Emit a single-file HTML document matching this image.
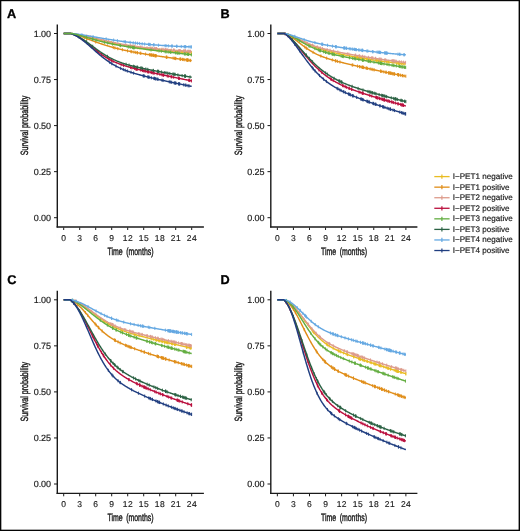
<!DOCTYPE html>
<html><head><meta charset="utf-8"><style>
html,body{margin:0;padding:0;background:#fff;}
body{width:520px;height:531px;overflow:hidden;}
svg{display:block;}
text{font-family:"Liberation Sans",sans-serif;fill:#1a1a1a;text-rendering:geometricPrecision;}
.tl{font-size:8.5px;letter-spacing:0.45px;stroke:#1a1a1a;stroke-width:0.15px;}
.at{font-size:10.5px;stroke:#1a1a1a;stroke-width:0.42px;}
.lg{font-size:8.1px;stroke:#1a1a1a;stroke-width:0.18px;}
.pl{font-size:12.7px;font-weight:bold;fill:#000;stroke:#000;stroke-width:0.3px;}
</style></head><body>
<svg width="520" height="531" viewBox="0 0 520 531" style="will-change:transform">
<rect x="0" y="0" width="520" height="531" fill="#fff"/>
<text x="7.1" y="17.65" class="pl">A</text>
<text x="220.5" y="17.75" class="pl">B</text>
<text x="7.2" y="283.85" class="pl">C</text>
<text x="220.5" y="283.85" class="pl">D</text>
<line x1="57.30" y1="24.40" x2="57.30" y2="227.60" stroke="#1a1a1a" stroke-width="1.4"/>
<line x1="56.60" y1="227.05" x2="203.90" y2="227.05" stroke="#1a1a1a" stroke-width="1.45"/>
<line x1="54.00" y1="33.50" x2="57.30" y2="33.50" stroke="#1a1a1a" stroke-width="1"/>
<text x="50.90" y="36.50" class="tl" style="font-size:9px;letter-spacing:-0.1px;stroke:#1a1a1a;stroke-width:0.17px" text-anchor="end">1.00</text>
<line x1="54.00" y1="79.55" x2="57.30" y2="79.55" stroke="#1a1a1a" stroke-width="1"/>
<text x="50.90" y="82.55" class="tl" style="font-size:9px;letter-spacing:-0.1px;stroke:#1a1a1a;stroke-width:0.17px" text-anchor="end">0.75</text>
<line x1="54.00" y1="125.60" x2="57.30" y2="125.60" stroke="#1a1a1a" stroke-width="1"/>
<text x="50.90" y="128.60" class="tl" style="font-size:9px;letter-spacing:-0.1px;stroke:#1a1a1a;stroke-width:0.17px" text-anchor="end">0.50</text>
<line x1="54.00" y1="171.65" x2="57.30" y2="171.65" stroke="#1a1a1a" stroke-width="1"/>
<text x="50.90" y="174.65" class="tl" style="font-size:9px;letter-spacing:-0.1px;stroke:#1a1a1a;stroke-width:0.17px" text-anchor="end">0.25</text>
<line x1="54.00" y1="217.70" x2="57.30" y2="217.70" stroke="#1a1a1a" stroke-width="1"/>
<text x="50.90" y="220.70" class="tl" style="font-size:9px;letter-spacing:-0.1px;stroke:#1a1a1a;stroke-width:0.17px" text-anchor="end">0.00</text>
<line x1="63.70" y1="227.50" x2="63.70" y2="230.00" stroke="#1a1a1a" stroke-width="1"/>
<text x="63.92" y="240.90" class="tl" text-anchor="middle">0</text>
<line x1="79.70" y1="227.50" x2="79.70" y2="230.00" stroke="#1a1a1a" stroke-width="1"/>
<text x="79.92" y="240.90" class="tl" text-anchor="middle">3</text>
<line x1="95.70" y1="227.50" x2="95.70" y2="230.00" stroke="#1a1a1a" stroke-width="1"/>
<text x="95.92" y="240.90" class="tl" text-anchor="middle">6</text>
<line x1="111.70" y1="227.50" x2="111.70" y2="230.00" stroke="#1a1a1a" stroke-width="1"/>
<text x="111.92" y="240.90" class="tl" text-anchor="middle">9</text>
<line x1="127.70" y1="227.50" x2="127.70" y2="230.00" stroke="#1a1a1a" stroke-width="1"/>
<text x="127.92" y="240.90" class="tl" text-anchor="middle">12</text>
<line x1="143.69" y1="227.50" x2="143.69" y2="230.00" stroke="#1a1a1a" stroke-width="1"/>
<text x="143.91" y="240.90" class="tl" text-anchor="middle">15</text>
<line x1="159.69" y1="227.50" x2="159.69" y2="230.00" stroke="#1a1a1a" stroke-width="1"/>
<text x="159.91" y="240.90" class="tl" text-anchor="middle">18</text>
<line x1="175.69" y1="227.50" x2="175.69" y2="230.00" stroke="#1a1a1a" stroke-width="1"/>
<text x="175.91" y="240.90" class="tl" text-anchor="middle">21</text>
<line x1="191.69" y1="227.50" x2="191.69" y2="230.00" stroke="#1a1a1a" stroke-width="1"/>
<text x="191.91" y="240.90" class="tl" text-anchor="middle">24</text>
<text transform="translate(130.50,255.10) scale(0.662,1)" class="at" style="word-spacing:2.4px" text-anchor="middle">Time (months)</text>
<text transform="translate(28.30,125.40) rotate(-90) scale(0.675,1)" class="at" text-anchor="middle">Survival probability</text>
<path d="M63.70,33.50L64.23,33.50L64.77,33.50L65.30,33.50L65.83,33.50L66.37,33.50L66.90,33.50L67.43,33.50L67.97,33.50L68.50,33.50L69.03,33.50L69.57,33.50L70.10,33.50L70.63,33.50L71.17,33.50L71.70,33.50L72.23,33.57L72.77,33.64L73.30,33.72L73.83,33.80L74.37,33.89L74.90,33.99L75.43,34.08L75.97,34.18L76.50,34.29L77.03,34.39L77.57,34.50L78.10,34.61L78.63,34.72L79.17,34.84L79.70,34.96L80.23,35.08L80.77,35.20L81.30,35.32L81.83,35.44L82.37,35.57L82.90,35.69L83.43,35.82L83.97,35.95L84.50,36.08L85.03,36.21L85.57,36.35L86.10,36.48L86.63,36.61L87.17,36.75L87.70,36.88L88.23,37.02L88.77,37.15L89.30,37.29L89.83,37.43L90.37,37.56L90.90,37.70L91.43,37.84L91.96,37.98L92.50,38.12L93.03,38.25L93.56,38.39L94.10,38.53L94.63,38.67L95.16,38.81L95.70,38.94L96.23,39.08L96.76,39.22L97.30,39.36L97.83,39.49L98.36,39.63L98.90,39.76L99.43,39.90L99.96,40.03L100.50,40.17L101.03,40.30L101.56,40.44L102.10,40.57L102.63,40.70L103.16,40.83L103.70,40.96L104.23,41.09L104.76,41.22L105.30,41.35L105.83,41.48L106.36,41.61L106.90,41.74L107.43,41.86L107.96,41.99L108.50,42.11L109.03,42.23L109.56,42.36L110.10,42.48L110.63,42.60L111.16,42.72L111.70,42.84L112.23,42.96L112.76,43.07L113.30,43.19L113.83,43.31L114.36,43.42L114.90,43.53L115.43,43.65L115.96,43.76L116.50,43.87L117.03,43.98L117.56,44.09L118.10,44.20L118.63,44.30L119.16,44.41L119.70,44.51L120.23,44.62L120.76,44.72L121.30,44.82L121.83,44.93L122.36,45.03L122.90,45.13L123.43,45.22L123.96,45.32L124.50,45.42L125.03,45.51L125.56,45.61L126.10,45.70L126.63,45.80L127.16,45.89L127.70,45.98L128.23,46.07L128.76,46.16L129.30,46.25L129.83,46.33L130.36,46.42L130.90,46.51L131.43,46.59L131.96,46.68L132.50,46.76L133.03,46.84L133.56,46.92L134.10,47.01L134.63,47.09L135.16,47.16L135.70,47.24L136.23,47.32L136.76,47.40L137.30,47.47L137.83,47.55L138.36,47.62L138.90,47.70L139.43,47.77L139.96,47.84L140.50,47.91L141.03,47.99L141.56,48.06L142.10,48.13L142.63,48.19L143.16,48.26L143.69,48.33L144.23,48.40L144.76,48.46L145.29,48.53L145.83,48.60L146.36,48.66L146.89,48.72L147.43,48.79L147.96,48.85L148.49,48.91L149.03,48.97L149.56,49.03L150.09,49.09L150.63,49.15L151.16,49.21L151.69,49.27L152.23,49.33L152.76,49.39L153.29,49.45L153.83,49.50L154.36,49.56L154.89,49.62L155.43,49.67L155.96,49.73L156.49,49.78L157.03,49.83L157.56,49.89L158.09,49.94L158.63,49.99L159.16,50.05L159.69,50.10L160.23,50.15L160.76,50.20L161.29,50.25L161.83,50.30L162.36,50.35L162.89,50.40L163.43,50.45L163.96,50.50L164.49,50.55L165.03,50.60L165.56,50.64L166.09,50.69L166.63,50.74L167.16,50.78L167.69,50.83L168.23,50.88L168.76,50.92L169.29,50.97L169.83,51.01L170.36,51.06L170.89,51.10L171.43,51.15L171.96,51.19L172.49,51.24L173.03,51.28L173.56,51.32L174.09,51.37L174.63,51.41L175.16,51.45L175.69,51.50L176.23,51.54L176.76,51.58L177.29,51.62L177.83,51.66L178.36,51.70L178.89,51.75L179.43,51.79L179.96,51.83L180.49,51.87L181.03,51.91L181.56,51.95L182.09,51.99L182.63,52.03L183.16,52.07L183.69,52.11L184.23,52.15L184.76,52.18L185.29,52.22L185.83,52.26L186.36,52.30L186.89,52.34L187.43,52.38L187.96,52.41L188.49,52.45L189.03,52.49L189.56,52.53L190.09,52.57L190.63,52.60L191.16,52.64L191.69,52.68" fill="none" stroke="#E9BC22" stroke-width="1.45"/>
<path d="M87.23,35.16v3.2M92.97,36.64v3.2M111.25,41.14v3.2M111.68,41.23v3.2M114.83,41.92v3.2M115.10,41.98v3.2M118.18,42.61v3.2M119.68,42.91v3.2M126.76,44.22v3.2M129.80,44.73v3.2M131.90,45.07v3.2M134.98,45.54v3.2M135.05,45.55v3.2M137.25,45.87v3.2M137.51,45.90v3.2M138.24,46.01v3.2M140.14,46.27v3.2M144.83,46.87v3.2M146.76,47.11v3.2M148.20,47.28v3.2M149.33,47.41v3.2M150.23,47.51v3.2M151.14,47.61v3.2M152.96,47.81v3.2M156.74,48.20v3.2M157.20,48.25v3.2M157.42,48.27v3.2M159.32,48.46v3.2M161.10,48.63v3.2M162.01,48.72v3.2M162.34,48.75v3.2M169.39,49.38v3.2M169.64,49.40v3.2M170.33,49.46v3.2M170.80,49.50v3.2M174.18,49.77v3.2M174.35,49.79v3.2M175.18,49.85v3.2M176.64,49.97v3.2M176.66,49.97v3.2M176.83,49.98v3.2M179.00,50.15v3.2M180.06,50.23v3.2M181.60,50.35v3.2M182.48,50.42v3.2M183.42,50.49v3.2M185.44,50.63v3.2M185.60,50.65v3.2M187.35,50.77v3.2M187.81,50.80v3.2M188.25,50.84v3.2M189.20,50.90v3.2M190.02,50.96v3.2M191.47,51.06v3.2" fill="none" stroke="#E9BC22" stroke-width="0.9"/>
<path d="M63.70,33.50L64.23,33.50L64.77,33.50L65.30,33.50L65.83,33.50L66.37,33.50L66.90,33.50L67.43,33.50L67.97,33.50L68.50,33.50L69.03,33.50L69.57,33.50L70.10,33.50L70.63,33.50L71.17,33.50L71.70,33.50L72.23,33.60L72.77,33.72L73.30,33.86L73.83,34.00L74.37,34.15L74.90,34.30L75.43,34.47L75.97,34.63L76.50,34.80L77.03,34.98L77.57,35.16L78.10,35.34L78.63,35.53L79.17,35.72L79.70,35.91L80.23,36.10L80.77,36.29L81.30,36.49L81.83,36.69L82.37,36.89L82.90,37.09L83.43,37.29L83.97,37.49L84.50,37.70L85.03,37.90L85.57,38.10L86.10,38.31L86.63,38.51L87.17,38.72L87.70,38.92L88.23,39.12L88.77,39.33L89.30,39.53L89.83,39.74L90.37,39.94L90.90,40.14L91.43,40.34L91.96,40.54L92.50,40.74L93.03,40.94L93.56,41.14L94.10,41.33L94.63,41.53L95.16,41.72L95.70,41.92L96.23,42.11L96.76,42.30L97.30,42.49L97.83,42.68L98.36,42.86L98.90,43.05L99.43,43.23L99.96,43.42L100.50,43.60L101.03,43.78L101.56,43.95L102.10,44.13L102.63,44.31L103.16,44.48L103.70,44.65L104.23,44.82L104.76,44.99L105.30,45.16L105.83,45.32L106.36,45.49L106.90,45.65L107.43,45.81L107.96,45.97L108.50,46.13L109.03,46.29L109.56,46.44L110.10,46.60L110.63,46.75L111.16,46.90L111.70,47.05L112.23,47.19L112.76,47.34L113.30,47.48L113.83,47.63L114.36,47.77L114.90,47.91L115.43,48.05L115.96,48.18L116.50,48.32L117.03,48.46L117.56,48.59L118.10,48.72L118.63,48.85L119.16,48.98L119.70,49.11L120.23,49.23L120.76,49.36L121.30,49.48L121.83,49.61L122.36,49.73L122.90,49.85L123.43,49.97L123.96,50.09L124.50,50.20L125.03,50.32L125.56,50.43L126.10,50.55L126.63,50.66L127.16,50.77L127.70,50.88L128.23,50.99L128.76,51.10L129.30,51.21L129.83,51.31L130.36,51.42L130.90,51.53L131.43,51.63L131.96,51.73L132.50,51.84L133.03,51.94L133.56,52.04L134.10,52.14L134.63,52.24L135.16,52.34L135.70,52.43L136.23,52.53L136.76,52.63L137.30,52.72L137.83,52.82L138.36,52.91L138.90,53.00L139.43,53.10L139.96,53.19L140.50,53.28L141.03,53.37L141.56,53.46L142.10,53.55L142.63,53.64L143.16,53.73L143.69,53.82L144.23,53.91L144.76,53.99L145.29,54.08L145.83,54.17L146.36,54.25L146.89,54.34L147.43,54.42L147.96,54.51L148.49,54.59L149.03,54.67L149.56,54.76L150.09,54.84L150.63,54.92L151.16,55.01L151.69,55.09L152.23,55.17L152.76,55.25L153.29,55.33L153.83,55.41L154.36,55.49L154.89,55.57L155.43,55.65L155.96,55.73L156.49,55.81L157.03,55.89L157.56,55.97L158.09,56.04L158.63,56.12L159.16,56.20L159.69,56.28L160.23,56.35L160.76,56.43L161.29,56.51L161.83,56.58L162.36,56.66L162.89,56.74L163.43,56.81L163.96,56.89L164.49,56.96L165.03,57.04L165.56,57.11L166.09,57.19L166.63,57.26L167.16,57.34L167.69,57.41L168.23,57.49L168.76,57.56L169.29,57.63L169.83,57.71L170.36,57.78L170.89,57.85L171.43,57.93L171.96,58.00L172.49,58.07L173.03,58.15L173.56,58.22L174.09,58.29L174.63,58.37L175.16,58.44L175.69,58.51L176.23,58.58L176.76,58.65L177.29,58.73L177.83,58.80L178.36,58.87L178.89,58.94L179.43,59.01L179.96,59.09L180.49,59.16L181.03,59.23L181.56,59.30L182.09,59.37L182.63,59.44L183.16,59.51L183.69,59.58L184.23,59.65L184.76,59.73L185.29,59.80L185.83,59.87L186.36,59.94L186.89,60.01L187.43,60.08L187.96,60.15L188.49,60.22L189.03,60.29L189.56,60.36L190.09,60.43L190.63,60.50L191.16,60.57L191.69,60.64" fill="none" stroke="#E08D18" stroke-width="1.45"/>
<path d="M80.11,34.45v3.2M84.42,36.07v3.2M86.72,36.95v3.2M87.08,37.08v3.2M95.72,40.32v3.2M113.28,45.88v3.2M114.87,46.30v3.2M117.80,47.05v3.2M122.41,48.14v3.2M127.49,49.24v3.2M130.91,49.93v3.2M131.75,50.09v3.2M133.96,50.51v3.2M135.70,50.83v3.2M137.27,51.12v3.2M137.35,51.13v3.2M140.21,51.63v3.2M140.83,51.74v3.2M145.57,52.52v3.2M149.53,53.15v3.2M150.36,53.28v3.2M151.30,53.43v3.2M151.42,53.44v3.2M152.38,53.59v3.2M153.41,53.75v3.2M153.43,53.75v3.2M153.88,53.82v3.2M155.03,53.99v3.2M155.15,54.01v3.2M155.36,54.04v3.2M155.55,54.07v3.2M156.40,54.19v3.2M166.23,55.61v3.2M166.73,55.68v3.2M166.78,55.68v3.2M173.17,56.57v3.2M174.62,56.76v3.2M175.44,56.88v3.2M175.86,56.93v3.2M179.88,57.47v3.2M180.65,57.58v3.2M180.69,57.58v3.2M182.54,57.83v3.2M183.27,57.93v3.2M184.78,58.13v3.2M186.36,58.34v3.2M186.86,58.40v3.2M187.57,58.50v3.2M187.70,58.51v3.2M187.84,58.53v3.2M188.10,58.57v3.2M189.92,58.81v3.2M190.59,58.90v3.2" fill="none" stroke="#E08D18" stroke-width="0.9"/>
<path d="M63.70,33.50L64.23,33.50L64.77,33.50L65.30,33.50L65.83,33.50L66.37,33.50L66.90,33.50L67.43,33.50L67.97,33.50L68.50,33.50L69.03,33.50L69.57,33.50L70.10,33.50L70.63,33.50L71.17,33.50L71.70,33.50L72.23,33.57L72.77,33.64L73.30,33.71L73.83,33.78L74.37,33.86L74.90,33.93L75.43,34.01L75.97,34.09L76.50,34.18L77.03,34.27L77.57,34.35L78.10,34.44L78.63,34.54L79.17,34.63L79.70,34.73L80.23,34.82L80.77,34.92L81.30,35.02L81.83,35.13L82.37,35.23L82.90,35.34L83.43,35.44L83.97,35.55L84.50,35.66L85.03,35.78L85.57,35.89L86.10,36.00L86.63,36.12L87.17,36.24L87.70,36.36L88.23,36.48L88.77,36.60L89.30,36.72L89.83,36.84L90.37,36.96L90.90,37.09L91.43,37.21L91.96,37.34L92.50,37.47L93.03,37.59L93.56,37.72L94.10,37.85L94.63,37.98L95.16,38.11L95.70,38.24L96.23,38.37L96.76,38.50L97.30,38.63L97.83,38.76L98.36,38.89L98.90,39.02L99.43,39.15L99.96,39.28L100.50,39.41L101.03,39.54L101.56,39.67L102.10,39.80L102.63,39.93L103.16,40.06L103.70,40.19L104.23,40.32L104.76,40.45L105.30,40.58L105.83,40.71L106.36,40.83L106.90,40.96L107.43,41.09L107.96,41.21L108.50,41.34L109.03,41.46L109.56,41.58L110.10,41.71L110.63,41.83L111.16,41.95L111.70,42.07L112.23,42.19L112.76,42.31L113.30,42.42L113.83,42.54L114.36,42.66L114.90,42.77L115.43,42.88L115.96,43.00L116.50,43.11L117.03,43.22L117.56,43.33L118.10,43.44L118.63,43.55L119.16,43.65L119.70,43.76L120.23,43.86L120.76,43.97L121.30,44.07L121.83,44.17L122.36,44.27L122.90,44.37L123.43,44.47L123.96,44.56L124.50,44.66L125.03,44.76L125.56,44.85L126.10,44.94L126.63,45.03L127.16,45.12L127.70,45.21L128.23,45.30L128.76,45.39L129.30,45.48L129.83,45.56L130.36,45.65L130.90,45.73L131.43,45.81L131.96,45.90L132.50,45.98L133.03,46.06L133.56,46.13L134.10,46.21L134.63,46.29L135.16,46.36L135.70,46.44L136.23,46.51L136.76,46.59L137.30,46.66L137.83,46.73L138.36,46.80L138.90,46.87L139.43,46.94L139.96,47.01L140.50,47.08L141.03,47.14L141.56,47.21L142.10,47.27L142.63,47.34L143.16,47.40L143.69,47.46L144.23,47.53L144.76,47.59L145.29,47.65L145.83,47.71L146.36,47.77L146.89,47.83L147.43,47.89L147.96,47.95L148.49,48.00L149.03,48.06L149.56,48.12L150.09,48.17L150.63,48.23L151.16,48.28L151.69,48.34L152.23,48.39L152.76,48.44L153.29,48.49L153.83,48.55L154.36,48.60L154.89,48.65L155.43,48.70L155.96,48.75L156.49,48.80L157.03,48.85L157.56,48.90L158.09,48.95L158.63,49.00L159.16,49.05L159.69,49.09L160.23,49.14L160.76,49.19L161.29,49.23L161.83,49.28L162.36,49.33L162.89,49.37L163.43,49.42L163.96,49.46L164.49,49.51L165.03,49.55L165.56,49.60L166.09,49.64L166.63,49.69L167.16,49.73L167.69,49.77L168.23,49.82L168.76,49.86L169.29,49.90L169.83,49.95L170.36,49.99L170.89,50.03L171.43,50.07L171.96,50.11L172.49,50.15L173.03,50.20L173.56,50.24L174.09,50.28L174.63,50.32L175.16,50.36L175.69,50.40L176.23,50.44L176.76,50.48L177.29,50.52L177.83,50.56L178.36,50.60L178.89,50.64L179.43,50.68L179.96,50.72L180.49,50.76L181.03,50.80L181.56,50.83L182.09,50.87L182.63,50.91L183.16,50.95L183.69,50.99L184.23,51.03L184.76,51.06L185.29,51.10L185.83,51.14L186.36,51.18L186.89,51.21L187.43,51.25L187.96,51.29L188.49,51.33L189.03,51.36L189.56,51.40L190.09,51.44L190.63,51.47L191.16,51.51L191.69,51.55" fill="none" stroke="#DD9B8B" stroke-width="1.45"/>
<path d="M86.91,34.58v3.2M90.66,35.43v3.2M103.62,38.57v3.2M108.56,39.75v3.2M125.78,43.29v3.2M130.42,44.06v3.2M132.10,44.32v3.2M133.79,44.57v3.2M134.54,44.68v3.2M140.32,45.45v3.2M141.85,45.64v3.2M147.01,46.24v3.2M150.09,46.57v3.2M151.01,46.67v3.2M152.24,46.79v3.2M152.69,46.84v3.2M154.53,47.01v3.2M155.77,47.13v3.2M155.95,47.15v3.2M156.29,47.18v3.2M156.35,47.19v3.2M156.81,47.23v3.2M161.92,47.69v3.2M163.29,47.81v3.2M165.15,47.96v3.2M165.66,48.01v3.2M166.12,48.04v3.2M167.78,48.18v3.2M171.35,48.47v3.2M173.50,48.63v3.2M174.00,48.67v3.2M174.10,48.68v3.2M178.79,49.03v3.2M179.15,49.06v3.2M179.65,49.10v3.2M180.58,49.16v3.2M183.45,49.37v3.2M184.08,49.42v3.2M184.58,49.45v3.2M185.43,49.51v3.2M185.56,49.52v3.2M185.60,49.52v3.2M187.74,49.67v3.2M188.55,49.73v3.2M189.75,49.81v3.2M189.97,49.83v3.2M190.55,49.87v3.2" fill="none" stroke="#DD9B8B" stroke-width="0.9"/>
<path d="M63.70,33.50L64.23,33.50L64.77,33.50L65.30,33.50L65.83,33.50L66.37,33.50L66.90,33.50L67.43,33.50L67.97,33.50L68.50,33.50L69.03,33.50L69.57,33.50L70.10,33.50L70.63,33.50L71.17,33.65L71.70,33.82L72.23,34.00L72.77,34.19L73.30,34.40L73.83,34.61L74.37,34.84L74.90,35.08L75.43,35.33L75.97,35.60L76.50,35.87L77.03,36.15L77.57,36.45L78.10,36.76L78.63,37.07L79.17,37.40L79.70,37.73L80.23,38.08L80.77,38.43L81.30,38.79L81.83,39.16L82.37,39.54L82.90,39.92L83.43,40.31L83.97,40.71L84.50,41.11L85.03,41.52L85.57,41.93L86.10,42.35L86.63,42.77L87.17,43.19L87.70,43.62L88.23,44.05L88.77,44.48L89.30,44.91L89.83,45.35L90.37,45.78L90.90,46.22L91.43,46.66L91.96,47.09L92.50,47.53L93.03,47.96L93.56,48.39L94.10,48.82L94.63,49.25L95.16,49.68L95.70,50.10L96.23,50.52L96.76,50.94L97.30,51.35L97.83,51.76L98.36,52.17L98.90,52.57L99.43,52.96L99.96,53.35L100.50,53.74L101.03,54.12L101.56,54.50L102.10,54.87L102.63,55.23L103.16,55.59L103.70,55.95L104.23,56.30L104.76,56.64L105.30,56.98L105.83,57.31L106.36,57.63L106.90,57.95L107.43,58.27L107.96,58.57L108.50,58.88L109.03,59.17L109.56,59.46L110.10,59.75L110.63,60.03L111.16,60.30L111.70,60.57L112.23,60.83L112.76,61.09L113.30,61.34L113.83,61.59L114.36,61.83L114.90,62.07L115.43,62.30L115.96,62.53L116.50,62.75L117.03,62.97L117.56,63.19L118.10,63.40L118.63,63.61L119.16,63.81L119.70,64.01L120.23,64.21L120.76,64.40L121.30,64.59L121.83,64.77L122.36,64.95L122.90,65.13L123.43,65.31L123.96,65.48L124.50,65.65L125.03,65.82L125.56,65.99L126.10,66.15L126.63,66.31L127.16,66.47L127.70,66.62L128.23,66.78L128.76,66.93L129.30,67.08L129.83,67.23L130.36,67.38L130.90,67.52L131.43,67.67L131.96,67.81L132.50,67.95L133.03,68.09L133.56,68.23L134.10,68.37L134.63,68.51L135.16,68.64L135.70,68.78L136.23,68.91L136.76,69.04L137.30,69.17L137.83,69.30L138.36,69.43L138.90,69.56L139.43,69.69L139.96,69.82L140.50,69.95L141.03,70.07L141.56,70.20L142.10,70.33L142.63,70.45L143.16,70.58L143.69,70.70L144.23,70.82L144.76,70.95L145.29,71.07L145.83,71.19L146.36,71.31L146.89,71.43L147.43,71.56L147.96,71.68L148.49,71.80L149.03,71.92L149.56,72.04L150.09,72.16L150.63,72.28L151.16,72.40L151.69,72.51L152.23,72.63L152.76,72.75L153.29,72.87L153.83,72.99L154.36,73.11L154.89,73.22L155.43,73.34L155.96,73.46L156.49,73.57L157.03,73.69L157.56,73.81L158.09,73.92L158.63,74.04L159.16,74.15L159.69,74.27L160.23,74.39L160.76,74.50L161.29,74.62L161.83,74.73L162.36,74.84L162.89,74.96L163.43,75.07L163.96,75.19L164.49,75.30L165.03,75.41L165.56,75.53L166.09,75.64L166.63,75.75L167.16,75.87L167.69,75.98L168.23,76.09L168.76,76.21L169.29,76.32L169.83,76.43L170.36,76.54L170.89,76.65L171.43,76.76L171.96,76.88L172.49,76.99L173.03,77.10L173.56,77.21L174.09,77.32L174.63,77.43L175.16,77.54L175.69,77.65L176.23,77.76L176.76,77.87L177.29,77.98L177.83,78.09L178.36,78.20L178.89,78.31L179.43,78.42L179.96,78.53L180.49,78.63L181.03,78.74L181.56,78.85L182.09,78.96L182.63,79.07L183.16,79.18L183.69,79.28L184.23,79.39L184.76,79.50L185.29,79.61L185.83,79.71L186.36,79.82L186.89,79.93L187.43,80.03L187.96,80.14L188.49,80.25L189.03,80.35L189.56,80.46L190.09,80.56L190.63,80.67L191.16,80.77L191.69,80.88" fill="none" stroke="#BA0F3D" stroke-width="1.45"/>
<path d="M97.82,50.15v3.2M98.05,50.33v3.2M101.54,52.88v3.2M108.95,57.53v3.2M108.99,57.55v3.2M111.58,58.91v3.2M113.13,59.67v3.2M121.15,62.93v3.2M123.47,63.72v3.2M130.58,65.84v3.2M131.86,66.18v3.2M134.41,66.85v3.2M135.87,67.22v3.2M136.06,67.27v3.2M136.44,67.36v3.2M136.93,67.48v3.2M137.28,67.57v3.2M140.77,68.41v3.2M142.38,68.79v3.2M142.90,68.91v3.2M143.93,69.15v3.2M144.23,69.22v3.2M145.67,69.56v3.2M147.25,69.92v3.2M147.89,70.06v3.2M148.30,70.15v3.2M148.30,70.15v3.2M150.17,70.58v3.2M151.52,70.88v3.2M152.65,71.13v3.2M153.92,71.41v3.2M154.01,71.43v3.2M157.18,72.12v3.2M159.91,72.72v3.2M161.86,73.14v3.2M162.76,73.33v3.2M163.63,73.52v3.2M163.67,73.53v3.2M167.27,74.29v3.2M168.29,74.51v3.2M171.04,75.08v3.2M171.54,75.19v3.2M173.35,75.57v3.2M178.71,76.67v3.2M178.88,76.71v3.2M179.28,76.79v3.2M188.83,78.71v3.2M189.13,78.77v3.2M189.67,78.88v3.2M191.46,79.23v3.2" fill="none" stroke="#BA0F3D" stroke-width="0.9"/>
<path d="M63.70,33.50L64.23,33.50L64.77,33.50L65.30,33.50L65.83,33.50L66.37,33.50L66.90,33.50L67.43,33.50L67.97,33.50L68.50,33.50L69.03,33.50L69.57,33.50L70.10,33.50L70.63,33.50L71.17,33.65L71.70,33.81L72.23,33.98L72.77,34.16L73.30,34.35L73.83,34.55L74.37,34.76L74.90,34.98L75.43,35.21L75.97,35.45L76.50,35.70L77.03,35.96L77.57,36.22L78.10,36.50L78.63,36.78L79.17,37.08L79.70,37.38L80.23,37.69L80.77,38.00L81.30,38.33L81.83,38.66L82.37,39.00L82.90,39.34L83.43,39.69L83.97,40.04L84.50,40.40L85.03,40.77L85.57,41.14L86.10,41.51L86.63,41.89L87.17,42.28L87.70,42.66L88.23,43.05L88.77,43.44L89.30,43.83L89.83,44.23L90.37,44.62L90.90,45.02L91.43,45.42L91.96,45.82L92.50,46.21L93.03,46.61L93.56,47.01L94.10,47.41L94.63,47.80L95.16,48.20L95.70,48.59L96.23,48.98L96.76,49.37L97.30,49.76L97.83,50.14L98.36,50.52L98.90,50.90L99.43,51.27L99.96,51.65L100.50,52.01L101.03,52.38L101.56,52.74L102.10,53.09L102.63,53.44L103.16,53.79L103.70,54.13L104.23,54.47L104.76,54.80L105.30,55.13L105.83,55.45L106.36,55.77L106.90,56.08L107.43,56.39L107.96,56.69L108.50,56.99L109.03,57.29L109.56,57.57L110.10,57.86L110.63,58.14L111.16,58.41L111.70,58.68L112.23,58.94L112.76,59.20L113.30,59.45L113.83,59.70L114.36,59.95L114.90,60.18L115.43,60.42L115.96,60.65L116.50,60.88L117.03,61.10L117.56,61.31L118.10,61.53L118.63,61.74L119.16,61.94L119.70,62.14L120.23,62.34L120.76,62.53L121.30,62.72L121.83,62.91L122.36,63.09L122.90,63.27L123.43,63.45L123.96,63.62L124.50,63.79L125.03,63.96L125.56,64.12L126.10,64.29L126.63,64.44L127.16,64.60L127.70,64.76L128.23,64.91L128.76,65.06L129.30,65.20L129.83,65.35L130.36,65.49L130.90,65.63L131.43,65.77L131.96,65.91L132.50,66.04L133.03,66.18L133.56,66.31L134.10,66.44L134.63,66.57L135.16,66.70L135.70,66.82L136.23,66.95L136.76,67.07L137.30,67.19L137.83,67.31L138.36,67.43L138.90,67.55L139.43,67.67L139.96,67.79L140.50,67.90L141.03,68.02L141.56,68.13L142.10,68.25L142.63,68.36L143.16,68.47L143.69,68.58L144.23,68.69L144.76,68.80L145.29,68.91L145.83,69.02L146.36,69.13L146.89,69.24L147.43,69.35L147.96,69.45L148.49,69.56L149.03,69.66L149.56,69.77L150.09,69.87L150.63,69.98L151.16,70.08L151.69,70.19L152.23,70.29L152.76,70.39L153.29,70.49L153.83,70.60L154.36,70.70L154.89,70.80L155.43,70.90L155.96,71.00L156.49,71.10L157.03,71.20L157.56,71.30L158.09,71.40L158.63,71.50L159.16,71.60L159.69,71.70L160.23,71.80L160.76,71.89L161.29,71.99L161.83,72.09L162.36,72.19L162.89,72.28L163.43,72.38L163.96,72.48L164.49,72.57L165.03,72.67L165.56,72.76L166.09,72.86L166.63,72.96L167.16,73.05L167.69,73.15L168.23,73.24L168.76,73.33L169.29,73.43L169.83,73.52L170.36,73.62L170.89,73.71L171.43,73.80L171.96,73.90L172.49,73.99L173.03,74.08L173.56,74.17L174.09,74.27L174.63,74.36L175.16,74.45L175.69,74.54L176.23,74.63L176.76,74.72L177.29,74.82L177.83,74.91L178.36,75.00L178.89,75.09L179.43,75.18L179.96,75.27L180.49,75.36L181.03,75.45L181.56,75.53L182.09,75.62L182.63,75.71L183.16,75.80L183.69,75.89L184.23,75.98L184.76,76.07L185.29,76.15L185.83,76.24L186.36,76.33L186.89,76.42L187.43,76.50L187.96,76.59L188.49,76.68L189.03,76.76L189.56,76.85L190.09,76.94L190.63,77.02L191.16,77.11L191.69,77.19" fill="none" stroke="#2A6143" stroke-width="1.45"/>
<path d="M78.79,35.27v3.2M86.33,40.08v3.2M92.68,44.75v3.2M107.48,54.82v3.2M126.09,62.68v3.2M129.08,63.54v3.2M133.56,64.71v3.2M134.76,65.00v3.2M136.94,65.51v3.2M137.58,65.66v3.2M140.88,66.39v3.2M141.19,66.45v3.2M142.44,66.72v3.2M145.80,67.42v3.2M147.74,67.81v3.2M153.20,68.88v3.2M153.38,68.91v3.2M157.49,69.69v3.2M157.97,69.78v3.2M158.61,69.90v3.2M158.68,69.91v3.2M161.43,70.42v3.2M164.78,71.02v3.2M166.06,71.25v3.2M167.75,71.56v3.2M169.81,71.92v3.2M172.87,72.46v3.2M173.72,72.60v3.2M174.82,72.79v3.2M174.94,72.81v3.2M177.90,73.32v3.2M182.15,74.03v3.2M184.49,74.42v3.2M184.99,74.50v3.2M185.32,74.56v3.2M185.47,74.58v3.2M190.02,75.32v3.2" fill="none" stroke="#2A6143" stroke-width="0.9"/>
<path d="M63.70,33.50L64.23,33.50L64.77,33.50L65.30,33.50L65.83,33.50L66.37,33.50L66.90,33.50L67.43,33.50L67.97,33.50L68.50,33.50L69.03,33.50L69.57,33.50L70.10,33.50L70.63,33.50L71.17,33.50L71.70,33.50L72.23,33.53L72.77,33.56L73.30,33.61L73.83,33.66L74.37,33.72L74.90,33.78L75.43,33.84L75.97,33.91L76.50,33.98L77.03,34.05L77.57,34.12L78.10,34.19L78.63,34.27L79.17,34.35L79.70,34.43L80.23,34.51L80.77,34.59L81.30,34.68L81.83,34.76L82.37,34.84L82.90,34.93L83.43,35.02L83.97,35.11L84.50,35.19L85.03,35.28L85.57,35.37L86.10,35.46L86.63,35.55L87.17,35.65L87.70,35.74L88.23,35.83L88.77,35.92L89.30,36.01L89.83,36.11L90.37,36.20L90.90,36.29L91.43,36.39L91.96,36.48L92.50,36.57L93.03,36.67L93.56,36.76L94.10,36.85L94.63,36.95L95.16,37.04L95.70,37.14L96.23,37.23L96.76,37.32L97.30,37.42L97.83,37.51L98.36,37.60L98.90,37.69L99.43,37.79L99.96,37.88L100.50,37.97L101.03,38.06L101.56,38.15L102.10,38.25L102.63,38.34L103.16,38.43L103.70,38.52L104.23,38.61L104.76,38.70L105.30,38.79L105.83,38.88L106.36,38.96L106.90,39.05L107.43,39.14L107.96,39.23L108.50,39.32L109.03,39.40L109.56,39.49L110.10,39.57L110.63,39.66L111.16,39.74L111.70,39.83L112.23,39.91L112.76,40.00L113.30,40.08L113.83,40.16L114.36,40.24L114.90,40.32L115.43,40.41L115.96,40.49L116.50,40.57L117.03,40.65L117.56,40.72L118.10,40.80L118.63,40.88L119.16,40.96L119.70,41.03L120.23,41.11L120.76,41.19L121.30,41.26L121.83,41.34L122.36,41.41L122.90,41.48L123.43,41.56L123.96,41.63L124.50,41.70L125.03,41.77L125.56,41.84L126.10,41.91L126.63,41.98L127.16,42.05L127.70,42.12L128.23,42.19L128.76,42.26L129.30,42.33L129.83,42.39L130.36,42.46L130.90,42.52L131.43,42.59L131.96,42.65L132.50,42.72L133.03,42.78L133.56,42.84L134.10,42.90L134.63,42.97L135.16,43.03L135.70,43.09L136.23,43.15L136.76,43.21L137.30,43.27L137.83,43.32L138.36,43.38L138.90,43.44L139.43,43.50L139.96,43.55L140.50,43.61L141.03,43.66L141.56,43.72L142.10,43.77L142.63,43.83L143.16,43.88L143.69,43.93L144.23,43.98L144.76,44.04L145.29,44.09L145.83,44.14L146.36,44.19L146.89,44.24L147.43,44.29L147.96,44.33L148.49,44.38L149.03,44.43L149.56,44.48L150.09,44.52L150.63,44.57L151.16,44.62L151.69,44.66L152.23,44.71L152.76,44.75L153.29,44.79L153.83,44.84L154.36,44.88L154.89,44.92L155.43,44.96L155.96,45.01L156.49,45.05L157.03,45.09L157.56,45.13L158.09,45.17L158.63,45.21L159.16,45.25L159.69,45.28L160.23,45.32L160.76,45.36L161.29,45.40L161.83,45.43L162.36,45.47L162.89,45.51L163.43,45.54L163.96,45.58L164.49,45.61L165.03,45.65L165.56,45.68L166.09,45.71L166.63,45.75L167.16,45.78L167.69,45.81L168.23,45.84L168.76,45.88L169.29,45.91L169.83,45.94L170.36,45.97L170.89,46.00L171.43,46.03L171.96,46.06L172.49,46.09L173.03,46.12L173.56,46.15L174.09,46.17L174.63,46.20L175.16,46.23L175.69,46.26L176.23,46.28L176.76,46.31L177.29,46.34L177.83,46.36L178.36,46.39L178.89,46.41L179.43,46.44L179.96,46.46L180.49,46.49L181.03,46.51L181.56,46.53L182.09,46.56L182.63,46.58L183.16,46.60L183.69,46.63L184.23,46.65L184.76,46.67L185.29,46.69L185.83,46.71L186.36,46.73L186.89,46.76L187.43,46.78L187.96,46.80L188.49,46.82L189.03,46.84L189.56,46.86L190.09,46.88L190.63,46.89L191.16,46.91L191.69,46.93" fill="none" stroke="#64A8E2" stroke-width="1.45"/>
<path d="M81.93,33.18v3.2M93.11,35.08v3.2M106.15,37.33v3.2M113.61,38.53v3.2M117.46,39.11v3.2M124.13,40.05v3.2M125.45,40.23v3.2M130.14,40.83v3.2M133.22,41.20v3.2M135.49,41.46v3.2M137.45,41.68v3.2M139.60,41.91v3.2M142.19,42.18v3.2M144.67,42.43v3.2M148.56,42.79v3.2M149.35,42.86v3.2M150.21,42.93v3.2M153.60,43.22v3.2M154.10,43.26v3.2M158.44,43.59v3.2M165.06,44.05v3.2M166.09,44.11v3.2M168.32,44.25v3.2M171.67,44.44v3.2M172.33,44.48v3.2M176.56,44.70v3.2M177.02,44.72v3.2M181.27,44.92v3.2M184.13,45.04v3.2M184.88,45.07v3.2M185.28,45.09v3.2M185.77,45.11v3.2M189.02,45.24v3.2M190.92,45.30v3.2M191.28,45.32v3.2" fill="none" stroke="#64A8E2" stroke-width="0.9"/>
<path d="M63.70,33.50L64.23,33.50L64.77,33.50L65.30,33.50L65.83,33.50L66.37,33.50L66.90,33.50L67.43,33.50L67.97,33.50L68.50,33.50L69.03,33.50L69.57,33.50L70.10,33.50L70.63,33.50L71.17,33.68L71.70,33.87L72.23,34.08L72.77,34.29L73.30,34.52L73.83,34.76L74.37,35.01L74.90,35.27L75.43,35.54L75.97,35.83L76.50,36.12L77.03,36.43L77.57,36.74L78.10,37.07L78.63,37.41L79.17,37.75L79.70,38.11L80.23,38.48L80.77,38.85L81.30,39.23L81.83,39.62L82.37,40.02L82.90,40.43L83.43,40.84L83.97,41.26L84.50,41.69L85.03,42.12L85.57,42.56L86.10,43.00L86.63,43.45L87.17,43.90L87.70,44.36L88.23,44.82L88.77,45.28L89.30,45.74L89.83,46.21L90.37,46.68L90.90,47.15L91.43,47.63L91.96,48.10L92.50,48.58L93.03,49.05L93.56,49.52L94.10,50.00L94.63,50.47L95.16,50.94L95.70,51.41L96.23,51.88L96.76,52.34L97.30,52.81L97.83,53.27L98.36,53.72L98.90,54.18L99.43,54.63L99.96,55.08L100.50,55.52L101.03,55.96L101.56,56.39L102.10,56.82L102.63,57.24L103.16,57.66L103.70,58.08L104.23,58.49L104.76,58.89L105.30,59.29L105.83,59.68L106.36,60.07L106.90,60.45L107.43,60.83L107.96,61.20L108.50,61.57L109.03,61.92L109.56,62.28L110.10,62.62L110.63,62.97L111.16,63.30L111.70,63.63L112.23,63.96L112.76,64.27L113.30,64.59L113.83,64.89L114.36,65.19L114.90,65.49L115.43,65.78L115.96,66.07L116.50,66.35L117.03,66.62L117.56,66.89L118.10,67.15L118.63,67.41L119.16,67.67L119.70,67.92L120.23,68.16L120.76,68.40L121.30,68.64L121.83,68.87L122.36,69.10L122.90,69.32L123.43,69.54L123.96,69.76L124.50,69.97L125.03,70.18L125.56,70.38L126.10,70.59L126.63,70.78L127.16,70.98L127.70,71.17L128.23,71.36L128.76,71.54L129.30,71.73L129.83,71.91L130.36,72.08L130.90,72.26L131.43,72.43L131.96,72.60L132.50,72.77L133.03,72.94L133.56,73.10L134.10,73.26L134.63,73.42L135.16,73.58L135.70,73.74L136.23,73.89L136.76,74.04L137.30,74.19L137.83,74.34L138.36,74.49L138.90,74.64L139.43,74.78L139.96,74.93L140.50,75.07L141.03,75.21L141.56,75.35L142.10,75.49L142.63,75.63L143.16,75.77L143.69,75.91L144.23,76.04L144.76,76.18L145.29,76.31L145.83,76.44L146.36,76.58L146.89,76.71L147.43,76.84L147.96,76.97L148.49,77.10L149.03,77.23L149.56,77.36L150.09,77.49L150.63,77.61L151.16,77.74L151.69,77.87L152.23,77.99L152.76,78.12L153.29,78.24L153.83,78.37L154.36,78.49L154.89,78.61L155.43,78.74L155.96,78.86L156.49,78.98L157.03,79.10L157.56,79.22L158.09,79.35L158.63,79.47L159.16,79.59L159.69,79.71L160.23,79.83L160.76,79.95L161.29,80.06L161.83,80.18L162.36,80.30L162.89,80.42L163.43,80.54L163.96,80.65L164.49,80.77L165.03,80.89L165.56,81.01L166.09,81.12L166.63,81.24L167.16,81.35L167.69,81.47L168.23,81.58L168.76,81.70L169.29,81.81L169.83,81.93L170.36,82.04L170.89,82.15L171.43,82.27L171.96,82.38L172.49,82.49L173.03,82.61L173.56,82.72L174.09,82.83L174.63,82.94L175.16,83.05L175.69,83.17L176.23,83.28L176.76,83.39L177.29,83.50L177.83,83.61L178.36,83.72L178.89,83.83L179.43,83.94L179.96,84.05L180.49,84.16L181.03,84.26L181.56,84.37L182.09,84.48L182.63,84.59L183.16,84.70L183.69,84.81L184.23,84.91L184.76,85.02L185.29,85.13L185.83,85.23L186.36,85.34L186.89,85.45L187.43,85.55L187.96,85.66L188.49,85.76L189.03,85.87L189.56,85.97L190.09,86.08L190.63,86.18L191.16,86.29L191.69,86.39" fill="none" stroke="#203E80" stroke-width="1.45"/>
<path d="M109.81,60.84v3.2M111.77,62.08v3.2M116.05,64.51v3.2M120.67,66.76v3.2M123.27,67.88v3.2M125.21,68.65v3.2M127.33,69.44v3.2M131.00,70.69v3.2M133.60,71.51v3.2M143.12,74.16v3.2M143.69,74.31v3.2M144.26,74.45v3.2M147.72,75.31v3.2M148.58,75.52v3.2M149.15,75.66v3.2M151.35,76.18v3.2M154.06,76.82v3.2M154.29,76.87v3.2M154.33,76.88v3.2M155.65,77.19v3.2M155.90,77.25v3.2M157.34,77.58v3.2M158.06,77.74v3.2M162.01,78.62v3.2M163.11,78.87v3.2M169.28,80.21v3.2M170.37,80.44v3.2M171.61,80.71v3.2M174.21,81.26v3.2M174.94,81.41v3.2M175.39,81.50v3.2M176.00,81.63v3.2M178.66,82.18v3.2M178.82,82.21v3.2M179.34,82.32v3.2M179.74,82.40v3.2M183.72,83.21v3.2M185.28,83.52v3.2M186.04,83.68v3.2M188.02,84.07v3.2M189.10,84.28v3.2" fill="none" stroke="#203E80" stroke-width="0.9"/>
<path d="M63.70,33.50L64.23,33.50L64.77,33.50L65.30,33.50L65.83,33.50L66.37,33.50L66.90,33.50L67.43,33.50L67.97,33.50L68.50,33.50L69.03,33.50L69.57,33.50L70.10,33.50L70.63,33.50L71.17,33.50L71.70,33.50L72.23,33.58L72.77,33.67L73.30,33.78L73.83,33.88L74.37,34.00L74.90,34.12L75.43,34.24L75.97,34.37L76.50,34.50L77.03,34.63L77.57,34.77L78.10,34.91L78.63,35.05L79.17,35.19L79.70,35.34L80.23,35.49L80.77,35.64L81.30,35.79L81.83,35.94L82.37,36.10L82.90,36.25L83.43,36.41L83.97,36.56L84.50,36.72L85.03,36.88L85.57,37.04L86.10,37.20L86.63,37.35L87.17,37.51L87.70,37.67L88.23,37.83L88.77,37.99L89.30,38.15L89.83,38.30L90.37,38.46L90.90,38.62L91.43,38.77L91.96,38.93L92.50,39.08L93.03,39.24L93.56,39.39L94.10,39.54L94.63,39.69L95.16,39.84L95.70,39.99L96.23,40.14L96.76,40.28L97.30,40.43L97.83,40.57L98.36,40.72L98.90,40.86L99.43,41.00L99.96,41.14L100.50,41.28L101.03,41.41L101.56,41.55L102.10,41.68L102.63,41.82L103.16,41.95L103.70,42.08L104.23,42.21L104.76,42.34L105.30,42.46L105.83,42.59L106.36,42.71L106.90,42.83L107.43,42.96L107.96,43.08L108.50,43.19L109.03,43.31L109.56,43.43L110.10,43.54L110.63,43.66L111.16,43.77L111.70,43.88L112.23,43.99L112.76,44.10L113.30,44.21L113.83,44.31L114.36,44.42L114.90,44.52L115.43,44.63L115.96,44.73L116.50,44.83L117.03,44.93L117.56,45.03L118.10,45.13L118.63,45.22L119.16,45.32L119.70,45.41L120.23,45.51L120.76,45.60L121.30,45.69L121.83,45.79L122.36,45.88L122.90,45.97L123.43,46.06L123.96,46.14L124.50,46.23L125.03,46.32L125.56,46.40L126.10,46.49L126.63,46.57L127.16,46.66L127.70,46.74L128.23,46.82L128.76,46.91L129.30,46.99L129.83,47.07L130.36,47.15L130.90,47.23L131.43,47.31L131.96,47.38L132.50,47.46L133.03,47.54L133.56,47.62L134.10,47.69L134.63,47.77L135.16,47.84L135.70,47.92L136.23,47.99L136.76,48.07L137.30,48.14L137.83,48.22L138.36,48.29L138.90,48.36L139.43,48.43L139.96,48.51L140.50,48.58L141.03,48.65L141.56,48.72L142.10,48.79L142.63,48.86L143.16,48.93L143.69,49.00L144.23,49.07L144.76,49.14L145.29,49.21L145.83,49.28L146.36,49.35L146.89,49.42L147.43,49.49L147.96,49.55L148.49,49.62L149.03,49.69L149.56,49.76L150.09,49.83L150.63,49.89L151.16,49.96L151.69,50.03L152.23,50.09L152.76,50.16L153.29,50.23L153.83,50.29L154.36,50.36L154.89,50.43L155.43,50.49L155.96,50.56L156.49,50.62L157.03,50.69L157.56,50.75L158.09,50.82L158.63,50.88L159.16,50.95L159.69,51.01L160.23,51.08L160.76,51.14L161.29,51.21L161.83,51.27L162.36,51.34L162.89,51.40L163.43,51.47L163.96,51.53L164.49,51.60L165.03,51.66L165.56,51.72L166.09,51.79L166.63,51.85L167.16,51.92L167.69,51.98L168.23,52.04L168.76,52.11L169.29,52.17L169.83,52.23L170.36,52.30L170.89,52.36L171.43,52.42L171.96,52.49L172.49,52.55L173.03,52.61L173.56,52.68L174.09,52.74L174.63,52.80L175.16,52.87L175.69,52.93L176.23,52.99L176.76,53.06L177.29,53.12L177.83,53.18L178.36,53.24L178.89,53.31L179.43,53.37L179.96,53.43L180.49,53.49L181.03,53.56L181.56,53.62L182.09,53.68L182.63,53.74L183.16,53.81L183.69,53.87L184.23,53.93L184.76,53.99L185.29,54.06L185.83,54.12L186.36,54.18L186.89,54.24L187.43,54.31L187.96,54.37L188.49,54.43L189.03,54.49L189.56,54.55L190.09,54.62L190.63,54.68L191.16,54.74L191.69,54.80" fill="none" stroke="#62AD40" stroke-width="1.45"/>
<path d="M86.35,35.67v3.2M92.53,37.49v3.2M92.98,37.62v3.2M96.08,38.49v3.2M104.45,40.66v3.2M107.68,41.41v3.2M112.60,42.47v3.2M120.19,43.90v3.2M120.36,43.93v3.2M128.09,45.20v3.2M128.93,45.33v3.2M130.75,45.60v3.2M132.47,45.86v3.2M133.31,45.98v3.2M133.36,45.99v3.2M133.53,46.01v3.2M134.45,46.14v3.2M151.02,48.34v3.2M158.95,49.32v3.2M161.32,49.61v3.2M165.18,50.08v3.2M166.16,50.20v3.2M168.20,50.44v3.2M170.18,50.68v3.2M170.77,50.75v3.2M175.45,51.30v3.2M177.09,51.49v3.2M177.87,51.59v3.2M179.15,51.74v3.2M184.40,52.35v3.2M185.30,52.46v3.2M187.16,52.67v3.2M187.86,52.76v3.2M188.52,52.83v3.2M191.42,53.17v3.2" fill="none" stroke="#62AD40" stroke-width="0.9"/>
<line x1="270.80" y1="24.40" x2="270.80" y2="227.60" stroke="#1a1a1a" stroke-width="1.4"/>
<line x1="270.10" y1="227.05" x2="417.40" y2="227.05" stroke="#1a1a1a" stroke-width="1.45"/>
<line x1="267.50" y1="33.50" x2="270.80" y2="33.50" stroke="#1a1a1a" stroke-width="1"/>
<text x="264.40" y="36.50" class="tl" style="font-size:9px;letter-spacing:-0.1px;stroke:#1a1a1a;stroke-width:0.17px" text-anchor="end">1.00</text>
<line x1="267.50" y1="79.55" x2="270.80" y2="79.55" stroke="#1a1a1a" stroke-width="1"/>
<text x="264.40" y="82.55" class="tl" style="font-size:9px;letter-spacing:-0.1px;stroke:#1a1a1a;stroke-width:0.17px" text-anchor="end">0.75</text>
<line x1="267.50" y1="125.60" x2="270.80" y2="125.60" stroke="#1a1a1a" stroke-width="1"/>
<text x="264.40" y="128.60" class="tl" style="font-size:9px;letter-spacing:-0.1px;stroke:#1a1a1a;stroke-width:0.17px" text-anchor="end">0.50</text>
<line x1="267.50" y1="171.65" x2="270.80" y2="171.65" stroke="#1a1a1a" stroke-width="1"/>
<text x="264.40" y="174.65" class="tl" style="font-size:9px;letter-spacing:-0.1px;stroke:#1a1a1a;stroke-width:0.17px" text-anchor="end">0.25</text>
<line x1="267.50" y1="217.70" x2="270.80" y2="217.70" stroke="#1a1a1a" stroke-width="1"/>
<text x="264.40" y="220.70" class="tl" style="font-size:9px;letter-spacing:-0.1px;stroke:#1a1a1a;stroke-width:0.17px" text-anchor="end">0.00</text>
<line x1="277.35" y1="227.50" x2="277.35" y2="230.00" stroke="#1a1a1a" stroke-width="1"/>
<text x="277.57" y="240.90" class="tl" text-anchor="middle">0</text>
<line x1="293.42" y1="227.50" x2="293.42" y2="230.00" stroke="#1a1a1a" stroke-width="1"/>
<text x="293.64" y="240.90" class="tl" text-anchor="middle">3</text>
<line x1="309.49" y1="227.50" x2="309.49" y2="230.00" stroke="#1a1a1a" stroke-width="1"/>
<text x="309.71" y="240.90" class="tl" text-anchor="middle">6</text>
<line x1="325.55" y1="227.50" x2="325.55" y2="230.00" stroke="#1a1a1a" stroke-width="1"/>
<text x="325.77" y="240.90" class="tl" text-anchor="middle">9</text>
<line x1="341.62" y1="227.50" x2="341.62" y2="230.00" stroke="#1a1a1a" stroke-width="1"/>
<text x="341.84" y="240.90" class="tl" text-anchor="middle">12</text>
<line x1="357.69" y1="227.50" x2="357.69" y2="230.00" stroke="#1a1a1a" stroke-width="1"/>
<text x="357.91" y="240.90" class="tl" text-anchor="middle">15</text>
<line x1="373.76" y1="227.50" x2="373.76" y2="230.00" stroke="#1a1a1a" stroke-width="1"/>
<text x="373.98" y="240.90" class="tl" text-anchor="middle">18</text>
<line x1="389.83" y1="227.50" x2="389.83" y2="230.00" stroke="#1a1a1a" stroke-width="1"/>
<text x="390.05" y="240.90" class="tl" text-anchor="middle">21</text>
<line x1="405.89" y1="227.50" x2="405.89" y2="230.00" stroke="#1a1a1a" stroke-width="1"/>
<text x="406.11" y="240.90" class="tl" text-anchor="middle">24</text>
<text transform="translate(344.00,255.10) scale(0.662,1)" class="at" style="word-spacing:2.4px" text-anchor="middle">Time (months)</text>
<text transform="translate(241.80,125.40) rotate(-90) scale(0.675,1)" class="at" text-anchor="middle">Survival probability</text>
<path d="M277.35,33.50L277.89,33.50L278.42,33.50L278.96,33.50L279.49,33.50L280.03,33.50L280.56,33.50L281.10,33.50L281.63,33.50L282.17,33.50L282.71,33.50L283.24,33.50L283.78,33.50L284.31,33.50L284.85,33.50L285.38,33.50L285.92,33.69L286.46,33.88L286.99,34.08L287.53,34.28L288.06,34.49L288.60,34.70L289.13,34.92L289.67,35.14L290.20,35.37L290.74,35.60L291.28,35.84L291.81,36.08L292.35,36.32L292.88,36.57L293.42,36.82L293.95,37.07L294.49,37.33L295.02,37.59L295.56,37.86L296.10,38.12L296.63,38.39L297.17,38.66L297.70,38.93L298.24,39.20L298.77,39.47L299.31,39.75L299.85,40.02L300.38,40.30L300.92,40.57L301.45,40.84L301.99,41.12L302.52,41.39L303.06,41.66L303.59,41.93L304.13,42.20L304.67,42.46L305.20,42.73L305.74,42.99L306.27,43.25L306.81,43.51L307.34,43.77L307.88,44.02L308.41,44.27L308.95,44.52L309.49,44.76L310.02,45.00L310.56,45.24L311.09,45.47L311.63,45.70L312.16,45.93L312.70,46.16L313.24,46.38L313.77,46.59L314.31,46.81L314.84,47.02L315.38,47.22L315.91,47.43L316.45,47.63L316.98,47.82L317.52,48.02L318.06,48.21L318.59,48.39L319.13,48.58L319.66,48.76L320.20,48.94L320.73,49.11L321.27,49.28L321.80,49.45L322.34,49.62L322.88,49.78L323.41,49.94L323.95,50.10L324.48,50.25L325.02,50.41L325.55,50.56L326.09,50.71L326.63,50.85L327.16,51.00L327.70,51.14L328.23,51.28L328.77,51.42L329.30,51.56L329.84,51.69L330.37,51.83L330.91,51.96L331.45,52.09L331.98,52.22L332.52,52.35L333.05,52.47L333.59,52.60L334.12,52.72L334.66,52.85L335.19,52.97L335.73,53.09L336.27,53.21L336.80,53.32L337.34,53.44L337.87,53.56L338.41,53.67L338.94,53.79L339.48,53.90L340.02,54.01L340.55,54.13L341.09,54.24L341.62,54.35L342.16,54.46L342.69,54.57L343.23,54.67L343.76,54.78L344.30,54.89L344.84,55.00L345.37,55.10L345.91,55.21L346.44,55.31L346.98,55.41L347.51,55.52L348.05,55.62L348.58,55.72L349.12,55.82L349.66,55.92L350.19,56.02L350.73,56.12L351.26,56.22L351.80,56.32L352.33,56.42L352.87,56.52L353.41,56.61L353.94,56.71L354.48,56.81L355.01,56.90L355.55,57.00L356.08,57.09L356.62,57.18L357.15,57.28L357.69,57.37L358.23,57.46L358.76,57.56L359.30,57.65L359.83,57.74L360.37,57.83L360.90,57.92L361.44,58.01L361.97,58.10L362.51,58.19L363.05,58.28L363.58,58.36L364.12,58.45L364.65,58.54L365.19,58.62L365.72,58.71L366.26,58.80L366.80,58.88L367.33,58.97L367.87,59.05L368.40,59.13L368.94,59.22L369.47,59.30L370.01,59.38L370.54,59.47L371.08,59.55L371.62,59.63L372.15,59.71L372.69,59.79L373.22,59.87L373.76,59.95L374.29,60.03L374.83,60.11L375.36,60.19L375.90,60.27L376.44,60.34L376.97,60.42L377.51,60.50L378.04,60.57L378.58,60.65L379.11,60.73L379.65,60.80L380.19,60.88L380.72,60.95L381.26,61.03L381.79,61.10L382.33,61.17L382.86,61.25L383.40,61.32L383.93,61.39L384.47,61.46L385.01,61.53L385.54,61.61L386.08,61.68L386.61,61.75L387.15,61.82L387.68,61.89L388.22,61.96L388.75,62.03L389.29,62.09L389.83,62.16L390.36,62.23L390.90,62.30L391.43,62.37L391.97,62.43L392.50,62.50L393.04,62.57L393.58,62.63L394.11,62.70L394.65,62.76L395.18,62.83L395.72,62.89L396.25,62.96L396.79,63.02L397.32,63.09L397.86,63.15L398.40,63.21L398.93,63.28L399.47,63.34L400.00,63.40L400.54,63.46L401.07,63.52L401.61,63.58L402.14,63.64L402.68,63.71L403.22,63.77L403.75,63.83L404.29,63.89L404.82,63.94L405.36,64.00L405.89,64.06" fill="none" stroke="#E9BC22" stroke-width="1.45"/>
<path d="M294.55,35.76v3.2M301.86,39.45v3.2M304.72,40.89v3.2M305.83,41.44v3.2M306.46,41.74v3.2M307.37,42.18v3.2M316.18,45.93v3.2M318.54,46.78v3.2M323.19,48.27v3.2M324.34,48.61v3.2M331.25,50.44v3.2M331.33,50.46v3.2M332.73,50.80v3.2M339.11,52.22v3.2M340.10,52.43v3.2M343.84,53.20v3.2M349.67,54.33v3.2M354.62,55.23v3.2M354.75,55.25v3.2M354.77,55.26v3.2M355.21,55.34v3.2M356.79,55.61v3.2M357.03,55.66v3.2M357.53,55.74v3.2M357.62,55.76v3.2M359.15,56.02v3.2M359.32,56.05v3.2M360.63,56.27v3.2M361.88,56.48v3.2M362.07,56.51v3.2M363.12,56.69v3.2M364.27,56.88v3.2M364.69,56.94v3.2M366.52,57.24v3.2M367.69,57.42v3.2M369.29,57.67v3.2M371.25,57.97v3.2M372.83,58.21v3.2M375.90,58.66v3.2M376.41,58.74v3.2M377.04,58.83v3.2M377.17,58.85v3.2M378.71,59.07v3.2M379.24,59.14v3.2M379.58,59.19v3.2M381.08,59.40v3.2M381.59,59.47v3.2M384.85,59.91v3.2M386.71,60.16v3.2M388.06,60.34v3.2M388.71,60.42v3.2M393.04,60.97v3.2M396.43,61.38v3.2M397.13,61.46v3.2M398.38,61.61v3.2M398.40,61.61v3.2M399.00,61.68v3.2M399.69,61.76v3.2M399.71,61.77v3.2M401.45,61.97v3.2M403.00,62.14v3.2M403.97,62.25v3.2" fill="none" stroke="#E9BC22" stroke-width="0.9"/>
<path d="M277.35,33.50L277.89,33.50L278.42,33.50L278.96,33.50L279.49,33.50L280.03,33.50L280.56,33.50L281.10,33.50L281.63,33.50L282.17,33.50L282.71,33.50L283.24,33.50L283.78,33.50L284.31,33.50L284.85,33.50L285.38,33.67L285.92,33.87L286.46,34.09L286.99,34.34L287.53,34.59L288.06,34.87L288.60,35.16L289.13,35.47L289.67,35.78L290.20,36.11L290.74,36.46L291.28,36.81L291.81,37.17L292.35,37.54L292.88,37.92L293.42,38.31L293.95,38.70L294.49,39.10L295.02,39.50L295.56,39.91L296.10,40.32L296.63,40.74L297.17,41.15L297.70,41.57L298.24,41.99L298.77,42.41L299.31,42.83L299.85,43.25L300.38,43.66L300.92,44.08L301.45,44.49L301.99,44.90L302.52,45.31L303.06,45.71L303.59,46.11L304.13,46.51L304.67,46.90L305.20,47.29L305.74,47.67L306.27,48.04L306.81,48.41L307.34,48.78L307.88,49.14L308.41,49.49L308.95,49.84L309.49,50.18L310.02,50.52L310.56,50.85L311.09,51.17L311.63,51.49L312.16,51.80L312.70,52.10L313.24,52.40L313.77,52.69L314.31,52.98L314.84,53.26L315.38,53.54L315.91,53.80L316.45,54.07L316.98,54.33L317.52,54.58L318.06,54.83L318.59,55.07L319.13,55.31L319.66,55.54L320.20,55.77L320.73,55.99L321.27,56.21L321.80,56.42L322.34,56.63L322.88,56.84L323.41,57.04L323.95,57.24L324.48,57.43L325.02,57.62L325.55,57.81L326.09,57.99L326.63,58.17L327.16,58.35L327.70,58.53L328.23,58.70L328.77,58.87L329.30,59.04L329.84,59.20L330.37,59.36L330.91,59.53L331.45,59.68L331.98,59.84L332.52,60.00L333.05,60.15L333.59,60.30L334.12,60.45L334.66,60.60L335.19,60.74L335.73,60.89L336.27,61.03L336.80,61.18L337.34,61.32L337.87,61.46L338.41,61.60L338.94,61.74L339.48,61.87L340.02,62.01L340.55,62.15L341.09,62.28L341.62,62.42L342.16,62.55L342.69,62.68L343.23,62.81L343.76,62.94L344.30,63.08L344.84,63.21L345.37,63.34L345.91,63.46L346.44,63.59L346.98,63.72L347.51,63.85L348.05,63.98L348.58,64.10L349.12,64.23L349.66,64.36L350.19,64.48L350.73,64.61L351.26,64.73L351.80,64.86L352.33,64.98L352.87,65.10L353.41,65.23L353.94,65.35L354.48,65.47L355.01,65.60L355.55,65.72L356.08,65.84L356.62,65.96L357.15,66.09L357.69,66.21L358.23,66.33L358.76,66.45L359.30,66.57L359.83,66.69L360.37,66.81L360.90,66.93L361.44,67.05L361.97,67.17L362.51,67.29L363.05,67.41L363.58,67.53L364.12,67.64L364.65,67.76L365.19,67.88L365.72,68.00L366.26,68.12L366.80,68.23L367.33,68.35L367.87,68.47L368.40,68.58L368.94,68.70L369.47,68.82L370.01,68.93L370.54,69.05L371.08,69.16L371.62,69.28L372.15,69.39L372.69,69.51L373.22,69.62L373.76,69.74L374.29,69.85L374.83,69.97L375.36,70.08L375.90,70.19L376.44,70.31L376.97,70.42L377.51,70.53L378.04,70.65L378.58,70.76L379.11,70.87L379.65,70.99L380.19,71.10L380.72,71.21L381.26,71.32L381.79,71.43L382.33,71.54L382.86,71.65L383.40,71.77L383.93,71.88L384.47,71.99L385.01,72.10L385.54,72.21L386.08,72.32L386.61,72.43L387.15,72.54L387.68,72.65L388.22,72.75L388.75,72.86L389.29,72.97L389.83,73.08L390.36,73.19L390.90,73.30L391.43,73.41L391.97,73.51L392.50,73.62L393.04,73.73L393.58,73.84L394.11,73.94L394.65,74.05L395.18,74.16L395.72,74.26L396.25,74.37L396.79,74.47L397.32,74.58L397.86,74.69L398.40,74.79L398.93,74.90L399.47,75.00L400.00,75.11L400.54,75.21L401.07,75.32L401.61,75.42L402.14,75.52L402.68,75.63L403.22,75.73L403.75,75.83L404.29,75.94L404.82,76.04L405.36,76.14L405.89,76.25" fill="none" stroke="#E08D18" stroke-width="1.45"/>
<path d="M288.36,33.43v3.2M304.71,45.33v3.2M306.18,46.38v3.2M306.87,46.86v3.2M313.06,50.70v3.2M320.88,54.45v3.2M326.67,56.59v3.2M332.30,58.33v3.2M335.42,59.20v3.2M335.74,59.29v3.2M337.42,59.74v3.2M339.97,60.40v3.2M352.16,63.34v3.2M352.80,63.49v3.2M357.51,64.57v3.2M359.57,65.03v3.2M359.87,65.10v3.2M361.84,65.54v3.2M362.48,65.68v3.2M362.78,65.75v3.2M362.93,65.78v3.2M363.14,65.83v3.2M363.78,65.97v3.2M366.28,66.52v3.2M366.31,66.53v3.2M367.52,66.79v3.2M370.16,67.37v3.2M371.88,67.74v3.2M372.93,67.96v3.2M374.22,68.24v3.2M380.59,69.58v3.2M380.68,69.60v3.2M381.79,69.83v3.2M383.84,70.26v3.2M385.95,70.69v3.2M386.09,70.72v3.2M388.73,71.26v3.2M388.90,71.29v3.2M389.04,71.32v3.2M390.08,71.53v3.2M390.42,71.60v3.2M390.93,71.70v3.2M391.67,71.85v3.2M392.78,72.08v3.2M392.94,72.11v3.2M393.93,72.31v3.2M394.40,72.40v3.2M394.64,72.45v3.2M397.51,73.02v3.2M398.51,73.21v3.2M398.63,73.24v3.2M398.69,73.25v3.2M400.47,73.60v3.2M402.31,73.96v3.2M402.47,73.99v3.2M404.00,74.28v3.2M405.82,74.63v3.2" fill="none" stroke="#E08D18" stroke-width="0.9"/>
<path d="M277.35,33.50L277.89,33.50L278.42,33.50L278.96,33.50L279.49,33.50L280.03,33.50L280.56,33.50L281.10,33.50L281.63,33.50L282.17,33.50L282.71,33.50L283.24,33.50L283.78,33.50L284.31,33.50L284.85,33.50L285.38,33.50L285.92,33.66L286.46,33.83L286.99,34.00L287.53,34.19L288.06,34.37L288.60,34.57L289.13,34.77L289.67,34.97L290.20,35.18L290.74,35.40L291.28,35.62L291.81,35.85L292.35,36.08L292.88,36.32L293.42,36.56L293.95,36.81L294.49,37.06L295.02,37.31L295.56,37.56L296.10,37.82L296.63,38.08L297.17,38.34L297.70,38.60L298.24,38.87L298.77,39.13L299.31,39.40L299.85,39.66L300.38,39.93L300.92,40.19L301.45,40.46L301.99,40.72L302.52,40.98L303.06,41.24L303.59,41.50L304.13,41.75L304.67,42.00L305.20,42.25L305.74,42.50L306.27,42.74L306.81,42.99L307.34,43.22L307.88,43.46L308.41,43.69L308.95,43.92L309.49,44.14L310.02,44.36L310.56,44.58L311.09,44.79L311.63,45.00L312.16,45.20L312.70,45.40L313.24,45.60L313.77,45.79L314.31,45.98L314.84,46.17L315.38,46.35L315.91,46.53L316.45,46.71L316.98,46.88L317.52,47.05L318.06,47.22L318.59,47.38L319.13,47.54L319.66,47.70L320.20,47.85L320.73,48.01L321.27,48.15L321.80,48.30L322.34,48.45L322.88,48.59L323.41,48.73L323.95,48.87L324.48,49.00L325.02,49.14L325.55,49.27L326.09,49.40L326.63,49.53L327.16,49.66L327.70,49.78L328.23,49.91L328.77,50.03L329.30,50.15L329.84,50.27L330.37,50.39L330.91,50.51L331.45,50.63L331.98,50.75L332.52,50.86L333.05,50.98L333.59,51.09L334.12,51.20L334.66,51.32L335.19,51.43L335.73,51.54L336.27,51.65L336.80,51.76L337.34,51.86L337.87,51.97L338.41,52.08L338.94,52.19L339.48,52.29L340.02,52.40L340.55,52.50L341.09,52.61L341.62,52.71L342.16,52.82L342.69,52.92L343.23,53.02L343.76,53.12L344.30,53.22L344.84,53.33L345.37,53.43L345.91,53.53L346.44,53.63L346.98,53.73L347.51,53.82L348.05,53.92L348.58,54.02L349.12,54.12L349.66,54.22L350.19,54.31L350.73,54.41L351.26,54.50L351.80,54.60L352.33,54.70L352.87,54.79L353.41,54.88L353.94,54.98L354.48,55.07L355.01,55.17L355.55,55.26L356.08,55.35L356.62,55.44L357.15,55.53L357.69,55.63L358.23,55.72L358.76,55.81L359.30,55.90L359.83,55.99L360.37,56.08L360.90,56.17L361.44,56.25L361.97,56.34L362.51,56.43L363.05,56.52L363.58,56.61L364.12,56.69L364.65,56.78L365.19,56.87L365.72,56.95L366.26,57.04L366.80,57.12L367.33,57.21L367.87,57.29L368.40,57.38L368.94,57.46L369.47,57.54L370.01,57.63L370.54,57.71L371.08,57.79L371.62,57.87L372.15,57.96L372.69,58.04L373.22,58.12L373.76,58.20L374.29,58.28L374.83,58.36L375.36,58.44L375.90,58.52L376.44,58.60L376.97,58.68L377.51,58.76L378.04,58.83L378.58,58.91L379.11,58.99L379.65,59.07L380.19,59.14L380.72,59.22L381.26,59.30L381.79,59.37L382.33,59.45L382.86,59.52L383.40,59.60L383.93,59.67L384.47,59.75L385.01,59.82L385.54,59.90L386.08,59.97L386.61,60.04L387.15,60.12L387.68,60.19L388.22,60.26L388.75,60.33L389.29,60.41L389.83,60.48L390.36,60.55L390.90,60.62L391.43,60.69L391.97,60.76L392.50,60.83L393.04,60.90L393.58,60.97L394.11,61.04L394.65,61.11L395.18,61.18L395.72,61.25L396.25,61.31L396.79,61.38L397.32,61.45L397.86,61.52L398.40,61.58L398.93,61.65L399.47,61.72L400.00,61.78L400.54,61.85L401.07,61.91L401.61,61.98L402.14,62.04L402.68,62.11L403.22,62.17L403.75,62.24L404.29,62.30L404.82,62.37L405.36,62.43L405.89,62.49" fill="none" stroke="#DD9B8B" stroke-width="1.45"/>
<path d="M295.12,35.76v3.2M307.68,41.77v3.2M309.83,42.68v3.2M312.63,43.78v3.2M312.65,43.78v3.2M312.76,43.83v3.2M317.33,45.39v3.2M320.27,46.27v3.2M322.55,46.90v3.2M327.17,48.06v3.2M330.05,48.72v3.2M333.51,49.47v3.2M337.80,50.36v3.2M347.31,52.19v3.2M348.86,52.47v3.2M355.30,53.62v3.2M355.70,53.68v3.2M359.05,54.26v3.2M359.63,54.35v3.2M362.40,54.81v3.2M362.79,54.88v3.2M364.80,55.20v3.2M368.52,55.80v3.2M371.35,56.23v3.2M372.38,56.39v3.2M372.95,56.48v3.2M375.46,56.85v3.2M375.74,56.90v3.2M379.21,57.40v3.2M380.24,57.55v3.2M381.28,57.70v3.2M384.80,58.19v3.2M385.72,58.32v3.2M392.04,59.17v3.2M392.26,59.20v3.2M393.32,59.34v3.2M393.93,59.42v3.2M393.97,59.42v3.2M395.08,59.56v3.2M396.24,59.71v3.2M399.30,60.10v3.2M401.33,60.35v3.2M403.54,60.61v3.2M405.58,60.86v3.2" fill="none" stroke="#DD9B8B" stroke-width="0.9"/>
<path d="M277.35,33.50L277.89,33.50L278.42,33.50L278.96,33.50L279.49,33.50L280.03,33.50L280.56,33.50L281.10,33.50L281.63,33.50L282.17,33.50L282.71,33.50L283.24,33.50L283.78,33.50L284.31,33.50L284.85,33.73L285.38,34.02L285.92,34.34L286.46,34.69L286.99,35.07L287.53,35.48L288.06,35.91L288.60,36.36L289.13,36.83L289.67,37.32L290.20,37.83L290.74,38.35L291.28,38.89L291.81,39.44L292.35,40.00L292.88,40.57L293.42,41.16L293.95,41.75L294.49,42.36L295.02,42.97L295.56,43.58L296.10,44.21L296.63,44.84L297.17,45.48L297.70,46.12L298.24,46.76L298.77,47.41L299.31,48.05L299.85,48.71L300.38,49.36L300.92,50.01L301.45,50.66L301.99,51.32L302.52,51.97L303.06,52.62L303.59,53.27L304.13,53.92L304.67,54.56L305.20,55.20L305.74,55.84L306.27,56.48L306.81,57.11L307.34,57.74L307.88,58.36L308.41,58.98L308.95,59.59L309.49,60.20L310.02,60.80L310.56,61.40L311.09,61.99L311.63,62.57L312.16,63.15L312.70,63.73L313.24,64.29L313.77,64.85L314.31,65.40L314.84,65.95L315.38,66.49L315.91,67.02L316.45,67.55L316.98,68.07L317.52,68.58L318.06,69.08L318.59,69.58L319.13,70.07L319.66,70.55L320.20,71.03L320.73,71.50L321.27,71.96L321.80,72.41L322.34,72.86L322.88,73.30L323.41,73.74L323.95,74.17L324.48,74.59L325.02,75.00L325.55,75.41L326.09,75.81L326.63,76.20L327.16,76.59L327.70,76.97L328.23,77.35L328.77,77.72L329.30,78.08L329.84,78.44L330.37,78.80L330.91,79.14L331.45,79.48L331.98,79.82L332.52,80.15L333.05,80.47L333.59,80.79L334.12,81.11L334.66,81.42L335.19,81.72L335.73,82.02L336.27,82.32L336.80,82.61L337.34,82.90L337.87,83.18L338.41,83.46L338.94,83.73L339.48,84.00L340.02,84.27L340.55,84.53L341.09,84.79L341.62,85.05L342.16,85.30L342.69,85.55L343.23,85.80L343.76,86.04L344.30,86.28L344.84,86.52L345.37,86.75L345.91,86.98L346.44,87.21L346.98,87.43L347.51,87.66L348.05,87.88L348.58,88.10L349.12,88.31L349.66,88.52L350.19,88.74L350.73,88.95L351.26,89.15L351.80,89.36L352.33,89.56L352.87,89.76L353.41,89.96L353.94,90.16L354.48,90.36L355.01,90.55L355.55,90.75L356.08,90.94L356.62,91.13L357.15,91.32L357.69,91.50L358.23,91.69L358.76,91.88L359.30,92.06L359.83,92.24L360.37,92.42L360.90,92.61L361.44,92.79L361.97,92.96L362.51,93.14L363.05,93.32L363.58,93.49L364.12,93.67L364.65,93.84L365.19,94.02L365.72,94.19L366.26,94.36L366.80,94.53L367.33,94.70L367.87,94.87L368.40,95.04L368.94,95.21L369.47,95.38L370.01,95.55L370.54,95.71L371.08,95.88L371.62,96.04L372.15,96.21L372.69,96.37L373.22,96.54L373.76,96.70L374.29,96.87L374.83,97.03L375.36,97.19L375.90,97.35L376.44,97.51L376.97,97.68L377.51,97.84L378.04,98.00L378.58,98.16L379.11,98.32L379.65,98.48L380.19,98.64L380.72,98.80L381.26,98.95L381.79,99.11L382.33,99.27L382.86,99.43L383.40,99.59L383.93,99.74L384.47,99.90L385.01,100.06L385.54,100.21L386.08,100.37L386.61,100.53L387.15,100.68L387.68,100.84L388.22,100.99L388.75,101.15L389.29,101.30L389.83,101.46L390.36,101.61L390.90,101.77L391.43,101.92L391.97,102.07L392.50,102.23L393.04,102.38L393.58,102.53L394.11,102.69L394.65,102.84L395.18,102.99L395.72,103.15L396.25,103.30L396.79,103.45L397.32,103.60L397.86,103.75L398.40,103.91L398.93,104.06L399.47,104.21L400.00,104.36L400.54,104.51L401.07,104.66L401.61,104.81L402.14,104.96L402.68,105.11L403.22,105.26L403.75,105.41L404.29,105.56L404.82,105.71L405.36,105.86L405.89,106.01" fill="none" stroke="#BA0F3D" stroke-width="1.45"/>
<path d="M285.05,32.24v3.2M287.78,34.08v3.2M318.93,68.29v3.2M321.84,70.84v3.2M330.62,77.36v3.2M331.42,77.86v3.2M333.16,78.94v3.2M342.57,83.89v3.2M343.24,84.20v3.2M345.19,85.07v3.2M346.65,85.70v3.2M349.03,86.67v3.2M349.28,86.78v3.2M351.57,87.67v3.2M351.84,87.77v3.2M358.92,90.33v3.2M360.08,90.73v3.2M362.09,91.40v3.2M362.83,91.65v3.2M362.90,91.67v3.2M362.95,91.69v3.2M369.76,93.87v3.2M371.79,94.50v3.2M376.16,95.83v3.2M376.22,95.85v3.2M376.31,95.88v3.2M376.89,96.05v3.2M377.80,96.32v3.2M377.85,96.34v3.2M379.70,96.89v3.2M379.73,96.90v3.2M381.32,97.37v3.2M382.62,97.76v3.2M382.94,97.85v3.2M383.99,98.16v3.2M384.27,98.24v3.2M384.30,98.25v3.2M384.31,98.25v3.2M386.19,98.80v3.2M387.96,99.32v3.2M388.10,99.36v3.2M389.58,99.78v3.2M391.39,100.31v3.2M392.22,100.55v3.2M393.58,100.93v3.2M395.39,101.45v3.2M397.90,102.17v3.2M398.19,102.25v3.2M400.62,102.93v3.2M401.80,103.26v3.2M402.17,103.37v3.2M402.22,103.38v3.2M403.40,103.71v3.2M403.48,103.74v3.2" fill="none" stroke="#BA0F3D" stroke-width="0.9"/>
<path d="M277.35,33.50L277.89,33.50L278.42,33.50L278.96,33.50L279.49,33.50L280.03,33.50L280.56,33.50L281.10,33.50L281.63,33.50L282.17,33.50L282.71,33.50L283.24,33.50L283.78,33.50L284.31,33.50L284.85,33.50L285.38,33.50L285.92,33.64L286.46,33.81L286.99,33.99L287.53,34.20L288.06,34.41L288.60,34.64L289.13,34.88L289.67,35.13L290.20,35.39L290.74,35.66L291.28,35.94L291.81,36.22L292.35,36.51L292.88,36.80L293.42,37.10L293.95,37.40L294.49,37.71L295.02,38.02L295.56,38.33L296.10,38.65L296.63,38.97L297.17,39.28L297.70,39.60L298.24,39.92L298.77,40.24L299.31,40.56L299.85,40.88L300.38,41.19L300.92,41.51L301.45,41.82L301.99,42.13L302.52,42.44L303.06,42.75L303.59,43.05L304.13,43.36L304.67,43.65L305.20,43.95L305.74,44.24L306.27,44.53L306.81,44.81L307.34,45.10L307.88,45.37L308.41,45.65L308.95,45.92L309.49,46.18L310.02,46.44L310.56,46.70L311.09,46.95L311.63,47.20L312.16,47.45L312.70,47.69L313.24,47.92L313.77,48.15L314.31,48.38L314.84,48.61L315.38,48.83L315.91,49.04L316.45,49.26L316.98,49.47L317.52,49.67L318.06,49.87L318.59,50.07L319.13,50.26L319.66,50.45L320.20,50.64L320.73,50.82L321.27,51.00L321.80,51.18L322.34,51.35L322.88,51.53L323.41,51.69L323.95,51.86L324.48,52.02L325.02,52.18L325.55,52.34L326.09,52.49L326.63,52.65L327.16,52.80L327.70,52.94L328.23,53.09L328.77,53.23L329.30,53.37L329.84,53.51L330.37,53.65L330.91,53.79L331.45,53.92L331.98,54.05L332.52,54.18L333.05,54.31L333.59,54.44L334.12,54.56L334.66,54.69L335.19,54.81L335.73,54.93L336.27,55.05L336.80,55.17L337.34,55.29L337.87,55.41L338.41,55.53L338.94,55.64L339.48,55.76L340.02,55.87L340.55,55.98L341.09,56.09L341.62,56.21L342.16,56.32L342.69,56.43L343.23,56.53L343.76,56.64L344.30,56.75L344.84,56.86L345.37,56.96L345.91,57.07L346.44,57.18L346.98,57.28L347.51,57.39L348.05,57.49L348.58,57.59L349.12,57.70L349.66,57.80L350.19,57.90L350.73,58.00L351.26,58.10L351.80,58.21L352.33,58.31L352.87,58.41L353.41,58.51L353.94,58.61L354.48,58.71L355.01,58.81L355.55,58.91L356.08,59.01L356.62,59.10L357.15,59.20L357.69,59.30L358.23,59.40L358.76,59.50L359.30,59.59L359.83,59.69L360.37,59.79L360.90,59.88L361.44,59.98L361.97,60.08L362.51,60.17L363.05,60.27L363.58,60.37L364.12,60.46L364.65,60.56L365.19,60.65L365.72,60.75L366.26,60.84L366.80,60.94L367.33,61.03L367.87,61.13L368.40,61.22L368.94,61.32L369.47,61.41L370.01,61.50L370.54,61.60L371.08,61.69L371.62,61.78L372.15,61.88L372.69,61.97L373.22,62.06L373.76,62.16L374.29,62.25L374.83,62.34L375.36,62.43L375.90,62.53L376.44,62.62L376.97,62.71L377.51,62.80L378.04,62.89L378.58,62.99L379.11,63.08L379.65,63.17L380.19,63.26L380.72,63.35L381.26,63.44L381.79,63.53L382.33,63.62L382.86,63.71L383.40,63.80L383.93,63.89L384.47,63.98L385.01,64.07L385.54,64.16L386.08,64.25L386.61,64.34L387.15,64.43L387.68,64.52L388.22,64.61L388.75,64.70L389.29,64.79L389.83,64.87L390.36,64.96L390.90,65.05L391.43,65.14L391.97,65.23L392.50,65.32L393.04,65.40L393.58,65.49L394.11,65.58L394.65,65.67L395.18,65.75L395.72,65.84L396.25,65.93L396.79,66.01L397.32,66.10L397.86,66.19L398.40,66.27L398.93,66.36L399.47,66.45L400.00,66.53L400.54,66.62L401.07,66.70L401.61,66.79L402.14,66.88L402.68,66.96L403.22,67.05L403.75,67.13L404.29,67.22L404.82,67.30L405.36,67.39L405.89,67.47" fill="none" stroke="#62AD40" stroke-width="1.45"/>
<path d="M297.90,38.12v3.2M299.66,39.17v3.2M308.80,44.24v3.2M309.92,44.79v3.2M314.88,47.03v3.2M318.35,48.38v3.2M319.88,48.93v3.2M319.96,48.96v3.2M320.42,49.12v3.2M323.66,50.17v3.2M325.59,50.75v3.2M325.89,50.84v3.2M328.29,51.50v3.2M329.25,51.76v3.2M332.09,52.48v3.2M332.76,52.64v3.2M333.23,52.75v3.2M334.41,53.03v3.2M341.23,54.52v3.2M342.54,54.79v3.2M343.39,54.97v3.2M349.44,56.16v3.2M352.71,56.78v3.2M354.24,57.06v3.2M355.60,57.32v3.2M358.83,57.91v3.2M362.38,58.55v3.2M362.78,58.62v3.2M363.29,58.71v3.2M368.05,59.56v3.2M368.59,59.65v3.2M369.84,59.87v3.2M370.41,59.97v3.2M374.00,60.60v3.2M378.40,61.35v3.2M380.16,61.66v3.2M380.29,61.68v3.2M380.57,61.72v3.2M381.18,61.83v3.2M381.61,61.90v3.2M382.02,61.97v3.2M383.97,62.30v3.2M387.06,62.81v3.2M389.09,63.15v3.2M392.00,63.63v3.2M393.14,63.82v3.2M393.99,63.96v3.2M396.30,64.33v3.2M399.06,64.78v3.2M399.51,64.85v3.2M400.36,64.99v3.2M401.97,65.25v3.2M402.06,65.26v3.2M403.14,65.43v3.2M404.59,65.67v3.2M404.87,65.71v3.2M405.69,65.84v3.2" fill="none" stroke="#62AD40" stroke-width="0.9"/>
<path d="M277.35,33.50L277.89,33.50L278.42,33.50L278.96,33.50L279.49,33.50L280.03,33.50L280.56,33.50L281.10,33.50L281.63,33.50L282.17,33.50L282.71,33.50L283.24,33.50L283.78,33.50L284.31,33.50L284.85,33.72L285.38,33.99L285.92,34.31L286.46,34.65L286.99,35.02L287.53,35.41L288.06,35.83L288.60,36.26L289.13,36.72L289.67,37.19L290.20,37.67L290.74,38.17L291.28,38.68L291.81,39.21L292.35,39.74L292.88,40.29L293.42,40.85L293.95,41.41L294.49,41.98L295.02,42.56L295.56,43.14L296.10,43.73L296.63,44.32L297.17,44.92L297.70,45.52L298.24,46.12L298.77,46.73L299.31,47.34L299.85,47.94L300.38,48.55L300.92,49.16L301.45,49.77L301.99,50.38L302.52,50.99L303.06,51.60L303.59,52.20L304.13,52.80L304.67,53.40L305.20,54.00L305.74,54.60L306.27,55.19L306.81,55.77L307.34,56.36L307.88,56.94L308.41,57.51L308.95,58.08L309.49,58.65L310.02,59.21L310.56,59.76L311.09,60.31L311.63,60.86L312.16,61.40L312.70,61.93L313.24,62.46L313.77,62.98L314.31,63.50L314.84,64.01L315.38,64.51L315.91,65.01L316.45,65.50L316.98,65.99L317.52,66.47L318.06,66.94L318.59,67.41L319.13,67.87L319.66,68.32L320.20,68.77L320.73,69.21L321.27,69.64L321.80,70.07L322.34,70.49L322.88,70.91L323.41,71.32L323.95,71.73L324.48,72.12L325.02,72.52L325.55,72.90L326.09,73.28L326.63,73.66L327.16,74.03L327.70,74.39L328.23,74.75L328.77,75.10L329.30,75.44L329.84,75.79L330.37,76.12L330.91,76.45L331.45,76.78L331.98,77.10L332.52,77.42L333.05,77.73L333.59,78.03L334.12,78.33L334.66,78.63L335.19,78.92L335.73,79.21L336.27,79.50L336.80,79.77L337.34,80.05L337.87,80.32L338.41,80.59L338.94,80.85L339.48,81.11L340.02,81.37L340.55,81.62L341.09,81.87L341.62,82.12L342.16,82.36L342.69,82.60L343.23,82.83L343.76,83.07L344.30,83.30L344.84,83.52L345.37,83.75L345.91,83.97L346.44,84.19L346.98,84.40L347.51,84.62L348.05,84.83L348.58,85.04L349.12,85.24L349.66,85.45L350.19,85.65L350.73,85.85L351.26,86.05L351.80,86.24L352.33,86.44L352.87,86.63L353.41,86.82L353.94,87.01L354.48,87.19L355.01,87.38L355.55,87.56L356.08,87.74L356.62,87.92L357.15,88.10L357.69,88.28L358.23,88.46L358.76,88.63L359.30,88.80L359.83,88.97L360.37,89.15L360.90,89.32L361.44,89.48L361.97,89.65L362.51,89.82L363.05,89.98L363.58,90.15L364.12,90.31L364.65,90.47L365.19,90.64L365.72,90.80L366.26,90.96L366.80,91.12L367.33,91.27L367.87,91.43L368.40,91.59L368.94,91.74L369.47,91.90L370.01,92.05L370.54,92.21L371.08,92.36L371.62,92.52L372.15,92.67L372.69,92.82L373.22,92.97L373.76,93.12L374.29,93.27L374.83,93.42L375.36,93.57L375.90,93.72L376.44,93.87L376.97,94.02L377.51,94.17L378.04,94.31L378.58,94.46L379.11,94.61L379.65,94.75L380.19,94.90L380.72,95.04L381.26,95.19L381.79,95.33L382.33,95.48L382.86,95.62L383.40,95.77L383.93,95.91L384.47,96.05L385.01,96.20L385.54,96.34L386.08,96.48L386.61,96.62L387.15,96.77L387.68,96.91L388.22,97.05L388.75,97.19L389.29,97.33L389.83,97.47L390.36,97.61L390.90,97.75L391.43,97.89L391.97,98.03L392.50,98.17L393.04,98.31L393.58,98.45L394.11,98.59L394.65,98.73L395.18,98.87L395.72,99.01L396.25,99.15L396.79,99.29L397.32,99.42L397.86,99.56L398.40,99.70L398.93,99.84L399.47,99.98L400.00,100.11L400.54,100.25L401.07,100.39L401.61,100.52L402.14,100.66L402.68,100.80L403.22,100.93L403.75,101.07L404.29,101.21L404.82,101.34L405.36,101.48L405.89,101.61" fill="none" stroke="#2A6143" stroke-width="1.45"/>
<path d="M292.30,38.09v3.2M306.13,53.43v3.2M306.40,53.73v3.2M309.23,56.77v3.2M312.60,60.23v3.2M325.59,71.33v3.2M327.35,72.56v3.2M334.14,76.74v3.2M338.88,79.22v3.2M339.43,79.49v3.2M340.01,79.77v3.2M341.13,80.29v3.2M341.55,80.48v3.2M342.04,80.71v3.2M352.16,84.78v3.2M358.11,86.82v3.2M362.94,88.35v3.2M367.98,89.87v3.2M369.23,90.23v3.2M370.10,90.48v3.2M370.96,90.73v3.2M371.98,91.02v3.2M372.54,91.18v3.2M374.08,91.61v3.2M374.99,91.87v3.2M376.01,92.15v3.2M379.16,93.02v3.2M381.66,93.70v3.2M382.66,93.97v3.2M382.83,94.01v3.2M383.92,94.31v3.2M384.70,94.51v3.2M385.93,94.84v3.2M386.70,95.05v3.2M391.27,96.25v3.2M393.71,96.89v3.2M395.15,97.26v3.2M395.22,97.28v3.2M395.28,97.29v3.2M396.24,97.54v3.2M397.40,97.84v3.2M401.06,98.78v3.2M401.11,98.80v3.2M402.30,99.10v3.2M404.68,99.71v3.2M404.81,99.74v3.2M405.89,100.01v3.2" fill="none" stroke="#2A6143" stroke-width="0.9"/>
<path d="M277.35,33.50L277.89,33.50L278.42,33.50L278.96,33.50L279.49,33.50L280.03,33.50L280.56,33.50L281.10,33.50L281.63,33.50L282.17,33.50L282.71,33.50L283.24,33.50L283.78,33.50L284.31,33.50L284.85,33.50L285.38,33.50L285.92,33.64L286.46,33.78L286.99,33.92L287.53,34.07L288.06,34.23L288.60,34.38L289.13,34.54L289.67,34.70L290.20,34.87L290.74,35.04L291.28,35.21L291.81,35.38L292.35,35.56L292.88,35.73L293.42,35.91L293.95,36.10L294.49,36.28L295.02,36.46L295.56,36.65L296.10,36.84L296.63,37.02L297.17,37.21L297.70,37.40L298.24,37.59L298.77,37.78L299.31,37.97L299.85,38.15L300.38,38.34L300.92,38.53L301.45,38.71L301.99,38.89L302.52,39.08L303.06,39.26L303.59,39.44L304.13,39.61L304.67,39.79L305.20,39.96L305.74,40.13L306.27,40.30L306.81,40.47L307.34,40.63L307.88,40.79L308.41,40.95L308.95,41.11L309.49,41.26L310.02,41.41L310.56,41.56L311.09,41.71L311.63,41.86L312.16,42.00L312.70,42.14L313.24,42.28L313.77,42.41L314.31,42.54L314.84,42.67L315.38,42.80L315.91,42.93L316.45,43.06L316.98,43.18L317.52,43.30L318.06,43.42L318.59,43.53L319.13,43.65L319.66,43.76L320.20,43.88L320.73,43.99L321.27,44.10L321.80,44.20L322.34,44.31L322.88,44.42L323.41,44.52L323.95,44.62L324.48,44.73L325.02,44.83L325.55,44.93L326.09,45.02L326.63,45.12L327.16,45.22L327.70,45.32L328.23,45.41L328.77,45.50L329.30,45.60L329.84,45.69L330.37,45.78L330.91,45.87L331.45,45.97L331.98,46.06L332.52,46.15L333.05,46.23L333.59,46.32L334.12,46.41L334.66,46.50L335.19,46.58L335.73,46.67L336.27,46.76L336.80,46.84L337.34,46.93L337.87,47.01L338.41,47.09L338.94,47.18L339.48,47.26L340.02,47.34L340.55,47.42L341.09,47.51L341.62,47.59L342.16,47.67L342.69,47.75L343.23,47.83L343.76,47.91L344.30,47.99L344.84,48.06L345.37,48.14L345.91,48.22L346.44,48.30L346.98,48.38L347.51,48.45L348.05,48.53L348.58,48.60L349.12,48.68L349.66,48.75L350.19,48.83L350.73,48.90L351.26,48.98L351.80,49.05L352.33,49.12L352.87,49.20L353.41,49.27L353.94,49.34L354.48,49.41L355.01,49.49L355.55,49.56L356.08,49.63L356.62,49.70L357.15,49.77L357.69,49.84L358.23,49.91L358.76,49.98L359.30,50.04L359.83,50.11L360.37,50.18L360.90,50.25L361.44,50.32L361.97,50.38L362.51,50.45L363.05,50.52L363.58,50.58L364.12,50.65L364.65,50.71L365.19,50.78L365.72,50.84L366.26,50.91L366.80,50.97L367.33,51.03L367.87,51.10L368.40,51.16L368.94,51.22L369.47,51.29L370.01,51.35L370.54,51.41L371.08,51.47L371.62,51.53L372.15,51.59L372.69,51.65L373.22,51.71L373.76,51.77L374.29,51.83L374.83,51.89L375.36,51.95L375.90,52.01L376.44,52.07L376.97,52.13L377.51,52.19L378.04,52.24L378.58,52.30L379.11,52.36L379.65,52.41L380.19,52.47L380.72,52.53L381.26,52.58L381.79,52.64L382.33,52.69L382.86,52.75L383.40,52.80L383.93,52.86L384.47,52.91L385.01,52.97L385.54,53.02L386.08,53.07L386.61,53.13L387.15,53.18L387.68,53.23L388.22,53.29L388.75,53.34L389.29,53.39L389.83,53.44L390.36,53.49L390.90,53.54L391.43,53.60L391.97,53.65L392.50,53.70L393.04,53.75L393.58,53.80L394.11,53.85L394.65,53.90L395.18,53.94L395.72,53.99L396.25,54.04L396.79,54.09L397.32,54.14L397.86,54.19L398.40,54.23L398.93,54.28L399.47,54.33L400.00,54.38L400.54,54.42L401.07,54.47L401.61,54.52L402.14,54.56L402.68,54.61L403.22,54.65L403.75,54.70L404.29,54.74L404.82,54.79L405.36,54.83L405.89,54.88" fill="none" stroke="#64A8E2" stroke-width="1.45"/>
<path d="M294.77,34.78v3.2M304.14,38.02v3.2M314.91,41.09v3.2M321.64,42.57v3.2M322.37,42.72v3.2M322.73,42.79v3.2M327.50,43.68v3.2M332.53,44.55v3.2M335.52,45.04v3.2M336.14,45.14v3.2M336.18,45.14v3.2M343.99,46.34v3.2M344.06,46.35v3.2M344.33,46.39v3.2M345.14,46.51v3.2M346.38,46.69v3.2M346.62,46.72v3.2M349.24,47.10v3.2M350.74,47.31v3.2M352.41,47.53v3.2M354.04,47.76v3.2M354.48,47.81v3.2M355.50,47.95v3.2M356.47,48.08v3.2M358.65,48.36v3.2M359.86,48.52v3.2M361.95,48.78v3.2M362.06,48.79v3.2M362.37,48.83v3.2M362.61,48.86v3.2M362.78,48.88v3.2M366.90,49.38v3.2M367.83,49.49v3.2M372.63,50.05v3.2M372.97,50.09v3.2M377.10,50.54v3.2M378.31,50.67v3.2M379.18,50.76v3.2M379.55,50.80v3.2M379.86,50.84v3.2M380.58,50.91v3.2M384.50,51.32v3.2M385.24,51.39v3.2M385.90,51.46v3.2M386.17,51.48v3.2M386.40,51.51v3.2M387.32,51.60v3.2M398.00,52.60v3.2M399.60,52.74v3.2M400.01,52.78v3.2M403.87,53.11v3.2M404.29,53.14v3.2" fill="none" stroke="#64A8E2" stroke-width="0.9"/>
<path d="M277.35,33.50L277.89,33.50L278.42,33.50L278.96,33.50L279.49,33.50L280.03,33.50L280.56,33.50L281.10,33.50L281.63,33.50L282.17,33.50L282.71,33.50L283.24,33.50L283.78,33.50L284.31,33.50L284.85,33.82L285.38,34.18L285.92,34.58L286.46,35.01L286.99,35.46L287.53,35.94L288.06,36.45L288.60,36.97L289.13,37.52L289.67,38.09L290.20,38.67L290.74,39.27L291.28,39.89L291.81,40.53L292.35,41.18L292.88,41.84L293.42,42.51L293.95,43.20L294.49,43.89L295.02,44.60L295.56,45.31L296.10,46.03L296.63,46.76L297.17,47.49L297.70,48.23L298.24,48.97L298.77,49.72L299.31,50.46L299.85,51.21L300.38,51.96L300.92,52.71L301.45,53.46L301.99,54.21L302.52,54.96L303.06,55.71L303.59,56.45L304.13,57.19L304.67,57.93L305.20,58.66L305.74,59.38L306.27,60.11L306.81,60.82L307.34,61.53L307.88,62.24L308.41,62.93L308.95,63.62L309.49,64.31L310.02,64.98L310.56,65.65L311.09,66.31L311.63,66.96L312.16,67.60L312.70,68.24L313.24,68.86L313.77,69.48L314.31,70.09L314.84,70.69L315.38,71.28L315.91,71.86L316.45,72.43L316.98,72.99L317.52,73.54L318.06,74.09L318.59,74.62L319.13,75.15L319.66,75.67L320.20,76.18L320.73,76.68L321.27,77.17L321.80,77.65L322.34,78.13L322.88,78.59L323.41,79.05L323.95,79.50L324.48,79.94L325.02,80.37L325.55,80.80L326.09,81.22L326.63,81.63L327.16,82.03L327.70,82.43L328.23,82.82L328.77,83.20L329.30,83.58L329.84,83.95L330.37,84.31L330.91,84.67L331.45,85.02L331.98,85.37L332.52,85.71L333.05,86.04L333.59,86.37L334.12,86.70L334.66,87.01L335.19,87.33L335.73,87.64L336.27,87.94L336.80,88.24L337.34,88.54L337.87,88.83L338.41,89.12L338.94,89.41L339.48,89.69L340.02,89.96L340.55,90.24L341.09,90.51L341.62,90.78L342.16,91.04L342.69,91.30L343.23,91.56L343.76,91.82L344.30,92.07L344.84,92.32L345.37,92.57L345.91,92.81L346.44,93.05L346.98,93.30L347.51,93.53L348.05,93.77L348.58,94.00L349.12,94.24L349.66,94.47L350.19,94.70L350.73,94.92L351.26,95.15L351.80,95.37L352.33,95.60L352.87,95.82L353.41,96.04L353.94,96.26L354.48,96.47L355.01,96.69L355.55,96.90L356.08,97.12L356.62,97.33L357.15,97.54L357.69,97.75L358.23,97.96L358.76,98.17L359.30,98.37L359.83,98.58L360.37,98.78L360.90,98.99L361.44,99.19L361.97,99.39L362.51,99.59L363.05,99.79L363.58,99.99L364.12,100.19L364.65,100.39L365.19,100.59L365.72,100.79L366.26,100.98L366.80,101.18L367.33,101.37L367.87,101.57L368.40,101.76L368.94,101.95L369.47,102.14L370.01,102.33L370.54,102.53L371.08,102.72L371.62,102.90L372.15,103.09L372.69,103.28L373.22,103.47L373.76,103.66L374.29,103.84L374.83,104.03L375.36,104.22L375.90,104.40L376.44,104.58L376.97,104.77L377.51,104.95L378.04,105.13L378.58,105.32L379.11,105.50L379.65,105.68L380.19,105.86L380.72,106.04L381.26,106.22L381.79,106.40L382.33,106.58L382.86,106.76L383.40,106.93L383.93,107.11L384.47,107.29L385.01,107.46L385.54,107.64L386.08,107.82L386.61,107.99L387.15,108.17L387.68,108.34L388.22,108.51L388.75,108.69L389.29,108.86L389.83,109.03L390.36,109.20L390.90,109.37L391.43,109.54L391.97,109.71L392.50,109.88L393.04,110.05L393.58,110.22L394.11,110.39L394.65,110.56L395.18,110.72L395.72,110.89L396.25,111.06L396.79,111.22L397.32,111.39L397.86,111.55L398.40,111.72L398.93,111.88L399.47,112.05L400.00,112.21L400.54,112.37L401.07,112.54L401.61,112.70L402.14,112.86L402.68,113.02L403.22,113.18L403.75,113.34L404.29,113.50L404.82,113.66L405.36,113.82L405.89,113.98" fill="none" stroke="#203E80" stroke-width="1.45"/>
<path d="M294.67,42.53v3.2M299.51,49.14v3.2M312.33,66.20v3.2M313.32,67.36v3.2M315.08,69.35v3.2M319.52,73.93v3.2M323.56,77.57v3.2M326.40,79.85v3.2M337.14,86.83v3.2M338.04,87.33v3.2M339.82,88.26v3.2M341.14,88.93v3.2M343.26,89.97v3.2M343.92,90.29v3.2M345.39,90.98v3.2M348.54,92.39v3.2M349.13,92.64v3.2M349.73,92.90v3.2M350.57,93.26v3.2M352.32,93.99v3.2M352.95,94.25v3.2M353.10,94.31v3.2M356.57,95.71v3.2M360.96,97.41v3.2M361.05,97.44v3.2M361.92,97.77v3.2M362.59,98.02v3.2M363.26,98.27v3.2M366.85,99.60v3.2M367.62,99.88v3.2M367.89,99.97v3.2M369.08,100.40v3.2M369.34,100.50v3.2M373.04,101.81v3.2M373.28,101.89v3.2M373.62,102.01v3.2M375.05,102.51v3.2M375.82,102.77v3.2M375.88,102.79v3.2M379.89,104.16v3.2M379.99,104.19v3.2M382.58,105.06v3.2M383.21,105.27v3.2M383.62,105.41v3.2M384.94,105.84v3.2M387.20,106.58v3.2M388.78,107.09v3.2M390.17,107.54v3.2M390.35,107.60v3.2M390.46,107.63v3.2M393.01,108.44v3.2M394.51,108.91v3.2M399.80,110.55v3.2M401.53,111.07v3.2M402.64,111.41v3.2M403.73,111.73v3.2M405.10,112.14v3.2M405.19,112.17v3.2M405.68,112.32v3.2" fill="none" stroke="#203E80" stroke-width="0.9"/>
<line x1="57.30" y1="290.70" x2="57.30" y2="493.90" stroke="#1a1a1a" stroke-width="1.4"/>
<line x1="56.60" y1="493.35" x2="203.90" y2="493.35" stroke="#1a1a1a" stroke-width="1.45"/>
<line x1="54.00" y1="299.80" x2="57.30" y2="299.80" stroke="#1a1a1a" stroke-width="1"/>
<text x="50.90" y="302.80" class="tl" style="font-size:9px;letter-spacing:-0.1px;stroke:#1a1a1a;stroke-width:0.17px" text-anchor="end">1.00</text>
<line x1="54.00" y1="345.85" x2="57.30" y2="345.85" stroke="#1a1a1a" stroke-width="1"/>
<text x="50.90" y="348.85" class="tl" style="font-size:9px;letter-spacing:-0.1px;stroke:#1a1a1a;stroke-width:0.17px" text-anchor="end">0.75</text>
<line x1="54.00" y1="391.90" x2="57.30" y2="391.90" stroke="#1a1a1a" stroke-width="1"/>
<text x="50.90" y="394.90" class="tl" style="font-size:9px;letter-spacing:-0.1px;stroke:#1a1a1a;stroke-width:0.17px" text-anchor="end">0.50</text>
<line x1="54.00" y1="437.95" x2="57.30" y2="437.95" stroke="#1a1a1a" stroke-width="1"/>
<text x="50.90" y="440.95" class="tl" style="font-size:9px;letter-spacing:-0.1px;stroke:#1a1a1a;stroke-width:0.17px" text-anchor="end">0.25</text>
<line x1="54.00" y1="484.00" x2="57.30" y2="484.00" stroke="#1a1a1a" stroke-width="1"/>
<text x="50.90" y="487.00" class="tl" style="font-size:9px;letter-spacing:-0.1px;stroke:#1a1a1a;stroke-width:0.17px" text-anchor="end">0.00</text>
<line x1="63.70" y1="493.80" x2="63.70" y2="496.30" stroke="#1a1a1a" stroke-width="1"/>
<text x="63.92" y="507.20" class="tl" text-anchor="middle">0</text>
<line x1="79.70" y1="493.80" x2="79.70" y2="496.30" stroke="#1a1a1a" stroke-width="1"/>
<text x="79.92" y="507.20" class="tl" text-anchor="middle">3</text>
<line x1="95.70" y1="493.80" x2="95.70" y2="496.30" stroke="#1a1a1a" stroke-width="1"/>
<text x="95.92" y="507.20" class="tl" text-anchor="middle">6</text>
<line x1="111.70" y1="493.80" x2="111.70" y2="496.30" stroke="#1a1a1a" stroke-width="1"/>
<text x="111.92" y="507.20" class="tl" text-anchor="middle">9</text>
<line x1="127.70" y1="493.80" x2="127.70" y2="496.30" stroke="#1a1a1a" stroke-width="1"/>
<text x="127.92" y="507.20" class="tl" text-anchor="middle">12</text>
<line x1="143.69" y1="493.80" x2="143.69" y2="496.30" stroke="#1a1a1a" stroke-width="1"/>
<text x="143.91" y="507.20" class="tl" text-anchor="middle">15</text>
<line x1="159.69" y1="493.80" x2="159.69" y2="496.30" stroke="#1a1a1a" stroke-width="1"/>
<text x="159.91" y="507.20" class="tl" text-anchor="middle">18</text>
<line x1="175.69" y1="493.80" x2="175.69" y2="496.30" stroke="#1a1a1a" stroke-width="1"/>
<text x="175.91" y="507.20" class="tl" text-anchor="middle">21</text>
<line x1="191.69" y1="493.80" x2="191.69" y2="496.30" stroke="#1a1a1a" stroke-width="1"/>
<text x="191.91" y="507.20" class="tl" text-anchor="middle">24</text>
<text transform="translate(130.50,521.40) scale(0.662,1)" class="at" style="word-spacing:2.4px" text-anchor="middle">Time (months)</text>
<text transform="translate(28.30,391.70) rotate(-90) scale(0.675,1)" class="at" text-anchor="middle">Survival probability</text>
<path d="M63.70,299.80L64.23,299.80L64.77,299.80L65.30,299.80L65.83,299.80L66.37,299.80L66.90,299.80L67.43,299.80L67.97,299.80L68.50,299.80L69.03,299.80L69.57,299.80L70.10,299.80L70.63,299.80L71.17,299.80L71.70,299.95L72.23,300.11L72.77,300.28L73.30,300.46L73.83,300.65L74.37,300.86L74.90,301.07L75.43,301.29L75.97,301.53L76.50,301.77L77.03,302.03L77.57,302.29L78.10,302.56L78.63,302.85L79.17,303.14L79.70,303.44L80.23,303.75L80.77,304.06L81.30,304.39L81.83,304.72L82.37,305.06L82.90,305.41L83.43,305.76L83.97,306.12L84.50,306.49L85.03,306.86L85.57,307.24L86.10,307.62L86.63,308.01L87.17,308.40L87.70,308.79L88.23,309.19L88.77,309.59L89.30,310.00L89.83,310.40L90.37,310.81L90.90,311.22L91.43,311.63L91.96,312.04L92.50,312.46L93.03,312.87L93.56,313.28L94.10,313.70L94.63,314.11L95.16,314.52L95.70,314.93L96.23,315.34L96.76,315.74L97.30,316.15L97.83,316.55L98.36,316.95L98.90,317.35L99.43,317.74L99.96,318.13L100.50,318.52L101.03,318.90L101.56,319.28L102.10,319.66L102.63,320.03L103.16,320.40L103.70,320.76L104.23,321.12L104.76,321.47L105.30,321.82L105.83,322.16L106.36,322.50L106.90,322.84L107.43,323.17L107.96,323.49L108.50,323.81L109.03,324.13L109.56,324.44L110.10,324.74L110.63,325.04L111.16,325.34L111.70,325.63L112.23,325.91L112.76,326.19L113.30,326.47L113.83,326.74L114.36,327.01L114.90,327.27L115.43,327.52L115.96,327.78L116.50,328.02L117.03,328.27L117.56,328.51L118.10,328.74L118.63,328.97L119.16,329.20L119.70,329.42L120.23,329.64L120.76,329.86L121.30,330.07L121.83,330.28L122.36,330.48L122.90,330.68L123.43,330.88L123.96,331.08L124.50,331.27L125.03,331.46L125.56,331.64L126.10,331.83L126.63,332.01L127.16,332.19L127.70,332.36L128.23,332.54L128.76,332.71L129.30,332.88L129.83,333.04L130.36,333.21L130.90,333.37L131.43,333.53L131.96,333.69L132.50,333.85L133.03,334.01L133.56,334.16L134.10,334.32L134.63,334.47L135.16,334.62L135.70,334.77L136.23,334.92L136.76,335.06L137.30,335.21L137.83,335.35L138.36,335.50L138.90,335.64L139.43,335.78L139.96,335.92L140.50,336.06L141.03,336.20L141.56,336.34L142.10,336.48L142.63,336.61L143.16,336.75L143.69,336.89L144.23,337.02L144.76,337.16L145.29,337.29L145.83,337.43L146.36,337.56L146.89,337.69L147.43,337.82L147.96,337.96L148.49,338.09L149.03,338.22L149.56,338.35L150.09,338.48L150.63,338.61L151.16,338.74L151.69,338.87L152.23,339.00L152.76,339.13L153.29,339.26L153.83,339.39L154.36,339.52L154.89,339.65L155.43,339.77L155.96,339.90L156.49,340.03L157.03,340.16L157.56,340.29L158.09,340.41L158.63,340.54L159.16,340.67L159.69,340.79L160.23,340.92L160.76,341.05L161.29,341.17L161.83,341.30L162.36,341.43L162.89,341.55L163.43,341.68L163.96,341.80L164.49,341.93L165.03,342.06L165.56,342.18L166.09,342.31L166.63,342.43L167.16,342.56L167.69,342.68L168.23,342.81L168.76,342.93L169.29,343.06L169.83,343.18L170.36,343.30L170.89,343.43L171.43,343.55L171.96,343.68L172.49,343.80L173.03,343.93L173.56,344.05L174.09,344.17L174.63,344.30L175.16,344.42L175.69,344.54L176.23,344.67L176.76,344.79L177.29,344.91L177.83,345.04L178.36,345.16L178.89,345.28L179.43,345.40L179.96,345.53L180.49,345.65L181.03,345.77L181.56,345.89L182.09,346.02L182.63,346.14L183.16,346.26L183.69,346.38L184.23,346.50L184.76,346.63L185.29,346.75L185.83,346.87L186.36,346.99L186.89,347.11L187.43,347.23L187.96,347.36L188.49,347.48L189.03,347.60L189.56,347.72L190.09,347.84L190.63,347.96L191.16,348.08L191.69,348.20" fill="none" stroke="#E9BC22" stroke-width="1.45"/>
<path d="M75.69,299.80v3.2M96.13,313.66v3.2M103.44,318.98v3.2M104.66,319.80v3.2M108.59,322.27v3.2M110.29,323.25v3.2M113.23,324.83v3.2M121.22,328.44v3.2M122.23,328.83v3.2M134.33,332.78v3.2M135.81,333.20v3.2M139.11,334.10v3.2M151.34,337.19v3.2M153.33,337.67v3.2M155.33,338.15v3.2M156.43,338.41v3.2M156.93,338.53v3.2M158.65,338.95v3.2M159.24,339.09v3.2M159.99,339.26v3.2M161.78,339.69v3.2M162.56,339.87v3.2M164.52,340.34v3.2M164.85,340.41v3.2M165.13,340.48v3.2M166.93,340.90v3.2M166.93,340.90v3.2M167.65,341.07v3.2M169.03,341.39v3.2M171.53,341.98v3.2M172.53,342.21v3.2M174.61,342.69v3.2M174.70,342.71v3.2M175.31,342.86v3.2M186.36,345.39v3.2M186.56,345.44v3.2M186.73,345.48v3.2M187.07,345.55v3.2M189.19,346.04v3.2M190.20,346.26v3.2M190.42,346.31v3.2M191.05,346.45v3.2" fill="none" stroke="#E9BC22" stroke-width="0.9"/>
<path d="M63.70,299.80L64.23,299.80L64.77,299.80L65.30,299.80L65.83,299.80L66.37,299.80L66.90,299.80L67.43,299.80L67.97,299.80L68.50,299.80L69.03,299.80L69.57,299.80L70.10,299.80L70.63,299.80L71.17,300.05L71.70,300.32L72.23,300.61L72.77,300.91L73.30,301.24L73.83,301.58L74.37,301.94L74.90,302.32L75.43,302.71L75.97,303.12L76.50,303.55L77.03,303.99L77.57,304.45L78.10,304.93L78.63,305.42L79.17,305.92L79.70,306.43L80.23,306.96L80.77,307.50L81.30,308.05L81.83,308.61L82.37,309.18L82.90,309.76L83.43,310.35L83.97,310.95L84.50,311.55L85.03,312.16L85.57,312.78L86.10,313.39L86.63,314.02L87.17,314.64L87.70,315.27L88.23,315.90L88.77,316.53L89.30,317.16L89.83,317.79L90.37,318.42L90.90,319.05L91.43,319.68L91.96,320.30L92.50,320.92L93.03,321.53L93.56,322.14L94.10,322.75L94.63,323.35L95.16,323.94L95.70,324.53L96.23,325.11L96.76,325.68L97.30,326.25L97.83,326.81L98.36,327.36L98.90,327.90L99.43,328.44L99.96,328.97L100.50,329.48L101.03,329.99L101.56,330.49L102.10,330.98L102.63,331.47L103.16,331.94L103.70,332.40L104.23,332.86L104.76,333.30L105.30,333.74L105.83,334.17L106.36,334.59L106.90,335.00L107.43,335.40L107.96,335.80L108.50,336.18L109.03,336.56L109.56,336.93L110.10,337.29L110.63,337.65L111.16,337.99L111.70,338.33L112.23,338.67L112.76,338.99L113.30,339.31L113.83,339.63L114.36,339.93L114.90,340.23L115.43,340.53L115.96,340.82L116.50,341.10L117.03,341.38L117.56,341.65L118.10,341.92L118.63,342.19L119.16,342.45L119.70,342.70L120.23,342.95L120.76,343.20L121.30,343.45L121.83,343.69L122.36,343.92L122.90,344.16L123.43,344.39L123.96,344.62L124.50,344.84L125.03,345.06L125.56,345.28L126.10,345.50L126.63,345.72L127.16,345.93L127.70,346.14L128.23,346.35L128.76,346.56L129.30,346.76L129.83,346.97L130.36,347.17L130.90,347.37L131.43,347.57L131.96,347.77L132.50,347.97L133.03,348.16L133.56,348.36L134.10,348.55L134.63,348.74L135.16,348.93L135.70,349.13L136.23,349.32L136.76,349.50L137.30,349.69L137.83,349.88L138.36,350.07L138.90,350.25L139.43,350.44L139.96,350.62L140.50,350.80L141.03,350.99L141.56,351.17L142.10,351.35L142.63,351.53L143.16,351.71L143.69,351.89L144.23,352.07L144.76,352.25L145.29,352.43L145.83,352.61L146.36,352.79L146.89,352.96L147.43,353.14L147.96,353.32L148.49,353.49L149.03,353.67L149.56,353.84L150.09,354.02L150.63,354.19L151.16,354.36L151.69,354.54L152.23,354.71L152.76,354.88L153.29,355.05L153.83,355.23L154.36,355.40L154.89,355.57L155.43,355.74L155.96,355.91L156.49,356.08L157.03,356.25L157.56,356.42L158.09,356.58L158.63,356.75L159.16,356.92L159.69,357.09L160.23,357.25L160.76,357.42L161.29,357.59L161.83,357.75L162.36,357.92L162.89,358.08L163.43,358.25L163.96,358.41L164.49,358.58L165.03,358.74L165.56,358.91L166.09,359.07L166.63,359.23L167.16,359.39L167.69,359.56L168.23,359.72L168.76,359.88L169.29,360.04L169.83,360.20L170.36,360.36L170.89,360.52L171.43,360.68L171.96,360.84L172.49,361.00L173.03,361.16L173.56,361.31L174.09,361.47L174.63,361.63L175.16,361.79L175.69,361.94L176.23,362.10L176.76,362.26L177.29,362.41L177.83,362.57L178.36,362.72L178.89,362.88L179.43,363.03L179.96,363.18L180.49,363.34L181.03,363.49L181.56,363.64L182.09,363.80L182.63,363.95L183.16,364.10L183.69,364.25L184.23,364.41L184.76,364.56L185.29,364.71L185.83,364.86L186.36,365.01L186.89,365.16L187.43,365.31L187.96,365.46L188.49,365.60L189.03,365.75L189.56,365.90L190.09,366.05L190.63,366.20L191.16,366.34L191.69,366.49" fill="none" stroke="#E08D18" stroke-width="1.45"/>
<path d="M77.62,302.90v3.2M85.41,311.00v3.2M87.75,313.73v3.2M95.13,322.30v3.2M96.18,323.45v3.2M98.33,325.73v3.2M98.81,326.21v3.2M102.14,329.42v3.2M114.48,338.40v3.2M114.96,338.67v3.2M115.47,338.95v3.2M118.06,340.30v3.2M120.18,341.33v3.2M125.43,343.63v3.2M126.30,343.99v3.2M127.89,344.62v3.2M128.89,345.01v3.2M129.69,345.31v3.2M130.67,345.69v3.2M131.29,345.92v3.2M134.67,347.16v3.2M141.24,349.46v3.2M144.06,350.41v3.2M144.49,350.56v3.2M148.43,351.87v3.2M150.22,352.46v3.2M157.16,354.69v3.2M157.29,354.73v3.2M157.72,354.87v3.2M158.22,355.02v3.2M158.53,355.12v3.2M161.17,355.95v3.2M161.57,356.07v3.2M161.89,356.17v3.2M162.56,356.38v3.2M162.90,356.49v3.2M163.56,356.69v3.2M163.78,356.76v3.2M165.38,357.25v3.2M165.79,357.38v3.2M165.84,357.39v3.2M169.14,358.39v3.2M174.42,359.97v3.2M174.80,360.08v3.2M174.91,360.11v3.2M175.98,360.43v3.2M178.23,361.09v3.2M181.30,361.97v3.2M181.70,362.09v3.2M182.86,362.42v3.2M183.75,362.67v3.2M184.54,362.90v3.2M186.56,363.46v3.2M188.26,363.94v3.2M188.36,363.97v3.2M188.47,364.00v3.2M188.74,364.07v3.2M188.75,364.07v3.2M189.62,364.32v3.2M191.05,364.71v3.2M191.69,364.89v3.2" fill="none" stroke="#E08D18" stroke-width="0.9"/>
<path d="M63.70,299.80L64.23,299.80L64.77,299.80L65.30,299.80L65.83,299.80L66.37,299.80L66.90,299.80L67.43,299.80L67.97,299.80L68.50,299.80L69.03,299.80L69.57,299.80L70.10,299.80L70.63,299.80L71.17,299.80L71.70,299.94L72.23,300.10L72.77,300.26L73.30,300.44L73.83,300.63L74.37,300.82L74.90,301.03L75.43,301.24L75.97,301.47L76.50,301.70L77.03,301.94L77.57,302.20L78.10,302.46L78.63,302.73L79.17,303.01L79.70,303.29L80.23,303.59L80.77,303.89L81.30,304.20L81.83,304.52L82.37,304.85L82.90,305.18L83.43,305.51L83.97,305.86L84.50,306.20L85.03,306.56L85.57,306.92L86.10,307.28L86.63,307.65L87.17,308.02L87.70,308.39L88.23,308.77L88.77,309.15L89.30,309.54L89.83,309.92L90.37,310.31L90.90,310.70L91.43,311.09L91.96,311.48L92.50,311.87L93.03,312.26L93.56,312.65L94.10,313.04L94.63,313.43L95.16,313.82L95.70,314.20L96.23,314.59L96.76,314.97L97.30,315.35L97.83,315.73L98.36,316.11L98.90,316.48L99.43,316.85L99.96,317.22L100.50,317.59L101.03,317.95L101.56,318.30L102.10,318.66L102.63,319.01L103.16,319.35L103.70,319.69L104.23,320.03L104.76,320.36L105.30,320.69L105.83,321.01L106.36,321.33L106.90,321.64L107.43,321.95L107.96,322.26L108.50,322.56L109.03,322.85L109.56,323.14L110.10,323.43L110.63,323.71L111.16,323.99L111.70,324.26L112.23,324.53L112.76,324.79L113.30,325.05L113.83,325.30L114.36,325.55L114.90,325.79L115.43,326.03L115.96,326.27L116.50,326.50L117.03,326.73L117.56,326.96L118.10,327.18L118.63,327.39L119.16,327.61L119.70,327.82L120.23,328.02L120.76,328.22L121.30,328.42L121.83,328.62L122.36,328.81L122.90,329.00L123.43,329.19L123.96,329.37L124.50,329.55L125.03,329.73L125.56,329.91L126.10,330.08L126.63,330.25L127.16,330.42L127.70,330.59L128.23,330.75L128.76,330.92L129.30,331.08L129.83,331.24L130.36,331.39L130.90,331.55L131.43,331.70L131.96,331.85L132.50,332.01L133.03,332.15L133.56,332.30L134.10,332.45L134.63,332.59L135.16,332.74L135.70,332.88L136.23,333.02L136.76,333.16L137.30,333.30L137.83,333.44L138.36,333.58L138.90,333.72L139.43,333.85L139.96,333.99L140.50,334.13L141.03,334.26L141.56,334.39L142.10,334.53L142.63,334.66L143.16,334.79L143.69,334.92L144.23,335.05L144.76,335.18L145.29,335.31L145.83,335.44L146.36,335.57L146.89,335.70L147.43,335.83L147.96,335.96L148.49,336.09L149.03,336.21L149.56,336.34L150.09,336.47L150.63,336.59L151.16,336.72L151.69,336.85L152.23,336.97L152.76,337.10L153.29,337.22L153.83,337.35L154.36,337.48L154.89,337.60L155.43,337.72L155.96,337.85L156.49,337.97L157.03,338.10L157.56,338.22L158.09,338.35L158.63,338.47L159.16,338.59L159.69,338.72L160.23,338.84L160.76,338.96L161.29,339.09L161.83,339.21L162.36,339.33L162.89,339.46L163.43,339.58L163.96,339.70L164.49,339.82L165.03,339.95L165.56,340.07L166.09,340.19L166.63,340.31L167.16,340.43L167.69,340.56L168.23,340.68L168.76,340.80L169.29,340.92L169.83,341.04L170.36,341.16L170.89,341.28L171.43,341.41L171.96,341.53L172.49,341.65L173.03,341.77L173.56,341.89L174.09,342.01L174.63,342.13L175.16,342.25L175.69,342.37L176.23,342.49L176.76,342.61L177.29,342.73L177.83,342.85L178.36,342.97L178.89,343.09L179.43,343.21L179.96,343.33L180.49,343.45L181.03,343.57L181.56,343.69L182.09,343.81L182.63,343.93L183.16,344.05L183.69,344.17L184.23,344.28L184.76,344.40L185.29,344.52L185.83,344.64L186.36,344.76L186.89,344.88L187.43,345.00L187.96,345.11L188.49,345.23L189.03,345.35L189.56,345.47L190.09,345.59L190.63,345.70L191.16,345.82L191.69,345.94" fill="none" stroke="#DD9B8B" stroke-width="1.45"/>
<path d="M74.70,299.35v3.2M75.58,299.70v3.2M76.42,300.07v3.2M80.49,302.13v3.2M81.72,302.86v3.2M83.75,304.11v3.2M91.75,309.72v3.2M110.77,322.18v3.2M111.89,322.76v3.2M112.48,323.05v3.2M112.89,323.25v3.2M112.97,323.29v3.2M115.04,324.26v3.2M120.14,326.39v3.2M124.72,328.03v3.2M125.73,328.37v3.2M129.59,329.56v3.2M129.82,329.63v3.2M130.80,329.92v3.2M131.94,330.25v3.2M132.97,330.54v3.2M132.97,330.54v3.2M138.63,332.05v3.2M139.72,332.33v3.2M141.95,332.89v3.2M142.19,332.95v3.2M146.87,334.10v3.2M147.32,334.20v3.2M150.37,334.93v3.2M150.38,334.94v3.2M150.82,335.04v3.2M150.97,335.08v3.2M152.52,335.44v3.2M155.45,336.13v3.2M157.62,336.64v3.2M158.31,336.80v3.2M161.11,337.44v3.2M162.35,337.73v3.2M163.81,338.07v3.2M168.54,339.15v3.2M171.06,339.72v3.2M172.05,339.95v3.2M173.55,340.29v3.2M174.68,340.54v3.2M174.90,340.59v3.2M176.19,340.88v3.2M178.50,341.40v3.2M181.00,341.96v3.2M181.39,342.05v3.2M181.43,342.06v3.2M182.03,342.20v3.2M182.59,342.32v3.2M184.06,342.65v3.2M185.93,343.06v3.2M186.03,343.09v3.2M187.86,343.49v3.2M188.89,343.72v3.2M189.22,343.79v3.2M189.27,343.80v3.2M190.23,344.02v3.2M190.39,344.05v3.2M190.66,344.11v3.2M191.08,344.21v3.2" fill="none" stroke="#DD9B8B" stroke-width="0.9"/>
<path d="M63.70,299.80L64.23,299.80L64.77,299.80L65.30,299.80L65.83,299.80L66.37,299.80L66.90,299.80L67.43,299.80L67.97,299.80L68.50,299.80L69.03,299.80L69.57,299.80L70.10,299.80L70.63,300.17L71.17,300.58L71.70,301.01L72.23,301.48L72.77,301.98L73.30,302.51L73.83,303.08L74.37,303.67L74.90,304.30L75.43,304.95L75.97,305.64L76.50,306.35L77.03,307.09L77.57,307.86L78.10,308.65L78.63,309.47L79.17,310.31L79.70,311.17L80.23,312.06L80.77,312.97L81.30,313.90L81.83,314.84L82.37,315.81L82.90,316.79L83.43,317.78L83.97,318.79L84.50,319.82L85.03,320.85L85.57,321.89L86.10,322.95L86.63,324.01L87.17,325.07L87.70,326.15L88.23,327.22L88.77,328.30L89.30,329.38L89.83,330.46L90.37,331.55L90.90,332.63L91.43,333.70L91.96,334.78L92.50,335.85L93.03,336.91L93.56,337.97L94.10,339.01L94.63,340.06L95.16,341.09L95.70,342.11L96.23,343.12L96.76,344.12L97.30,345.11L97.83,346.09L98.36,347.05L98.90,348.00L99.43,348.94L99.96,349.86L100.50,350.77L101.03,351.66L101.56,352.54L102.10,353.40L102.63,354.25L103.16,355.08L103.70,355.90L104.23,356.70L104.76,357.48L105.30,358.25L105.83,359.00L106.36,359.74L106.90,360.46L107.43,361.16L107.96,361.85L108.50,362.52L109.03,363.18L109.56,363.83L110.10,364.46L110.63,365.07L111.16,365.67L111.70,366.26L112.23,366.83L112.76,367.39L113.30,367.93L113.83,368.47L114.36,368.99L114.90,369.49L115.43,369.99L115.96,370.48L116.50,370.95L117.03,371.41L117.56,371.87L118.10,372.31L118.63,372.74L119.16,373.16L119.70,373.58L120.23,373.98L120.76,374.38L121.30,374.77L121.83,375.15L122.36,375.52L122.90,375.89L123.43,376.25L123.96,376.60L124.50,376.95L125.03,377.29L125.56,377.62L126.10,377.95L126.63,378.27L127.16,378.59L127.70,378.90L128.23,379.21L128.76,379.52L129.30,379.82L129.83,380.11L130.36,380.41L130.90,380.69L131.43,380.98L131.96,381.26L132.50,381.54L133.03,381.81L133.56,382.09L134.10,382.36L134.63,382.62L135.16,382.89L135.70,383.15L136.23,383.41L136.76,383.67L137.30,383.93L137.83,384.18L138.36,384.43L138.90,384.68L139.43,384.93L139.96,385.18L140.50,385.42L141.03,385.67L141.56,385.91L142.10,386.15L142.63,386.39L143.16,386.63L143.69,386.87L144.23,387.10L144.76,387.34L145.29,387.57L145.83,387.80L146.36,388.04L146.89,388.27L147.43,388.50L147.96,388.73L148.49,388.95L149.03,389.18L149.56,389.41L150.09,389.63L150.63,389.86L151.16,390.08L151.69,390.30L152.23,390.52L152.76,390.74L153.29,390.96L153.83,391.18L154.36,391.40L154.89,391.62L155.43,391.84L155.96,392.05L156.49,392.27L157.03,392.48L157.56,392.70L158.09,392.91L158.63,393.12L159.16,393.34L159.69,393.55L160.23,393.76L160.76,393.97L161.29,394.18L161.83,394.39L162.36,394.60L162.89,394.80L163.43,395.01L163.96,395.22L164.49,395.42L165.03,395.63L165.56,395.83L166.09,396.03L166.63,396.24L167.16,396.44L167.69,396.64L168.23,396.84L168.76,397.04L169.29,397.24L169.83,397.44L170.36,397.64L170.89,397.84L171.43,398.03L171.96,398.23L172.49,398.43L173.03,398.62L173.56,398.82L174.09,399.01L174.63,399.20L175.16,399.40L175.69,399.59L176.23,399.78L176.76,399.97L177.29,400.16L177.83,400.35L178.36,400.54L178.89,400.73L179.43,400.92L179.96,401.11L180.49,401.30L181.03,401.48L181.56,401.67L182.09,401.85L182.63,402.04L183.16,402.22L183.69,402.41L184.23,402.59L184.76,402.77L185.29,402.95L185.83,403.13L186.36,403.32L186.89,403.50L187.43,403.68L187.96,403.85L188.49,404.03L189.03,404.21L189.56,404.39L190.09,404.57L190.63,404.74L191.16,404.92L191.69,405.09" fill="none" stroke="#BA0F3D" stroke-width="1.45"/>
<path d="M73.65,301.28v3.2M87.35,323.84v3.2M92.37,333.98v3.2M92.96,335.16v3.2M94.29,337.79v3.2M96.48,342.00v3.2M97.47,343.84v3.2M97.61,344.09v3.2M98.11,344.99v3.2M101.47,350.79v3.2M103.28,353.67v3.2M103.65,354.22v3.2M110.47,363.29v3.2M113.60,366.63v3.2M128.86,377.97v3.2M128.97,378.04v3.2M136.37,381.88v3.2M137.32,382.34v3.2M139.52,383.37v3.2M139.66,383.44v3.2M140.20,383.69v3.2M142.04,384.53v3.2M143.82,385.32v3.2M143.93,385.37v3.2M144.56,385.65v3.2M145.21,385.93v3.2M145.83,386.20v3.2M146.74,386.60v3.2M148.24,387.24v3.2M150.25,388.10v3.2M154.74,389.96v3.2M156.17,390.54v3.2M158.93,391.64v3.2M160.38,392.22v3.2M162.44,393.03v3.2M162.96,393.23v3.2M167.13,394.83v3.2M168.69,395.42v3.2M170.86,396.22v3.2M171.73,396.55v3.2M177.01,398.46v3.2M177.51,398.64v3.2M178.08,398.84v3.2M178.76,399.09v3.2M179.70,399.42v3.2M182.22,400.30v3.2M187.80,402.20v3.2M191.17,403.32v3.2M191.49,403.42v3.2M191.67,403.48v3.2" fill="none" stroke="#BA0F3D" stroke-width="0.9"/>
<path d="M63.70,299.80L64.23,299.80L64.77,299.80L65.30,299.80L65.83,299.80L66.37,299.80L66.90,299.80L67.43,299.80L67.97,299.80L68.50,299.80L69.03,299.80L69.57,299.80L70.10,299.80L70.63,299.80L71.17,299.80L71.70,299.99L72.23,300.20L72.77,300.43L73.30,300.66L73.83,300.92L74.37,301.18L74.90,301.46L75.43,301.74L75.97,302.04L76.50,302.35L77.03,302.67L77.57,303.00L78.10,303.33L78.63,303.68L79.17,304.03L79.70,304.39L80.23,304.76L80.77,305.14L81.30,305.52L81.83,305.91L82.37,306.30L82.90,306.70L83.43,307.10L83.97,307.51L84.50,307.92L85.03,308.33L85.57,308.75L86.10,309.17L86.63,309.59L87.17,310.02L87.70,310.45L88.23,310.87L88.77,311.30L89.30,311.73L89.83,312.16L90.37,312.59L90.90,313.03L91.43,313.46L91.96,313.89L92.50,314.31L93.03,314.74L93.56,315.17L94.10,315.59L94.63,316.01L95.16,316.43L95.70,316.85L96.23,317.26L96.76,317.67L97.30,318.08L97.83,318.49L98.36,318.89L98.90,319.29L99.43,319.68L99.96,320.08L100.50,320.46L101.03,320.85L101.56,321.23L102.10,321.60L102.63,321.97L103.16,322.34L103.70,322.70L104.23,323.06L104.76,323.42L105.30,323.77L105.83,324.11L106.36,324.45L106.90,324.79L107.43,325.12L107.96,325.45L108.50,325.77L109.03,326.09L109.56,326.41L110.10,326.72L110.63,327.02L111.16,327.32L111.70,327.62L112.23,327.91L112.76,328.20L113.30,328.49L113.83,328.77L114.36,329.04L114.90,329.32L115.43,329.58L115.96,329.85L116.50,330.11L117.03,330.37L117.56,330.62L118.10,330.87L118.63,331.12L119.16,331.36L119.70,331.60L120.23,331.84L120.76,332.08L121.30,332.31L121.83,332.54L122.36,332.76L122.90,332.98L123.43,333.20L123.96,333.42L124.50,333.64L125.03,333.85L125.56,334.06L126.10,334.26L126.63,334.47L127.16,334.67L127.70,334.87L128.23,335.07L128.76,335.27L129.30,335.46L129.83,335.66L130.36,335.85L130.90,336.04L131.43,336.22L131.96,336.41L132.50,336.60L133.03,336.78L133.56,336.96L134.10,337.14L134.63,337.32L135.16,337.50L135.70,337.67L136.23,337.85L136.76,338.02L137.30,338.20L137.83,338.37L138.36,338.54L138.90,338.71L139.43,338.88L139.96,339.05L140.50,339.21L141.03,339.38L141.56,339.55L142.10,339.71L142.63,339.88L143.16,340.04L143.69,340.20L144.23,340.36L144.76,340.53L145.29,340.69L145.83,340.85L146.36,341.01L146.89,341.17L147.43,341.32L147.96,341.48L148.49,341.64L149.03,341.80L149.56,341.96L150.09,342.11L150.63,342.27L151.16,342.42L151.69,342.58L152.23,342.73L152.76,342.89L153.29,343.04L153.83,343.20L154.36,343.35L154.89,343.50L155.43,343.66L155.96,343.81L156.49,343.96L157.03,344.11L157.56,344.27L158.09,344.42L158.63,344.57L159.16,344.72L159.69,344.87L160.23,345.02L160.76,345.17L161.29,345.32L161.83,345.47L162.36,345.62L162.89,345.77L163.43,345.92L163.96,346.07L164.49,346.22L165.03,346.37L165.56,346.51L166.09,346.66L166.63,346.81L167.16,346.96L167.69,347.11L168.23,347.25L168.76,347.40L169.29,347.55L169.83,347.69L170.36,347.84L170.89,347.99L171.43,348.13L171.96,348.28L172.49,348.43L173.03,348.57L173.56,348.72L174.09,348.86L174.63,349.01L175.16,349.15L175.69,349.30L176.23,349.44L176.76,349.59L177.29,349.73L177.83,349.88L178.36,350.02L178.89,350.16L179.43,350.31L179.96,350.45L180.49,350.60L181.03,350.74L181.56,350.88L182.09,351.03L182.63,351.17L183.16,351.31L183.69,351.45L184.23,351.60L184.76,351.74L185.29,351.88L185.83,352.02L186.36,352.16L186.89,352.30L187.43,352.45L187.96,352.59L188.49,352.73L189.03,352.87L189.56,353.01L190.09,353.15L190.63,353.29L191.16,353.43L191.69,353.57" fill="none" stroke="#62AD40" stroke-width="1.45"/>
<path d="M72.19,298.58v3.2M100.30,318.72v3.2M107.36,323.48v3.2M112.59,326.51v3.2M112.78,326.61v3.2M116.05,328.29v3.2M116.26,328.40v3.2M120.77,330.48v3.2M122.52,331.23v3.2M126.46,332.80v3.2M128.58,333.60v3.2M128.60,333.61v3.2M129.74,334.03v3.2M130.79,334.40v3.2M134.15,335.56v3.2M136.15,336.22v3.2M136.41,336.31v3.2M136.95,336.49v3.2M146.94,339.58v3.2M147.04,339.61v3.2M149.73,340.41v3.2M149.78,340.42v3.2M151.51,340.93v3.2M152.68,341.27v3.2M154.98,341.93v3.2M155.61,342.11v3.2M155.61,342.11v3.2M161.71,343.84v3.2M161.95,343.90v3.2M164.59,344.64v3.2M167.09,345.34v3.2M168.02,345.60v3.2M168.40,345.70v3.2M169.05,345.88v3.2M171.07,346.44v3.2M171.10,346.44v3.2M171.68,346.60v3.2M172.25,346.76v3.2M174.65,347.42v3.2M176.20,347.84v3.2M178.00,348.32v3.2M178.95,348.58v3.2M183.13,349.70v3.2M184.03,349.94v3.2M184.06,349.95v3.2M184.27,350.01v3.2M185.03,350.21v3.2M185.54,350.35v3.2M186.77,350.67v3.2M189.18,351.31v3.2" fill="none" stroke="#62AD40" stroke-width="0.9"/>
<path d="M63.70,299.80L64.23,299.80L64.77,299.80L65.30,299.80L65.83,299.80L66.37,299.80L66.90,299.80L67.43,299.80L67.97,299.80L68.50,299.80L69.03,299.80L69.57,299.80L70.10,299.80L70.63,300.21L71.17,300.65L71.70,301.12L72.23,301.61L72.77,302.12L73.30,302.66L73.83,303.23L74.37,303.81L74.90,304.42L75.43,305.06L75.97,305.71L76.50,306.39L77.03,307.09L77.57,307.81L78.10,308.56L78.63,309.32L79.17,310.10L79.70,310.90L80.23,311.71L80.77,312.54L81.30,313.39L81.83,314.26L82.37,315.13L82.90,316.02L83.43,316.93L83.97,317.84L84.50,318.76L85.03,319.70L85.57,320.64L86.10,321.59L86.63,322.55L87.17,323.51L87.70,324.48L88.23,325.45L88.77,326.42L89.30,327.40L89.83,328.38L90.37,329.35L90.90,330.33L91.43,331.30L91.96,332.28L92.50,333.25L93.03,334.21L93.56,335.18L94.10,336.13L94.63,337.08L95.16,338.03L95.70,338.96L96.23,339.89L96.76,340.81L97.30,341.72L97.83,342.62L98.36,343.51L98.90,344.39L99.43,345.27L99.96,346.12L100.50,346.97L101.03,347.81L101.56,348.63L102.10,349.44L102.63,350.24L103.16,351.03L103.70,351.80L104.23,352.56L104.76,353.31L105.30,354.04L105.83,354.76L106.36,355.47L106.90,356.17L107.43,356.85L107.96,357.51L108.50,358.17L109.03,358.81L109.56,359.44L110.10,360.06L110.63,360.66L111.16,361.25L111.70,361.83L112.23,362.40L112.76,362.95L113.30,363.50L113.83,364.03L114.36,364.55L114.90,365.06L115.43,365.56L115.96,366.05L116.50,366.52L117.03,366.99L117.56,367.45L118.10,367.90L118.63,368.34L119.16,368.77L119.70,369.19L120.23,369.60L120.76,370.01L121.30,370.41L121.83,370.80L122.36,371.18L122.90,371.56L123.43,371.92L123.96,372.29L124.50,372.64L125.03,372.99L125.56,373.33L126.10,373.67L126.63,374.00L127.16,374.33L127.70,374.65L128.23,374.97L128.76,375.28L129.30,375.59L129.83,375.89L130.36,376.19L130.90,376.48L131.43,376.78L131.96,377.06L132.50,377.35L133.03,377.63L133.56,377.90L134.10,378.18L134.63,378.45L135.16,378.72L135.70,378.98L136.23,379.25L136.76,379.51L137.30,379.76L137.83,380.02L138.36,380.27L138.90,380.52L139.43,380.77L139.96,381.02L140.50,381.27L141.03,381.51L141.56,381.75L142.10,381.99L142.63,382.23L143.16,382.46L143.69,382.70L144.23,382.93L144.76,383.16L145.29,383.39L145.83,383.62L146.36,383.85L146.89,384.08L147.43,384.30L147.96,384.53L148.49,384.75L149.03,384.97L149.56,385.19L150.09,385.41L150.63,385.63L151.16,385.84L151.69,386.06L152.23,386.27L152.76,386.49L153.29,386.70L153.83,386.91L154.36,387.12L154.89,387.33L155.43,387.54L155.96,387.75L156.49,387.95L157.03,388.16L157.56,388.37L158.09,388.57L158.63,388.77L159.16,388.98L159.69,389.18L160.23,389.38L160.76,389.58L161.29,389.78L161.83,389.97L162.36,390.17L162.89,390.37L163.43,390.56L163.96,390.76L164.49,390.95L165.03,391.14L165.56,391.34L166.09,391.53L166.63,391.72L167.16,391.91L167.69,392.10L168.23,392.28L168.76,392.47L169.29,392.66L169.83,392.84L170.36,393.03L170.89,393.21L171.43,393.40L171.96,393.58L172.49,393.76L173.03,393.94L173.56,394.12L174.09,394.30L174.63,394.48L175.16,394.66L175.69,394.84L176.23,395.01L176.76,395.19L177.29,395.37L177.83,395.54L178.36,395.71L178.89,395.89L179.43,396.06L179.96,396.23L180.49,396.40L181.03,396.57L181.56,396.74L182.09,396.91L182.63,397.08L183.16,397.25L183.69,397.41L184.23,397.58L184.76,397.75L185.29,397.91L185.83,398.07L186.36,398.24L186.89,398.40L187.43,398.56L187.96,398.72L188.49,398.88L189.03,399.04L189.56,399.20L190.09,399.36L190.63,399.52L191.16,399.68L191.69,399.83" fill="none" stroke="#2A6143" stroke-width="1.45"/>
<path d="M71.40,299.26v3.2M79.61,309.16v3.2M105.31,352.46v3.2M110.51,358.93v3.2M110.68,359.12v3.2M111.02,359.50v3.2M113.15,361.75v3.2M114.39,362.98v3.2M115.15,363.69v3.2M117.18,365.52v3.2M118.08,366.29v3.2M120.16,367.95v3.2M122.78,369.87v3.2M123.05,370.06v3.2M133.55,376.30v3.2M135.52,377.30v3.2M138.79,378.87v3.2M140.05,379.46v3.2M147.16,382.59v3.2M149.31,383.49v3.2M153.92,385.35v3.2M155.79,386.08v3.2M157.66,386.80v3.2M162.42,388.59v3.2M165.51,389.72v3.2M165.56,389.73v3.2M165.70,389.79v3.2M165.95,389.88v3.2M167.23,390.33v3.2M174.87,392.96v3.2M175.42,393.15v3.2M176.06,393.36v3.2M177.98,393.99v3.2M180.46,394.79v3.2M180.62,394.84v3.2M182.53,395.45v3.2M183.68,395.81v3.2M184.07,395.93v3.2M185.08,396.25v3.2M185.63,396.42v3.2M186.42,396.66v3.2M191.21,398.09v3.2" fill="none" stroke="#2A6143" stroke-width="0.9"/>
<path d="M63.70,299.80L64.23,299.80L64.77,299.80L65.30,299.80L65.83,299.80L66.37,299.80L66.90,299.80L67.43,299.80L67.97,299.80L68.50,299.80L69.03,299.80L69.57,299.80L70.10,299.80L70.63,299.80L71.17,299.80L71.70,299.92L72.23,300.04L72.77,300.17L73.30,300.31L73.83,300.46L74.37,300.61L74.90,300.77L75.43,300.94L75.97,301.11L76.50,301.30L77.03,301.48L77.57,301.68L78.10,301.88L78.63,302.09L79.17,302.30L79.70,302.52L80.23,302.75L80.77,302.98L81.30,303.22L81.83,303.46L82.37,303.71L82.90,303.96L83.43,304.22L83.97,304.48L84.50,304.74L85.03,305.01L85.57,305.28L86.10,305.56L86.63,305.84L87.17,306.12L87.70,306.40L88.23,306.69L88.77,306.98L89.30,307.27L89.83,307.56L90.37,307.85L90.90,308.14L91.43,308.44L91.96,308.73L92.50,309.03L93.03,309.32L93.56,309.61L94.10,309.91L94.63,310.20L95.16,310.49L95.70,310.79L96.23,311.08L96.76,311.36L97.30,311.65L97.83,311.94L98.36,312.22L98.90,312.50L99.43,312.78L99.96,313.06L100.50,313.33L101.03,313.60L101.56,313.87L102.10,314.13L102.63,314.40L103.16,314.66L103.70,314.91L104.23,315.17L104.76,315.42L105.30,315.66L105.83,315.90L106.36,316.14L106.90,316.38L107.43,316.61L107.96,316.84L108.50,317.07L109.03,317.29L109.56,317.51L110.10,317.72L110.63,317.93L111.16,318.14L111.70,318.35L112.23,318.55L112.76,318.74L113.30,318.94L113.83,319.13L114.36,319.32L114.90,319.50L115.43,319.68L115.96,319.86L116.50,320.04L117.03,320.21L117.56,320.38L118.10,320.54L118.63,320.71L119.16,320.87L119.70,321.02L120.23,321.18L120.76,321.33L121.30,321.48L121.83,321.63L122.36,321.78L122.90,321.92L123.43,322.06L123.96,322.20L124.50,322.34L125.03,322.47L125.56,322.60L126.10,322.74L126.63,322.86L127.16,322.99L127.70,323.12L128.23,323.24L128.76,323.37L129.30,323.49L129.83,323.61L130.36,323.73L130.90,323.84L131.43,323.96L131.96,324.07L132.50,324.19L133.03,324.30L133.56,324.41L134.10,324.52L134.63,324.63L135.16,324.74L135.70,324.85L136.23,324.96L136.76,325.06L137.30,325.17L137.83,325.27L138.36,325.38L138.90,325.48L139.43,325.58L139.96,325.68L140.50,325.79L141.03,325.89L141.56,325.99L142.10,326.09L142.63,326.19L143.16,326.29L143.69,326.38L144.23,326.48L144.76,326.58L145.29,326.68L145.83,326.77L146.36,326.87L146.89,326.97L147.43,327.06L147.96,327.16L148.49,327.26L149.03,327.35L149.56,327.45L150.09,327.54L150.63,327.64L151.16,327.73L151.69,327.82L152.23,327.92L152.76,328.01L153.29,328.11L153.83,328.20L154.36,328.29L154.89,328.38L155.43,328.48L155.96,328.57L156.49,328.66L157.03,328.75L157.56,328.85L158.09,328.94L158.63,329.03L159.16,329.12L159.69,329.21L160.23,329.30L160.76,329.40L161.29,329.49L161.83,329.58L162.36,329.67L162.89,329.76L163.43,329.85L163.96,329.94L164.49,330.03L165.03,330.12L165.56,330.21L166.09,330.30L166.63,330.39L167.16,330.48L167.69,330.57L168.23,330.66L168.76,330.75L169.29,330.84L169.83,330.92L170.36,331.01L170.89,331.10L171.43,331.19L171.96,331.28L172.49,331.37L173.03,331.46L173.56,331.54L174.09,331.63L174.63,331.72L175.16,331.81L175.69,331.90L176.23,331.98L176.76,332.07L177.29,332.16L177.83,332.25L178.36,332.33L178.89,332.42L179.43,332.51L179.96,332.59L180.49,332.68L181.03,332.77L181.56,332.85L182.09,332.94L182.63,333.03L183.16,333.11L183.69,333.20L184.23,333.28L184.76,333.37L185.29,333.45L185.83,333.54L186.36,333.63L186.89,333.71L187.43,333.80L187.96,333.88L188.49,333.97L189.03,334.05L189.56,334.14L190.09,334.22L190.63,334.31L191.16,334.39L191.69,334.47" fill="none" stroke="#64A8E2" stroke-width="1.45"/>
<path d="M72.66,298.55v3.2M76.25,299.61v3.2M88.02,304.98v3.2M96.08,309.39v3.2M101.03,312.00v3.2M104.67,313.77v3.2M107.04,314.84v3.2M111.47,316.66v3.2M111.63,316.72v3.2M116.42,318.41v3.2M117.91,318.89v3.2M123.74,320.54v3.2M130.57,322.17v3.2M134.10,322.92v3.2M138.13,323.73v3.2M140.56,324.20v3.2M142.31,324.53v3.2M142.34,324.53v3.2M143.62,324.77v3.2M148.34,325.63v3.2M149.75,325.88v3.2M154.82,326.77v3.2M165.39,328.58v3.2M168.03,329.03v3.2M168.25,329.06v3.2M168.29,329.07v3.2M169.35,329.25v3.2M169.84,329.33v3.2M169.86,329.33v3.2M170.27,329.40v3.2M170.34,329.41v3.2M171.31,329.57v3.2M172.55,329.78v3.2M173.11,329.87v3.2M173.33,329.91v3.2M173.39,329.92v3.2M174.53,330.10v3.2M175.10,330.20v3.2M176.26,330.39v3.2M176.30,330.40v3.2M176.58,330.44v3.2M177.17,330.54v3.2M177.76,330.63v3.2M178.57,330.77v3.2M180.53,331.09v3.2M182.00,331.32v3.2M182.60,331.42v3.2M184.46,331.72v3.2M185.14,331.83v3.2M186.45,332.04v3.2M186.59,332.06v3.2M187.61,332.23v3.2M191.61,332.86v3.2" fill="none" stroke="#64A8E2" stroke-width="0.9"/>
<path d="M63.70,299.80L64.23,299.80L64.77,299.80L65.30,299.80L65.83,299.80L66.37,299.80L66.90,299.80L67.43,299.80L67.97,299.80L68.50,299.80L69.03,299.80L69.57,299.80L70.10,299.80L70.63,300.18L71.17,300.61L71.70,301.07L72.23,301.58L72.77,302.12L73.30,302.71L73.83,303.33L74.37,303.99L74.90,304.69L75.43,305.43L75.97,306.20L76.50,307.01L77.03,307.85L77.57,308.73L78.10,309.63L78.63,310.57L79.17,311.54L79.70,312.53L80.23,313.56L80.77,314.60L81.30,315.67L81.83,316.77L82.37,317.88L82.90,319.02L83.43,320.17L83.97,321.34L84.50,322.52L85.03,323.72L85.57,324.93L86.10,326.14L86.63,327.37L87.17,328.60L87.70,329.84L88.23,331.08L88.77,332.33L89.30,333.57L89.83,334.82L90.37,336.06L90.90,337.30L91.43,338.53L91.96,339.76L92.50,340.98L93.03,342.20L93.56,343.40L94.10,344.59L94.63,345.77L95.16,346.94L95.70,348.10L96.23,349.24L96.76,350.37L97.30,351.48L97.83,352.58L98.36,353.66L98.90,354.72L99.43,355.76L99.96,356.79L100.50,357.80L101.03,358.79L101.56,359.76L102.10,360.71L102.63,361.64L103.16,362.55L103.70,363.44L104.23,364.31L104.76,365.17L105.30,366.00L105.83,366.81L106.36,367.61L106.90,368.38L107.43,369.14L107.96,369.88L108.50,370.60L109.03,371.30L109.56,371.99L110.10,372.65L110.63,373.30L111.16,373.94L111.70,374.55L112.23,375.16L112.76,375.74L113.30,376.31L113.83,376.87L114.36,377.41L114.90,377.94L115.43,378.45L115.96,378.95L116.50,379.44L117.03,379.92L117.56,380.39L118.10,380.84L118.63,381.28L119.16,381.72L119.70,382.14L120.23,382.56L120.76,382.96L121.30,383.36L121.83,383.74L122.36,384.12L122.90,384.50L123.43,384.86L123.96,385.22L124.50,385.57L125.03,385.91L125.56,386.25L126.10,386.58L126.63,386.91L127.16,387.23L127.70,387.55L128.23,387.86L128.76,388.17L129.30,388.48L129.83,388.78L130.36,389.07L130.90,389.36L131.43,389.65L131.96,389.94L132.50,390.22L133.03,390.50L133.56,390.78L134.10,391.05L134.63,391.32L135.16,391.59L135.70,391.86L136.23,392.12L136.76,392.39L137.30,392.65L137.83,392.91L138.36,393.16L138.90,393.42L139.43,393.67L139.96,393.92L140.50,394.18L141.03,394.43L141.56,394.67L142.10,394.92L142.63,395.17L143.16,395.41L143.69,395.65L144.23,395.89L144.76,396.14L145.29,396.38L145.83,396.61L146.36,396.85L146.89,397.09L147.43,397.32L147.96,397.56L148.49,397.79L149.03,398.03L149.56,398.26L150.09,398.49L150.63,398.72L151.16,398.95L151.69,399.18L152.23,399.41L152.76,399.63L153.29,399.86L153.83,400.09L154.36,400.31L154.89,400.54L155.43,400.76L155.96,400.98L156.49,401.21L157.03,401.43L157.56,401.65L158.09,401.87L158.63,402.09L159.16,402.31L159.69,402.52L160.23,402.74L160.76,402.96L161.29,403.17L161.83,403.39L162.36,403.60L162.89,403.82L163.43,404.03L163.96,404.24L164.49,404.46L165.03,404.67L165.56,404.88L166.09,405.09L166.63,405.30L167.16,405.51L167.69,405.71L168.23,405.92L168.76,406.13L169.29,406.33L169.83,406.54L170.36,406.74L170.89,406.95L171.43,407.15L171.96,407.36L172.49,407.56L173.03,407.76L173.56,407.96L174.09,408.16L174.63,408.36L175.16,408.56L175.69,408.76L176.23,408.96L176.76,409.16L177.29,409.35L177.83,409.55L178.36,409.74L178.89,409.94L179.43,410.13L179.96,410.33L180.49,410.52L181.03,410.71L181.56,410.91L182.09,411.10L182.63,411.29L183.16,411.48L183.69,411.67L184.23,411.86L184.76,412.05L185.29,412.24L185.83,412.42L186.36,412.61L186.89,412.80L187.43,412.98L187.96,413.17L188.49,413.35L189.03,413.54L189.56,413.72L190.09,413.90L190.63,414.09L191.16,414.27L191.69,414.45" fill="none" stroke="#203E80" stroke-width="1.45"/>
<path d="M73.87,301.77v3.2M108.33,368.78v3.2M111.95,373.24v3.2M112.91,374.30v3.2M118.04,379.19v3.2M120.05,380.81v3.2M120.34,381.04v3.2M131.58,388.13v3.2M138.43,391.60v3.2M144.70,394.51v3.2M148.80,396.33v3.2M150.14,396.91v3.2M150.34,397.00v3.2M152.15,397.77v3.2M152.45,397.90v3.2M155.96,399.38v3.2M157.37,399.97v3.2M157.80,400.14v3.2M158.94,400.62v3.2M159.23,400.73v3.2M159.63,400.90v3.2M163.29,402.37v3.2M166.08,403.48v3.2M168.28,404.34v3.2M171.58,405.61v3.2M173.28,406.26v3.2M174.92,406.87v3.2M175.09,406.94v3.2M176.96,407.63v3.2M177.62,407.87v3.2M179.87,408.70v3.2M181.77,409.38v3.2M182.03,409.48v3.2M184.01,410.18v3.2M187.08,411.26v3.2M189.02,411.93v3.2M189.19,411.99v3.2M189.25,412.02v3.2M191.14,412.66v3.2M191.63,412.83v3.2" fill="none" stroke="#203E80" stroke-width="0.9"/>
<line x1="270.80" y1="290.70" x2="270.80" y2="493.90" stroke="#1a1a1a" stroke-width="1.4"/>
<line x1="270.10" y1="493.35" x2="417.40" y2="493.35" stroke="#1a1a1a" stroke-width="1.45"/>
<line x1="267.50" y1="299.80" x2="270.80" y2="299.80" stroke="#1a1a1a" stroke-width="1"/>
<text x="264.40" y="302.80" class="tl" style="font-size:9px;letter-spacing:-0.1px;stroke:#1a1a1a;stroke-width:0.17px" text-anchor="end">1.00</text>
<line x1="267.50" y1="345.85" x2="270.80" y2="345.85" stroke="#1a1a1a" stroke-width="1"/>
<text x="264.40" y="348.85" class="tl" style="font-size:9px;letter-spacing:-0.1px;stroke:#1a1a1a;stroke-width:0.17px" text-anchor="end">0.75</text>
<line x1="267.50" y1="391.90" x2="270.80" y2="391.90" stroke="#1a1a1a" stroke-width="1"/>
<text x="264.40" y="394.90" class="tl" style="font-size:9px;letter-spacing:-0.1px;stroke:#1a1a1a;stroke-width:0.17px" text-anchor="end">0.50</text>
<line x1="267.50" y1="437.95" x2="270.80" y2="437.95" stroke="#1a1a1a" stroke-width="1"/>
<text x="264.40" y="440.95" class="tl" style="font-size:9px;letter-spacing:-0.1px;stroke:#1a1a1a;stroke-width:0.17px" text-anchor="end">0.25</text>
<line x1="267.50" y1="484.00" x2="270.80" y2="484.00" stroke="#1a1a1a" stroke-width="1"/>
<text x="264.40" y="487.00" class="tl" style="font-size:9px;letter-spacing:-0.1px;stroke:#1a1a1a;stroke-width:0.17px" text-anchor="end">0.00</text>
<line x1="277.35" y1="493.80" x2="277.35" y2="496.30" stroke="#1a1a1a" stroke-width="1"/>
<text x="277.57" y="507.20" class="tl" text-anchor="middle">0</text>
<line x1="293.42" y1="493.80" x2="293.42" y2="496.30" stroke="#1a1a1a" stroke-width="1"/>
<text x="293.64" y="507.20" class="tl" text-anchor="middle">3</text>
<line x1="309.49" y1="493.80" x2="309.49" y2="496.30" stroke="#1a1a1a" stroke-width="1"/>
<text x="309.71" y="507.20" class="tl" text-anchor="middle">6</text>
<line x1="325.55" y1="493.80" x2="325.55" y2="496.30" stroke="#1a1a1a" stroke-width="1"/>
<text x="325.77" y="507.20" class="tl" text-anchor="middle">9</text>
<line x1="341.62" y1="493.80" x2="341.62" y2="496.30" stroke="#1a1a1a" stroke-width="1"/>
<text x="341.84" y="507.20" class="tl" text-anchor="middle">12</text>
<line x1="357.69" y1="493.80" x2="357.69" y2="496.30" stroke="#1a1a1a" stroke-width="1"/>
<text x="357.91" y="507.20" class="tl" text-anchor="middle">15</text>
<line x1="373.76" y1="493.80" x2="373.76" y2="496.30" stroke="#1a1a1a" stroke-width="1"/>
<text x="373.98" y="507.20" class="tl" text-anchor="middle">18</text>
<line x1="389.83" y1="493.80" x2="389.83" y2="496.30" stroke="#1a1a1a" stroke-width="1"/>
<text x="390.05" y="507.20" class="tl" text-anchor="middle">21</text>
<line x1="405.89" y1="493.80" x2="405.89" y2="496.30" stroke="#1a1a1a" stroke-width="1"/>
<text x="406.11" y="507.20" class="tl" text-anchor="middle">24</text>
<text transform="translate(344.00,521.40) scale(0.662,1)" class="at" style="word-spacing:2.4px" text-anchor="middle">Time (months)</text>
<text transform="translate(241.80,391.70) rotate(-90) scale(0.675,1)" class="at" text-anchor="middle">Survival probability</text>
<path d="M277.35,299.80L277.89,299.80L278.42,299.80L278.96,299.80L279.49,299.80L280.03,299.80L280.56,299.80L281.10,299.80L281.63,299.80L282.17,299.80L282.71,299.80L283.24,299.80L283.78,299.80L284.31,299.80L284.85,299.80L285.38,300.03L285.92,300.28L286.46,300.55L286.99,300.85L287.53,301.17L288.06,301.52L288.60,301.89L289.13,302.28L289.67,302.69L290.20,303.13L290.74,303.58L291.28,304.06L291.81,304.56L292.35,305.08L292.88,305.61L293.42,306.17L293.95,306.74L294.49,307.33L295.02,307.93L295.56,308.55L296.10,309.19L296.63,309.83L297.17,310.49L297.70,311.17L298.24,311.85L298.77,312.54L299.31,313.24L299.85,313.94L300.38,314.66L300.92,315.38L301.45,316.10L301.99,316.83L302.52,317.57L303.06,318.30L303.59,319.04L304.13,319.77L304.67,320.51L305.20,321.24L305.74,321.98L306.27,322.71L306.81,323.43L307.34,324.15L307.88,324.87L308.41,325.58L308.95,326.29L309.49,326.99L310.02,327.68L310.56,328.37L311.09,329.04L311.63,329.71L312.16,330.37L312.70,331.02L313.24,331.66L313.77,332.29L314.31,332.91L314.84,333.52L315.38,334.12L315.91,334.71L316.45,335.29L316.98,335.86L317.52,336.41L318.06,336.96L318.59,337.49L319.13,338.01L319.66,338.52L320.20,339.02L320.73,339.51L321.27,339.99L321.80,340.46L322.34,340.91L322.88,341.36L323.41,341.80L323.95,342.22L324.48,342.64L325.02,343.05L325.55,343.44L326.09,343.83L326.63,344.21L327.16,344.58L327.70,344.94L328.23,345.30L328.77,345.64L329.30,345.98L329.84,346.31L330.37,346.63L330.91,346.95L331.45,347.26L331.98,347.56L332.52,347.85L333.05,348.14L333.59,348.43L334.12,348.71L334.66,348.98L335.19,349.25L335.73,349.51L336.27,349.77L336.80,350.03L337.34,350.28L337.87,350.52L338.41,350.77L338.94,351.00L339.48,351.24L340.02,351.47L340.55,351.70L341.09,351.93L341.62,352.15L342.16,352.37L342.69,352.59L343.23,352.81L343.76,353.02L344.30,353.23L344.84,353.44L345.37,353.65L345.91,353.86L346.44,354.06L346.98,354.26L347.51,354.47L348.05,354.67L348.58,354.87L349.12,355.06L349.66,355.26L350.19,355.45L350.73,355.65L351.26,355.84L351.80,356.04L352.33,356.23L352.87,356.42L353.41,356.61L353.94,356.80L354.48,356.99L355.01,357.18L355.55,357.36L356.08,357.55L356.62,357.74L357.15,357.92L357.69,358.11L358.23,358.29L358.76,358.48L359.30,358.66L359.83,358.85L360.37,359.03L360.90,359.21L361.44,359.40L361.97,359.58L362.51,359.76L363.05,359.94L363.58,360.12L364.12,360.31L364.65,360.49L365.19,360.67L365.72,360.85L366.26,361.03L366.80,361.21L367.33,361.39L367.87,361.57L368.40,361.74L368.94,361.92L369.47,362.10L370.01,362.28L370.54,362.46L371.08,362.64L371.62,362.81L372.15,362.99L372.69,363.17L373.22,363.35L373.76,363.52L374.29,363.70L374.83,363.88L375.36,364.05L375.90,364.23L376.44,364.40L376.97,364.58L377.51,364.75L378.04,364.93L378.58,365.10L379.11,365.28L379.65,365.45L380.19,365.63L380.72,365.80L381.26,365.98L381.79,366.15L382.33,366.32L382.86,366.50L383.40,366.67L383.93,366.84L384.47,367.01L385.01,367.19L385.54,367.36L386.08,367.53L386.61,367.70L387.15,367.87L387.68,368.05L388.22,368.22L388.75,368.39L389.29,368.56L389.83,368.73L390.36,368.90L390.90,369.07L391.43,369.24L391.97,369.41L392.50,369.58L393.04,369.75L393.58,369.92L394.11,370.09L394.65,370.26L395.18,370.42L395.72,370.59L396.25,370.76L396.79,370.93L397.32,371.10L397.86,371.27L398.40,371.43L398.93,371.60L399.47,371.77L400.00,371.93L400.54,372.10L401.07,372.27L401.61,372.43L402.14,372.60L402.68,372.77L403.22,372.93L403.75,373.10L404.29,373.26L404.82,373.43L405.36,373.59L405.89,373.76" fill="none" stroke="#E9BC22" stroke-width="1.45"/>
<path d="M304.42,318.57v3.2M312.89,329.65v3.2M313.67,330.58v3.2M314.23,331.23v3.2M326.50,342.52v3.2M327.51,343.22v3.2M329.14,344.28v3.2M333.18,346.61v3.2M338.28,349.11v3.2M338.83,349.35v3.2M340.09,349.90v3.2M340.82,350.22v3.2M343.47,351.31v3.2M346.30,352.41v3.2M347.52,352.87v3.2M347.71,352.94v3.2M353.70,355.11v3.2M353.82,355.16v3.2M358.77,356.88v3.2M359.25,357.05v3.2M359.36,357.08v3.2M359.60,357.17v3.2M360.55,357.49v3.2M360.73,357.55v3.2M362.46,358.14v3.2M363.98,358.66v3.2M364.13,358.71v3.2M364.73,358.91v3.2M367.08,359.70v3.2M367.32,359.78v3.2M370.19,360.74v3.2M371.31,361.11v3.2M373.88,361.96v3.2M374.93,362.31v3.2M375.09,362.36v3.2M376.03,362.67v3.2M379.00,363.64v3.2M379.78,363.89v3.2M379.81,363.90v3.2M380.26,364.05v3.2M381.12,364.33v3.2M383.68,365.16v3.2M386.08,365.93v3.2M387.87,366.50v3.2M387.95,366.53v3.2M388.74,366.78v3.2M390.54,367.36v3.2M390.75,367.42v3.2M394.22,368.52v3.2M395.60,368.96v3.2M396.44,369.22v3.2M397.04,369.41v3.2M397.12,369.43v3.2M397.87,369.67v3.2M397.90,369.68v3.2M397.94,369.69v3.2M398.29,369.80v3.2M400.65,370.53v3.2M401.21,370.71v3.2M405.76,372.12v3.2M405.88,372.15v3.2" fill="none" stroke="#E9BC22" stroke-width="0.9"/>
<path d="M277.35,299.80L277.89,299.80L278.42,299.80L278.96,299.80L279.49,299.80L280.03,299.80L280.56,299.80L281.10,299.80L281.63,299.80L282.17,299.80L282.71,299.80L283.24,299.80L283.78,299.80L284.31,299.80L284.85,300.08L285.38,300.39L285.92,300.74L286.46,301.13L286.99,301.56L287.53,302.02L288.06,302.52L288.60,303.06L289.13,303.63L289.67,304.23L290.20,304.87L290.74,305.55L291.28,306.25L291.81,306.99L292.35,307.75L292.88,308.55L293.42,309.37L293.95,310.21L294.49,311.09L295.02,311.98L295.56,312.90L296.10,313.84L296.63,314.79L297.17,315.77L297.70,316.76L298.24,317.76L298.77,318.78L299.31,319.81L299.85,320.85L300.38,321.90L300.92,322.96L301.45,324.02L301.99,325.09L302.52,326.16L303.06,327.23L303.59,328.30L304.13,329.37L304.67,330.43L305.20,331.50L305.74,332.56L306.27,333.61L306.81,334.65L307.34,335.69L307.88,336.72L308.41,337.74L308.95,338.74L309.49,339.74L310.02,340.72L310.56,341.69L311.09,342.64L311.63,343.58L312.16,344.51L312.70,345.42L313.24,346.31L313.77,347.19L314.31,348.05L314.84,348.90L315.38,349.72L315.91,350.53L316.45,351.32L316.98,352.10L317.52,352.86L318.06,353.59L318.59,354.32L319.13,355.02L319.66,355.71L320.20,356.38L320.73,357.03L321.27,357.67L321.80,358.29L322.34,358.89L322.88,359.48L323.41,360.05L323.95,360.61L324.48,361.15L325.02,361.68L325.55,362.19L326.09,362.69L326.63,363.18L327.16,363.65L327.70,364.11L328.23,364.56L328.77,365.00L329.30,365.42L329.84,365.84L330.37,366.24L330.91,366.63L331.45,367.02L331.98,367.39L332.52,367.76L333.05,368.12L333.59,368.47L334.12,368.81L334.66,369.14L335.19,369.47L335.73,369.79L336.27,370.10L336.80,370.41L337.34,370.71L337.87,371.00L338.41,371.29L338.94,371.58L339.48,371.86L340.02,372.14L340.55,372.41L341.09,372.68L341.62,372.94L342.16,373.20L342.69,373.46L343.23,373.71L343.76,373.97L344.30,374.22L344.84,374.46L345.37,374.71L345.91,374.95L346.44,375.19L346.98,375.42L347.51,375.66L348.05,375.89L348.58,376.12L349.12,376.35L349.66,376.58L350.19,376.81L350.73,377.04L351.26,377.26L351.80,377.49L352.33,377.71L352.87,377.93L353.41,378.15L353.94,378.37L354.48,378.59L355.01,378.81L355.55,379.03L356.08,379.24L356.62,379.46L357.15,379.67L357.69,379.89L358.23,380.10L358.76,380.32L359.30,380.53L359.83,380.74L360.37,380.95L360.90,381.17L361.44,381.38L361.97,381.59L362.51,381.80L363.05,382.01L363.58,382.22L364.12,382.43L364.65,382.63L365.19,382.84L365.72,383.05L366.26,383.26L366.80,383.47L367.33,383.67L367.87,383.88L368.40,384.09L368.94,384.29L369.47,384.50L370.01,384.70L370.54,384.91L371.08,385.11L371.62,385.32L372.15,385.52L372.69,385.72L373.22,385.93L373.76,386.13L374.29,386.33L374.83,386.54L375.36,386.74L375.90,386.94L376.44,387.14L376.97,387.34L377.51,387.54L378.04,387.75L378.58,387.95L379.11,388.15L379.65,388.35L380.19,388.55L380.72,388.75L381.26,388.94L381.79,389.14L382.33,389.34L382.86,389.54L383.40,389.74L383.93,389.94L384.47,390.13L385.01,390.33L385.54,390.53L386.08,390.72L386.61,390.92L387.15,391.12L387.68,391.31L388.22,391.51L388.75,391.70L389.29,391.90L389.83,392.09L390.36,392.29L390.90,392.48L391.43,392.68L391.97,392.87L392.50,393.06L393.04,393.26L393.58,393.45L394.11,393.64L394.65,393.83L395.18,394.03L395.72,394.22L396.25,394.41L396.79,394.60L397.32,394.79L397.86,394.98L398.40,395.17L398.93,395.36L399.47,395.55L400.00,395.74L400.54,395.93L401.07,396.12L401.61,396.31L402.14,396.50L402.68,396.69L403.22,396.88L403.75,397.06L404.29,397.25L404.82,397.44L405.36,397.63L405.89,397.81" fill="none" stroke="#E08D18" stroke-width="1.45"/>
<path d="M289.57,302.51v3.2M293.44,307.80v3.2M295.35,310.93v3.2M304.23,327.98v3.2M316.27,349.46v3.2M317.14,350.72v3.2M322.85,357.85v3.2M324.27,359.33v3.2M324.91,359.97v3.2M325.11,360.17v3.2M325.65,360.68v3.2M331.33,365.33v3.2M331.68,365.58v3.2M332.91,366.42v3.2M333.06,366.52v3.2M334.44,367.40v3.2M334.48,367.43v3.2M334.79,367.62v3.2M337.86,369.40v3.2M338.43,369.70v3.2M344.82,372.85v3.2M345.38,373.11v3.2M345.88,373.34v3.2M346.34,373.54v3.2M346.76,373.73v3.2M348.62,374.54v3.2M353.44,376.57v3.2M353.53,376.60v3.2M361.56,379.82v3.2M362.85,380.33v3.2M363.66,380.65v3.2M364.06,380.80v3.2M365.34,381.30v3.2M372.71,384.13v3.2M374.38,384.77v3.2M374.66,384.87v3.2M374.86,384.95v3.2M375.11,385.04v3.2M375.18,385.07v3.2M377.86,386.08v3.2M379.54,386.71v3.2M379.75,386.78v3.2M381.58,387.46v3.2M381.58,387.46v3.2M381.77,387.54v3.2M382.65,387.86v3.2M384.35,388.49v3.2M384.62,388.59v3.2M386.34,389.22v3.2M388.34,389.95v3.2M388.81,390.12v3.2M395.25,392.45v3.2M397.44,393.23v3.2M398.52,393.62v3.2M398.75,393.70v3.2M399.87,394.10v3.2M399.98,394.14v3.2M401.39,394.63v3.2M401.57,394.70v3.2M402.99,395.20v3.2M404.18,395.61v3.2M405.09,395.93v3.2" fill="none" stroke="#E08D18" stroke-width="0.9"/>
<path d="M277.35,299.80L277.89,299.80L278.42,299.80L278.96,299.80L279.49,299.80L280.03,299.80L280.56,299.80L281.10,299.80L281.63,299.80L282.17,299.80L282.71,299.80L283.24,299.80L283.78,299.80L284.31,299.80L284.85,299.80L285.38,300.05L285.92,300.32L286.46,300.61L286.99,300.93L287.53,301.26L288.06,301.62L288.60,302.00L289.13,302.40L289.67,302.81L290.20,303.25L290.74,303.71L291.28,304.18L291.81,304.67L292.35,305.18L292.88,305.71L293.42,306.25L293.95,306.81L294.49,307.38L295.02,307.97L295.56,308.56L296.10,309.17L296.63,309.79L297.17,310.43L297.70,311.07L298.24,311.72L298.77,312.38L299.31,313.04L299.85,313.71L300.38,314.39L300.92,315.07L301.45,315.75L301.99,316.44L302.52,317.13L303.06,317.82L303.59,318.51L304.13,319.20L304.67,319.89L305.20,320.58L305.74,321.26L306.27,321.95L306.81,322.62L307.34,323.30L307.88,323.97L308.41,324.63L308.95,325.28L309.49,325.93L310.02,326.58L310.56,327.21L311.09,327.84L311.63,328.46L312.16,329.07L312.70,329.68L313.24,330.27L313.77,330.85L314.31,331.43L314.84,331.99L315.38,332.55L315.91,333.09L316.45,333.63L316.98,334.15L317.52,334.67L318.06,335.17L318.59,335.67L319.13,336.15L319.66,336.63L320.20,337.09L320.73,337.55L321.27,337.99L321.80,338.43L322.34,338.85L322.88,339.27L323.41,339.68L323.95,340.08L324.48,340.47L325.02,340.85L325.55,341.22L326.09,341.59L326.63,341.94L327.16,342.29L327.70,342.64L328.23,342.97L328.77,343.30L329.30,343.62L329.84,343.93L330.37,344.24L330.91,344.54L331.45,344.84L331.98,345.13L332.52,345.42L333.05,345.70L333.59,345.97L334.12,346.24L334.66,346.51L335.19,346.77L335.73,347.02L336.27,347.28L336.80,347.53L337.34,347.77L337.87,348.02L338.41,348.25L338.94,348.49L339.48,348.72L340.02,348.95L340.55,349.18L341.09,349.40L341.62,349.63L342.16,349.85L342.69,350.07L343.23,350.28L343.76,350.49L344.30,350.71L344.84,350.92L345.37,351.13L345.91,351.33L346.44,351.54L346.98,351.74L347.51,351.95L348.05,352.15L348.58,352.35L349.12,352.55L349.66,352.75L350.19,352.94L350.73,353.14L351.26,353.34L351.80,353.53L352.33,353.72L352.87,353.92L353.41,354.11L353.94,354.30L354.48,354.49L355.01,354.68L355.55,354.87L356.08,355.06L356.62,355.25L357.15,355.44L357.69,355.62L358.23,355.81L358.76,356.00L359.30,356.18L359.83,356.37L360.37,356.55L360.90,356.74L361.44,356.92L361.97,357.11L362.51,357.29L363.05,357.47L363.58,357.65L364.12,357.84L364.65,358.02L365.19,358.20L365.72,358.38L366.26,358.56L366.80,358.74L367.33,358.92L367.87,359.10L368.40,359.28L368.94,359.46L369.47,359.63L370.01,359.81L370.54,359.99L371.08,360.17L371.62,360.34L372.15,360.52L372.69,360.70L373.22,360.87L373.76,361.05L374.29,361.22L374.83,361.40L375.36,361.57L375.90,361.75L376.44,361.92L376.97,362.09L377.51,362.27L378.04,362.44L378.58,362.61L379.11,362.78L379.65,362.96L380.19,363.13L380.72,363.30L381.26,363.47L381.79,363.64L382.33,363.81L382.86,363.98L383.40,364.15L383.93,364.32L384.47,364.49L385.01,364.66L385.54,364.83L386.08,365.00L386.61,365.16L387.15,365.33L387.68,365.50L388.22,365.67L388.75,365.83L389.29,366.00L389.83,366.16L390.36,366.33L390.90,366.50L391.43,366.66L391.97,366.83L392.50,366.99L393.04,367.15L393.58,367.32L394.11,367.48L394.65,367.65L395.18,367.81L395.72,367.97L396.25,368.13L396.79,368.30L397.32,368.46L397.86,368.62L398.40,368.78L398.93,368.94L399.47,369.10L400.00,369.26L400.54,369.42L401.07,369.58L401.61,369.74L402.14,369.90L402.68,370.06L403.22,370.22L403.75,370.38L404.29,370.54L404.82,370.69L405.36,370.85L405.89,371.01" fill="none" stroke="#DD9B8B" stroke-width="1.45"/>
<path d="M290.36,301.78v3.2M295.51,306.91v3.2M307.94,322.43v3.2M308.33,322.92v3.2M311.93,327.21v3.2M316.07,331.65v3.2M319.27,334.68v3.2M320.48,335.73v3.2M329.07,341.88v3.2M329.69,342.25v3.2M333.20,344.17v3.2M344.64,349.24v3.2M346.93,350.13v3.2M347.30,350.27v3.2M351.92,351.97v3.2M352.86,352.31v3.2M353.33,352.48v3.2M353.75,352.63v3.2M354.41,352.87v3.2M355.70,353.32v3.2M356.09,353.46v3.2M357.25,353.87v3.2M357.39,353.92v3.2M357.57,353.98v3.2M357.87,354.09v3.2M358.63,354.35v3.2M361.16,355.23v3.2M362.43,355.66v3.2M363.00,355.85v3.2M364.58,356.39v3.2M370.48,358.37v3.2M376.98,360.50v3.2M379.01,361.15v3.2M379.33,361.25v3.2M382.53,362.28v3.2M386.70,363.59v3.2M391.64,365.12v3.2M395.49,366.30v3.2M396.53,366.62v3.2M397.01,366.76v3.2M398.16,367.11v3.2M401.03,367.97v3.2M401.19,368.02v3.2M401.96,368.25v3.2M403.78,368.79v3.2M405.85,369.39v3.2" fill="none" stroke="#DD9B8B" stroke-width="0.9"/>
<path d="M277.35,299.80L277.89,299.80L278.42,299.80L278.96,299.80L279.49,299.80L280.03,299.80L280.56,299.80L281.10,299.80L281.63,299.80L282.17,299.80L282.71,299.80L283.24,299.80L283.78,299.80L284.31,300.29L284.85,300.84L285.38,301.45L285.92,302.13L286.46,302.86L286.99,303.65L287.53,304.50L288.06,305.41L288.60,306.38L289.13,307.40L289.67,308.47L290.20,309.60L290.74,310.78L291.28,312.00L291.81,313.27L292.35,314.59L292.88,315.95L293.42,317.35L293.95,318.78L294.49,320.25L295.02,321.76L295.56,323.29L296.10,324.86L296.63,326.45L297.17,328.06L297.70,329.69L298.24,331.34L298.77,333.01L299.31,334.68L299.85,336.37L300.38,338.07L300.92,339.77L301.45,341.47L301.99,343.18L302.52,344.88L303.06,346.58L303.59,348.27L304.13,349.96L304.67,351.63L305.20,353.29L305.74,354.94L306.27,356.57L306.81,358.19L307.34,359.79L307.88,361.36L308.41,362.92L308.95,364.45L309.49,365.96L310.02,367.44L310.56,368.90L311.09,370.33L311.63,371.73L312.16,373.11L312.70,374.45L313.24,375.77L313.77,377.06L314.31,378.32L314.84,379.55L315.38,380.75L315.91,381.92L316.45,383.06L316.98,384.18L317.52,385.26L318.06,386.31L318.59,387.33L319.13,388.33L319.66,389.30L320.20,390.24L320.73,391.15L321.27,392.04L321.80,392.90L322.34,393.73L322.88,394.54L323.41,395.33L323.95,396.09L324.48,396.83L325.02,397.55L325.55,398.25L326.09,398.92L326.63,399.58L327.16,400.22L327.70,400.84L328.23,401.44L328.77,402.02L329.30,402.59L329.84,403.14L330.37,403.67L330.91,404.19L331.45,404.70L331.98,405.20L332.52,405.68L333.05,406.15L333.59,406.61L334.12,407.05L334.66,407.49L335.19,407.92L335.73,408.33L336.27,408.74L336.80,409.14L337.34,409.53L337.87,409.92L338.41,410.30L338.94,410.67L339.48,411.03L340.02,411.39L340.55,411.74L341.09,412.09L341.62,412.43L342.16,412.77L342.69,413.10L343.23,413.43L343.76,413.75L344.30,414.08L344.84,414.39L345.37,414.71L345.91,415.01L346.44,415.32L346.98,415.63L347.51,415.93L348.05,416.22L348.58,416.52L349.12,416.81L349.66,417.11L350.19,417.39L350.73,417.68L351.26,417.97L351.80,418.25L352.33,418.53L352.87,418.81L353.41,419.09L353.94,419.36L354.48,419.64L355.01,419.91L355.55,420.18L356.08,420.45L356.62,420.72L357.15,420.98L357.69,421.25L358.23,421.51L358.76,421.78L359.30,422.04L359.83,422.30L360.37,422.56L360.90,422.82L361.44,423.07L361.97,423.33L362.51,423.58L363.05,423.84L363.58,424.09L364.12,424.34L364.65,424.59L365.19,424.84L365.72,425.09L366.26,425.33L366.80,425.58L367.33,425.83L367.87,426.07L368.40,426.31L368.94,426.55L369.47,426.79L370.01,427.03L370.54,427.27L371.08,427.51L371.62,427.75L372.15,427.98L372.69,428.22L373.22,428.45L373.76,428.69L374.29,428.92L374.83,429.15L375.36,429.38L375.90,429.61L376.44,429.84L376.97,430.07L377.51,430.29L378.04,430.52L378.58,430.74L379.11,430.97L379.65,431.19L380.19,431.41L380.72,431.63L381.26,431.85L381.79,432.07L382.33,432.29L382.86,432.51L383.40,432.72L383.93,432.94L384.47,433.16L385.01,433.37L385.54,433.58L386.08,433.80L386.61,434.01L387.15,434.22L387.68,434.43L388.22,434.64L388.75,434.84L389.29,435.05L389.83,435.26L390.36,435.46L390.90,435.67L391.43,435.87L391.97,436.08L392.50,436.28L393.04,436.48L393.58,436.68L394.11,436.88L394.65,437.08L395.18,437.28L395.72,437.47L396.25,437.67L396.79,437.87L397.32,438.06L397.86,438.26L398.40,438.45L398.93,438.64L399.47,438.83L400.00,439.03L400.54,439.22L401.07,439.41L401.61,439.59L402.14,439.78L402.68,439.97L403.22,440.16L403.75,440.34L404.29,440.53L404.82,440.71L405.36,440.90L405.89,441.08" fill="none" stroke="#BA0F3D" stroke-width="1.45"/>
<path d="M286.01,300.64v3.2M289.82,307.19v3.2M303.01,344.82v3.2M307.84,359.66v3.2M317.34,383.30v3.2M317.87,384.35v3.2M321.66,391.07v3.2M321.98,391.57v3.2M326.51,397.85v3.2M327.32,398.80v3.2M338.69,408.90v3.2M339.40,409.38v3.2M339.53,409.46v3.2M339.60,409.51v3.2M345.54,413.20v3.2M348.04,414.62v3.2M348.36,414.80v3.2M348.61,414.94v3.2M349.56,415.45v3.2M350.47,415.94v3.2M351.46,416.47v3.2M351.87,416.68v3.2M361.12,421.32v3.2M362.85,422.15v3.2M364.95,423.13v3.2M367.38,424.25v3.2M370.53,425.67v3.2M372.98,426.75v3.2M373.23,426.86v3.2M380.15,429.80v3.2M380.59,429.98v3.2M383.29,431.08v3.2M385.78,432.08v3.2M386.01,432.17v3.2M386.32,432.29v3.2M390.76,434.02v3.2M391.47,434.29v3.2M392.99,434.86v3.2M394.57,435.45v3.2M395.38,435.75v3.2M395.44,435.77v3.2M397.23,436.43v3.2M399.74,437.33v3.2M401.05,437.80v3.2M401.84,438.07v3.2M402.33,438.25v3.2M403.50,438.66v3.2M403.94,438.81v3.2M404.56,439.02v3.2" fill="none" stroke="#BA0F3D" stroke-width="0.9"/>
<path d="M277.35,299.80L277.89,299.80L278.42,299.80L278.96,299.80L279.49,299.80L280.03,299.80L280.56,299.80L281.10,299.80L281.63,299.80L282.17,299.80L282.71,299.80L283.24,299.80L283.78,299.80L284.31,299.80L284.85,299.80L285.38,300.05L285.92,300.34L286.46,300.65L286.99,300.99L287.53,301.36L288.06,301.76L288.60,302.19L289.13,302.65L289.67,303.14L290.20,303.65L290.74,304.19L291.28,304.75L291.81,305.34L292.35,305.95L292.88,306.59L293.42,307.24L293.95,307.92L294.49,308.62L295.02,309.33L295.56,310.06L296.10,310.81L296.63,311.58L297.17,312.36L297.70,313.15L298.24,313.95L298.77,314.76L299.31,315.58L299.85,316.41L300.38,317.25L300.92,318.09L301.45,318.93L301.99,319.78L302.52,320.63L303.06,321.48L303.59,322.33L304.13,323.18L304.67,324.02L305.20,324.87L305.74,325.70L306.27,326.54L306.81,327.36L307.34,328.18L307.88,328.99L308.41,329.79L308.95,330.59L309.49,331.37L310.02,332.14L310.56,332.91L311.09,333.66L311.63,334.39L312.16,335.12L312.70,335.83L313.24,336.54L313.77,337.22L314.31,337.90L314.84,338.56L315.38,339.20L315.91,339.84L316.45,340.46L316.98,341.06L317.52,341.65L318.06,342.23L318.59,342.79L319.13,343.35L319.66,343.88L320.20,344.41L320.73,344.92L321.27,345.42L321.80,345.90L322.34,346.38L322.88,346.84L323.41,347.29L323.95,347.73L324.48,348.15L325.02,348.57L325.55,348.98L326.09,349.37L326.63,349.76L327.16,350.14L327.70,350.50L328.23,350.86L328.77,351.21L329.30,351.56L329.84,351.89L330.37,352.22L330.91,352.54L331.45,352.85L331.98,353.16L332.52,353.46L333.05,353.75L333.59,354.04L334.12,354.32L334.66,354.60L335.19,354.88L335.73,355.15L336.27,355.41L336.80,355.67L337.34,355.93L337.87,356.18L338.41,356.43L338.94,356.68L339.48,356.92L340.02,357.16L340.55,357.40L341.09,357.63L341.62,357.86L342.16,358.10L342.69,358.32L343.23,358.55L343.76,358.77L344.30,359.00L344.84,359.22L345.37,359.44L345.91,359.66L346.44,359.87L346.98,360.09L347.51,360.30L348.05,360.52L348.58,360.73L349.12,360.94L349.66,361.15L350.19,361.36L350.73,361.57L351.26,361.77L351.80,361.98L352.33,362.19L352.87,362.39L353.41,362.60L353.94,362.80L354.48,363.01L355.01,363.21L355.55,363.41L356.08,363.62L356.62,363.82L357.15,364.02L357.69,364.22L358.23,364.42L358.76,364.62L359.30,364.82L359.83,365.02L360.37,365.22L360.90,365.42L361.44,365.62L361.97,365.82L362.51,366.02L363.05,366.21L363.58,366.41L364.12,366.61L364.65,366.81L365.19,367.00L365.72,367.20L366.26,367.39L366.80,367.59L367.33,367.79L367.87,367.98L368.40,368.18L368.94,368.37L369.47,368.56L370.01,368.76L370.54,368.95L371.08,369.15L371.62,369.34L372.15,369.53L372.69,369.73L373.22,369.92L373.76,370.11L374.29,370.30L374.83,370.49L375.36,370.69L375.90,370.88L376.44,371.07L376.97,371.26L377.51,371.45L378.04,371.64L378.58,371.83L379.11,372.02L379.65,372.21L380.19,372.40L380.72,372.59L381.26,372.78L381.79,372.96L382.33,373.15L382.86,373.34L383.40,373.53L383.93,373.72L384.47,373.90L385.01,374.09L385.54,374.28L386.08,374.46L386.61,374.65L387.15,374.84L387.68,375.02L388.22,375.21L388.75,375.39L389.29,375.58L389.83,375.76L390.36,375.95L390.90,376.13L391.43,376.32L391.97,376.50L392.50,376.69L393.04,376.87L393.58,377.05L394.11,377.24L394.65,377.42L395.18,377.60L395.72,377.78L396.25,377.96L396.79,378.15L397.32,378.33L397.86,378.51L398.40,378.69L398.93,378.87L399.47,379.05L400.00,379.23L400.54,379.41L401.07,379.59L401.61,379.77L402.14,379.95L402.68,380.13L403.22,380.31L403.75,380.49L404.29,380.67L404.82,380.85L405.36,381.02L405.89,381.20" fill="none" stroke="#62AD40" stroke-width="1.45"/>
<path d="M286.22,298.91v3.2M286.52,299.09v3.2M293.25,305.44v3.2M310.71,331.52v3.2M315.00,337.15v3.2M318.24,340.83v3.2M318.68,341.28v3.2M319.79,342.41v3.2M320.76,343.34v3.2M322.88,345.24v3.2M325.42,347.27v3.2M327.01,348.43v3.2M331.11,351.06v3.2M331.21,351.11v3.2M332.63,351.92v3.2M333.08,352.17v3.2M334.79,353.07v3.2M336.46,353.90v3.2M338.23,354.75v3.2M340.78,355.90v3.2M343.26,356.96v3.2M349.37,359.44v3.2M351.88,360.41v3.2M354.69,361.49v3.2M355.15,361.66v3.2M355.31,361.72v3.2M360.15,363.54v3.2M360.32,363.61v3.2M361.23,363.94v3.2M365.70,365.59v3.2M367.64,366.30v3.2M367.99,366.43v3.2M368.29,366.54v3.2M370.18,367.22v3.2M371.19,367.58v3.2M374.95,368.94v3.2M376.15,369.37v3.2M377.87,369.98v3.2M378.31,370.14v3.2M382.91,371.76v3.2M383.21,371.86v3.2M384.18,372.20v3.2M385.05,372.51v3.2M388.17,373.59v3.2M392.67,375.14v3.2M393.88,375.56v3.2M394.76,375.86v3.2M396.92,376.59v3.2M398.12,377.00v3.2M405.46,379.46v3.2" fill="none" stroke="#62AD40" stroke-width="0.9"/>
<path d="M277.35,299.80L277.89,299.80L278.42,299.80L278.96,299.80L279.49,299.80L280.03,299.80L280.56,299.80L281.10,299.80L281.63,299.80L282.17,299.80L282.71,299.80L283.24,299.80L283.78,299.80L284.31,300.32L284.85,300.89L285.38,301.51L285.92,302.18L286.46,302.91L286.99,303.69L287.53,304.52L288.06,305.40L288.60,306.33L289.13,307.31L289.67,308.33L290.20,309.40L290.74,310.52L291.28,311.67L291.81,312.87L292.35,314.11L292.88,315.38L293.42,316.69L293.95,318.03L294.49,319.41L295.02,320.81L295.56,322.24L296.10,323.70L296.63,325.18L297.17,326.68L297.70,328.20L298.24,329.74L298.77,331.29L299.31,332.86L299.85,334.43L300.38,336.01L300.92,337.60L301.45,339.19L301.99,340.78L302.52,342.38L303.06,343.97L303.59,345.55L304.13,347.13L304.67,348.71L305.20,350.27L305.74,351.82L306.27,353.36L306.81,354.89L307.34,356.40L307.88,357.89L308.41,359.37L308.95,360.82L309.49,362.26L310.02,363.67L310.56,365.07L311.09,366.44L311.63,367.78L312.16,369.10L312.70,370.40L313.24,371.67L313.77,372.92L314.31,374.14L314.84,375.34L315.38,376.50L315.91,377.64L316.45,378.76L316.98,379.85L317.52,380.91L318.06,381.95L318.59,382.95L319.13,383.94L319.66,384.90L320.20,385.83L320.73,386.74L321.27,387.62L321.80,388.48L322.34,389.31L322.88,390.12L323.41,390.91L323.95,391.68L324.48,392.43L325.02,393.15L325.55,393.85L326.09,394.54L326.63,395.20L327.16,395.85L327.70,396.48L328.23,397.09L328.77,397.68L329.30,398.26L329.84,398.82L330.37,399.37L330.91,399.90L331.45,400.42L331.98,400.93L332.52,401.42L333.05,401.90L333.59,402.37L334.12,402.83L334.66,403.28L335.19,403.71L335.73,404.14L336.27,404.56L336.80,404.97L337.34,405.37L337.87,405.76L338.41,406.15L338.94,406.52L339.48,406.90L340.02,407.26L340.55,407.62L341.09,407.97L341.62,408.32L342.16,408.66L342.69,408.99L343.23,409.33L343.76,409.65L344.30,409.98L344.84,410.29L345.37,410.61L345.91,410.92L346.44,411.23L346.98,411.53L347.51,411.83L348.05,412.13L348.58,412.42L349.12,412.72L349.66,413.01L350.19,413.29L350.73,413.58L351.26,413.86L351.80,414.14L352.33,414.42L352.87,414.69L353.41,414.96L353.94,415.24L354.48,415.51L355.01,415.77L355.55,416.04L356.08,416.30L356.62,416.57L357.15,416.83L357.69,417.09L358.23,417.35L358.76,417.60L359.30,417.86L359.83,418.11L360.37,418.36L360.90,418.61L361.44,418.86L361.97,419.11L362.51,419.36L363.05,419.60L363.58,419.85L364.12,420.09L364.65,420.33L365.19,420.57L365.72,420.81L366.26,421.05L366.80,421.29L367.33,421.53L367.87,421.76L368.40,421.99L368.94,422.23L369.47,422.46L370.01,422.69L370.54,422.92L371.08,423.15L371.62,423.37L372.15,423.60L372.69,423.82L373.22,424.05L373.76,424.27L374.29,424.49L374.83,424.71L375.36,424.93L375.90,425.15L376.44,425.37L376.97,425.58L377.51,425.80L378.04,426.01L378.58,426.23L379.11,426.44L379.65,426.65L380.19,426.86L380.72,427.07L381.26,427.28L381.79,427.49L382.33,427.69L382.86,427.90L383.40,428.10L383.93,428.31L384.47,428.51L385.01,428.71L385.54,428.91L386.08,429.11L386.61,429.31L387.15,429.51L387.68,429.71L388.22,429.90L388.75,430.10L389.29,430.29L389.83,430.49L390.36,430.68L390.90,430.87L391.43,431.06L391.97,431.25L392.50,431.44L393.04,431.63L393.58,431.81L394.11,432.00L394.65,432.19L395.18,432.37L395.72,432.55L396.25,432.74L396.79,432.92L397.32,433.10L397.86,433.28L398.40,433.46L398.93,433.64L399.47,433.81L400.00,433.99L400.54,434.17L401.07,434.34L401.61,434.52L402.14,434.69L402.68,434.86L403.22,435.03L403.75,435.21L404.29,435.38L404.82,435.55L405.36,435.71L405.89,435.88" fill="none" stroke="#2A6143" stroke-width="1.45"/>
<path d="M293.42,315.09v3.2M293.44,315.15v3.2M301.98,339.16v3.2M306.90,353.55v3.2M311.58,366.05v3.2M314.16,372.22v3.2M316.46,377.18v3.2M317.52,379.31v3.2M317.84,379.92v3.2M323.82,389.90v3.2M324.28,390.55v3.2M324.92,391.41v3.2M326.23,393.11v3.2M329.45,396.82v3.2M330.11,397.50v3.2M332.41,399.72v3.2M337.70,404.04v3.2M339.82,405.53v3.2M340.16,405.75v3.2M340.51,405.99v3.2M340.76,406.16v3.2M345.62,409.15v3.2M353.50,413.41v3.2M355.33,414.33v3.2M355.69,414.51v3.2M356.09,414.71v3.2M360.68,416.91v3.2M362.84,417.91v3.2M369.32,420.79v3.2M370.90,421.47v3.2M370.99,421.51v3.2M371.59,421.76v3.2M372.81,422.28v3.2M374.76,423.08v3.2M377.17,424.06v3.2M377.36,424.14v3.2M379.07,424.82v3.2M379.69,425.07v3.2M380.14,425.25v3.2M380.86,425.52v3.2M380.95,425.56v3.2M384.05,426.75v3.2M390.36,429.08v3.2M390.75,429.22v3.2M391.80,429.59v3.2M393.00,430.01v3.2M393.88,430.32v3.2M399.83,432.33v3.2M399.98,432.38v3.2M400.23,432.47v3.2M401.70,432.95v3.2M401.85,432.99v3.2M405.38,434.12v3.2" fill="none" stroke="#2A6143" stroke-width="0.9"/>
<path d="M277.35,299.80L277.89,299.80L278.42,299.80L278.96,299.80L279.49,299.80L280.03,299.80L280.56,299.80L281.10,299.80L281.63,299.80L282.17,299.80L282.71,299.80L283.24,299.80L283.78,299.80L284.31,299.80L284.85,299.80L285.38,299.80L285.92,299.98L286.46,300.18L286.99,300.40L287.53,300.64L288.06,300.90L288.60,301.17L289.13,301.46L289.67,301.78L290.20,302.10L290.74,302.45L291.28,302.81L291.81,303.19L292.35,303.58L292.88,303.99L293.42,304.41L293.95,304.84L294.49,305.29L295.02,305.75L295.56,306.22L296.10,306.70L296.63,307.19L297.17,307.69L297.70,308.20L298.24,308.71L298.77,309.23L299.31,309.76L299.85,310.29L300.38,310.82L300.92,311.36L301.45,311.90L301.99,312.44L302.52,312.98L303.06,313.52L303.59,314.06L304.13,314.60L304.67,315.14L305.20,315.68L305.74,316.21L306.27,316.74L306.81,317.26L307.34,317.78L307.88,318.29L308.41,318.80L308.95,319.30L309.49,319.80L310.02,320.28L310.56,320.76L311.09,321.23L311.63,321.70L312.16,322.16L312.70,322.60L313.24,323.04L313.77,323.47L314.31,323.90L314.84,324.31L315.38,324.72L315.91,325.11L316.45,325.50L316.98,325.88L317.52,326.25L318.06,326.61L318.59,326.97L319.13,327.31L319.66,327.65L320.20,327.98L320.73,328.30L321.27,328.61L321.80,328.92L322.34,329.22L322.88,329.51L323.41,329.79L323.95,330.07L324.48,330.34L325.02,330.61L325.55,330.87L326.09,331.12L326.63,331.37L327.16,331.61L327.70,331.85L328.23,332.08L328.77,332.31L329.30,332.53L329.84,332.75L330.37,332.97L330.91,333.18L331.45,333.38L331.98,333.59L332.52,333.79L333.05,333.99L333.59,334.18L334.12,334.37L334.66,334.56L335.19,334.75L335.73,334.93L336.27,335.11L336.80,335.29L337.34,335.47L337.87,335.65L338.41,335.82L338.94,336.00L339.48,336.17L340.02,336.34L340.55,336.51L341.09,336.67L341.62,336.84L342.16,337.01L342.69,337.17L343.23,337.33L343.76,337.50L344.30,337.66L344.84,337.82L345.37,337.98L345.91,338.14L346.44,338.30L346.98,338.46L347.51,338.61L348.05,338.77L348.58,338.93L349.12,339.09L349.66,339.24L350.19,339.40L350.73,339.55L351.26,339.71L351.80,339.86L352.33,340.02L352.87,340.17L353.41,340.33L353.94,340.48L354.48,340.63L355.01,340.79L355.55,340.94L356.08,341.09L356.62,341.24L357.15,341.40L357.69,341.55L358.23,341.70L358.76,341.85L359.30,342.00L359.83,342.15L360.37,342.31L360.90,342.46L361.44,342.61L361.97,342.76L362.51,342.91L363.05,343.06L363.58,343.21L364.12,343.36L364.65,343.51L365.19,343.66L365.72,343.81L366.26,343.96L366.80,344.11L367.33,344.26L367.87,344.41L368.40,344.55L368.94,344.70L369.47,344.85L370.01,345.00L370.54,345.15L371.08,345.30L371.62,345.44L372.15,345.59L372.69,345.74L373.22,345.89L373.76,346.04L374.29,346.18L374.83,346.33L375.36,346.48L375.90,346.62L376.44,346.77L376.97,346.92L377.51,347.06L378.04,347.21L378.58,347.36L379.11,347.50L379.65,347.65L380.19,347.79L380.72,347.94L381.26,348.09L381.79,348.23L382.33,348.38L382.86,348.52L383.40,348.67L383.93,348.81L384.47,348.96L385.01,349.10L385.54,349.24L386.08,349.39L386.61,349.53L387.15,349.68L387.68,349.82L388.22,349.97L388.75,350.11L389.29,350.25L389.83,350.40L390.36,350.54L390.90,350.68L391.43,350.82L391.97,350.97L392.50,351.11L393.04,351.25L393.58,351.40L394.11,351.54L394.65,351.68L395.18,351.82L395.72,351.96L396.25,352.11L396.79,352.25L397.32,352.39L397.86,352.53L398.40,352.67L398.93,352.81L399.47,352.95L400.00,353.09L400.54,353.24L401.07,353.38L401.61,353.52L402.14,353.66L402.68,353.80L403.22,353.94L403.75,354.08L404.29,354.22L404.82,354.36L405.36,354.50L405.89,354.64" fill="none" stroke="#64A8E2" stroke-width="1.45"/>
<path d="M290.06,300.41v3.2M297.29,306.20v3.2M300.02,308.86v3.2M300.04,308.88v3.2M302.90,311.76v3.2M304.84,313.72v3.2M305.38,314.26v3.2M305.88,314.75v3.2M306.54,315.40v3.2M311.24,319.77v3.2M315.22,323.00v3.2M318.31,325.18v3.2M330.51,331.42v3.2M332.26,332.09v3.2M333.22,332.45v3.2M333.32,332.48v3.2M335.10,333.11v3.2M335.53,333.26v3.2M336.98,333.75v3.2M337.46,333.91v3.2M337.92,334.06v3.2M341.28,335.14v3.2M344.98,336.26v3.2M348.42,337.28v3.2M351.62,338.21v3.2M353.33,338.70v3.2M355.86,339.43v3.2M357.18,339.80v3.2M360.49,340.74v3.2M362.46,341.30v3.2M362.80,341.39v3.2M363.28,341.52v3.2M364.11,341.76v3.2M365.47,342.14v3.2M367.40,342.67v3.2M370.58,343.56v3.2M370.68,343.59v3.2M372.73,344.15v3.2M373.34,344.32v3.2M378.69,345.79v3.2M379.08,345.89v3.2M380.95,346.40v3.2M384.98,347.49v3.2M386.54,347.91v3.2M386.70,347.96v3.2M387.32,348.12v3.2M388.85,348.53v3.2M388.86,348.54v3.2M389.03,348.58v3.2M389.39,348.68v3.2M390.13,348.88v3.2M390.21,348.90v3.2M390.24,348.91v3.2M391.02,349.12v3.2M391.21,349.16v3.2M393.14,349.68v3.2M395.66,350.35v3.2M396.55,350.58v3.2M399.36,351.33v3.2M399.89,351.47v3.2M399.91,351.47v3.2M403.02,352.29v3.2M404.65,352.71v3.2M405.20,352.85v3.2" fill="none" stroke="#64A8E2" stroke-width="0.9"/>
<path d="M277.35,299.80L277.89,299.80L278.42,299.80L278.96,299.80L279.49,299.80L280.03,299.80L280.56,299.80L281.10,299.80L281.63,299.80L282.17,299.80L282.71,299.80L283.24,299.80L283.78,299.80L284.31,300.22L284.85,300.73L285.38,301.31L285.92,301.97L286.46,302.71L286.99,303.52L287.53,304.42L288.06,305.38L288.60,306.42L289.13,307.52L289.67,308.70L290.20,309.94L290.74,311.24L291.28,312.61L291.81,314.04L292.35,315.52L292.88,317.05L293.42,318.64L293.95,320.27L294.49,321.94L295.02,323.66L295.56,325.41L296.10,327.20L296.63,329.02L297.17,330.86L297.70,332.73L298.24,334.62L298.77,336.52L299.31,338.44L299.85,340.37L300.38,342.31L300.92,344.25L301.45,346.19L301.99,348.13L302.52,350.06L303.06,351.99L303.59,353.91L304.13,355.81L304.67,357.70L305.20,359.56L305.74,361.41L306.27,363.24L306.81,365.04L307.34,366.82L307.88,368.57L308.41,370.29L308.95,371.98L309.49,373.64L310.02,375.26L310.56,376.86L311.09,378.41L311.63,379.94L312.16,381.42L312.70,382.87L313.24,384.29L313.77,385.67L314.31,387.01L314.84,388.31L315.38,389.58L315.91,390.81L316.45,392.00L316.98,393.16L317.52,394.28L318.06,395.37L318.59,396.42L319.13,397.44L319.66,398.43L320.20,399.39L320.73,400.31L321.27,401.20L321.80,402.06L322.34,402.90L322.88,403.70L323.41,404.48L323.95,405.23L324.48,405.96L325.02,406.66L325.55,407.34L326.09,407.99L326.63,408.63L327.16,409.24L327.70,409.83L328.23,410.41L328.77,410.96L329.30,411.50L329.84,412.03L330.37,412.53L330.91,413.02L331.45,413.50L331.98,413.97L332.52,414.42L333.05,414.86L333.59,415.28L334.12,415.70L334.66,416.11L335.19,416.51L335.73,416.90L336.27,417.28L336.80,417.65L337.34,418.02L337.87,418.37L338.41,418.73L338.94,419.07L339.48,419.41L340.02,419.74L340.55,420.07L341.09,420.40L341.62,420.72L342.16,421.04L342.69,421.35L343.23,421.66L343.76,421.96L344.30,422.26L344.84,422.56L345.37,422.86L345.91,423.15L346.44,423.44L346.98,423.73L347.51,424.02L348.05,424.30L348.58,424.58L349.12,424.87L349.66,425.14L350.19,425.42L350.73,425.70L351.26,425.97L351.80,426.24L352.33,426.52L352.87,426.79L353.41,427.06L353.94,427.32L354.48,427.59L355.01,427.86L355.55,428.12L356.08,428.38L356.62,428.65L357.15,428.91L357.69,429.17L358.23,429.43L358.76,429.69L359.30,429.94L359.83,430.20L360.37,430.46L360.90,430.71L361.44,430.97L361.97,431.22L362.51,431.47L363.05,431.72L363.58,431.98L364.12,432.23L364.65,432.48L365.19,432.73L365.72,432.97L366.26,433.22L366.80,433.47L367.33,433.71L367.87,433.96L368.40,434.20L368.94,434.45L369.47,434.69L370.01,434.93L370.54,435.18L371.08,435.42L371.62,435.66L372.15,435.90L372.69,436.14L373.22,436.37L373.76,436.61L374.29,436.85L374.83,437.08L375.36,437.32L375.90,437.55L376.44,437.79L376.97,438.02L377.51,438.25L378.04,438.49L378.58,438.72L379.11,438.95L379.65,439.18L380.19,439.41L380.72,439.64L381.26,439.87L381.79,440.09L382.33,440.32L382.86,440.55L383.40,440.77L383.93,441.00L384.47,441.22L385.01,441.44L385.54,441.67L386.08,441.89L386.61,442.11L387.15,442.33L387.68,442.55L388.22,442.77L388.75,442.99L389.29,443.21L389.83,443.43L390.36,443.65L390.90,443.86L391.43,444.08L391.97,444.29L392.50,444.51L393.04,444.72L393.58,444.94L394.11,445.15L394.65,445.36L395.18,445.57L395.72,445.78L396.25,445.99L396.79,446.20L397.32,446.41L397.86,446.62L398.40,446.83L398.93,447.04L399.47,447.24L400.00,447.45L400.54,447.66L401.07,447.86L401.61,448.07L402.14,448.27L402.68,448.47L403.22,448.68L403.75,448.88L404.29,449.08L404.82,449.28L405.36,449.48L405.89,449.68" fill="none" stroke="#203E80" stroke-width="1.45"/>
<path d="M303.33,351.35v3.2M317.09,391.78v3.2M327.46,407.97v3.2M330.54,411.09v3.2M331.44,411.90v3.2M331.77,412.19v3.2M334.34,414.27v3.2M338.33,417.08v3.2M339.72,417.96v3.2M346.20,421.71v3.2M346.81,422.04v3.2M352.64,425.07v3.2M354.13,425.82v3.2M354.38,425.94v3.2M355.36,426.43v3.2M356.31,426.89v3.2M357.99,427.72v3.2M359.55,428.46v3.2M361.59,429.44v3.2M366.65,431.80v3.2M368.47,432.63v3.2M373.91,435.08v3.2M374.56,435.37v3.2M375.90,435.95v3.2M377.84,436.80v3.2M378.40,437.04v3.2M380.04,437.75v3.2M383.08,439.04v3.2M386.89,440.62v3.2M388.86,441.43v3.2M389.77,441.80v3.2M394.89,443.86v3.2M398.40,445.23v3.2M398.58,445.30v3.2M400.96,446.22v3.2" fill="none" stroke="#203E80" stroke-width="0.9"/>
<line x1="434.3" y1="176.60" x2="449.6" y2="176.60" stroke="#E9BC22" stroke-width="1.3"/>
<line x1="441.9" y1="174.50" x2="441.9" y2="178.70" stroke="#E9BC22" stroke-width="1.2"/>
<text x="452.7" y="179.10" class="lg">I−PET1 negative</text>
<line x1="434.3" y1="187.16" x2="449.6" y2="187.16" stroke="#E08D18" stroke-width="1.3"/>
<line x1="441.9" y1="185.06" x2="441.9" y2="189.26" stroke="#E08D18" stroke-width="1.2"/>
<text x="452.7" y="189.66" class="lg">I−PET1 positive</text>
<line x1="434.3" y1="197.72" x2="449.6" y2="197.72" stroke="#DD9B8B" stroke-width="1.3"/>
<line x1="441.9" y1="195.62" x2="441.9" y2="199.82" stroke="#DD9B8B" stroke-width="1.2"/>
<text x="452.7" y="200.22" class="lg">I−PET2 negative</text>
<line x1="434.3" y1="208.28" x2="449.6" y2="208.28" stroke="#BA0F3D" stroke-width="1.3"/>
<line x1="441.9" y1="206.18" x2="441.9" y2="210.38" stroke="#BA0F3D" stroke-width="1.2"/>
<text x="452.7" y="210.78" class="lg">I−PET2 positive</text>
<line x1="434.3" y1="218.84" x2="449.6" y2="218.84" stroke="#62AD40" stroke-width="1.3"/>
<line x1="441.9" y1="216.74" x2="441.9" y2="220.94" stroke="#62AD40" stroke-width="1.2"/>
<text x="452.7" y="221.34" class="lg">I−PET3 negative</text>
<line x1="434.3" y1="229.40" x2="449.6" y2="229.40" stroke="#2A6143" stroke-width="1.3"/>
<line x1="441.9" y1="227.30" x2="441.9" y2="231.50" stroke="#2A6143" stroke-width="1.2"/>
<text x="452.7" y="231.90" class="lg">I−PET3 positive</text>
<line x1="434.3" y1="239.96" x2="449.6" y2="239.96" stroke="#64A8E2" stroke-width="1.3"/>
<line x1="441.9" y1="237.86" x2="441.9" y2="242.06" stroke="#64A8E2" stroke-width="1.2"/>
<text x="452.7" y="242.46" class="lg">I−PET4 negative</text>
<line x1="434.3" y1="250.52" x2="449.6" y2="250.52" stroke="#203E80" stroke-width="1.3"/>
<line x1="441.9" y1="248.42" x2="441.9" y2="252.62" stroke="#203E80" stroke-width="1.2"/>
<text x="452.7" y="253.02" class="lg">I−PET4 positive</text>
<rect x="0" y="0" width="520" height="1.2" fill="#050505"/>
<rect x="0" y="0" width="1.33" height="531" fill="#050505"/>
<rect x="518.6" y="0" width="1.4" height="531" fill="#050505"/>
<rect x="0" y="529.67" width="520" height="1.33" fill="#050505"/>
</svg>
</body></html>
